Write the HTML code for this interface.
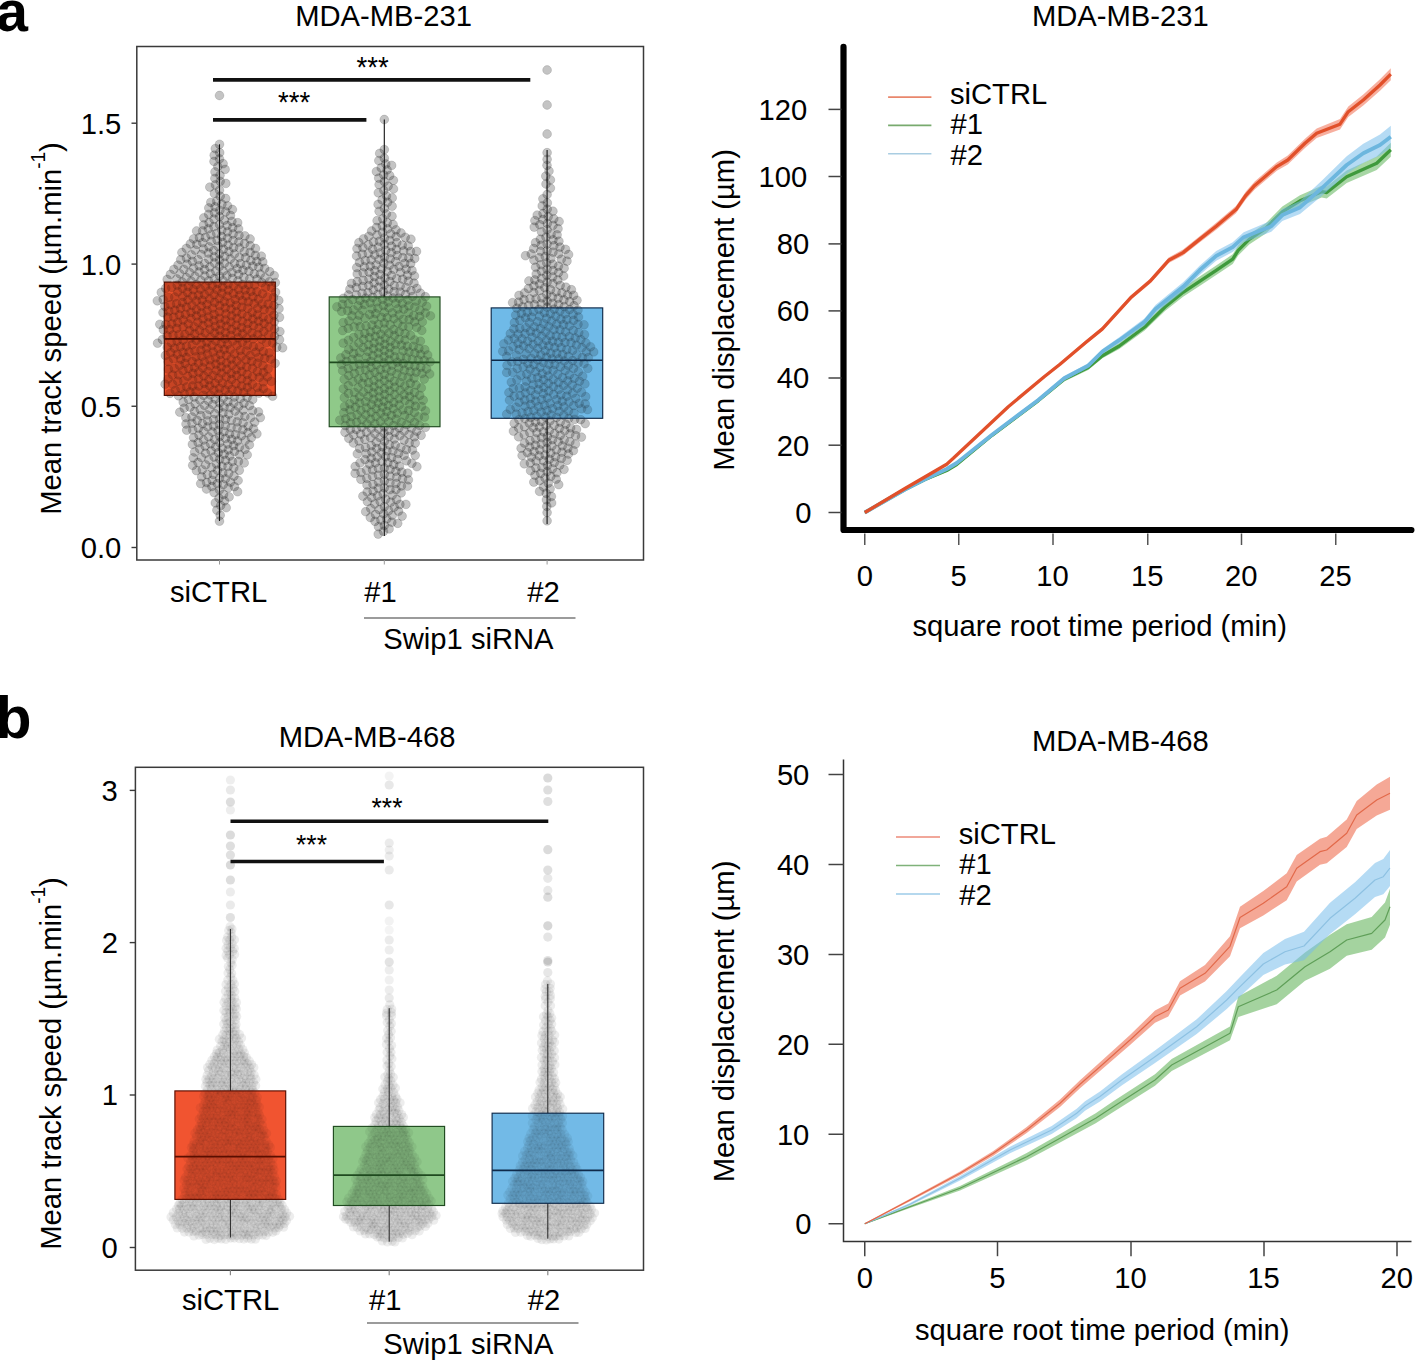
<!DOCTYPE html><html><head><meta charset="utf-8"><style>html,body{margin:0;padding:0;background:#fff;}svg{display:block;}</style></head><body><svg width="1416" height="1360" viewBox="0 0 1416 1360" font-family="Liberation Sans, sans-serif"><rect width="1416" height="1360" fill="#fff"/><text transform="translate(-3.79,31.20) scale(1,1.0)" font-size="57" font-weight="bold" fill="#000" >a</text>
<text transform="translate(-4.14,738.20) scale(1,1.0)" font-size="58.5" font-weight="bold" fill="#000" >b</text>
<rect x="136.80" y="46.50" width="506.70" height="513.50" fill="none" stroke="#3a3a3a" stroke-width="1.5" />
<line x1="131.50" y1="123.20" x2="136.80" y2="123.20" stroke="#3a3a3a" stroke-width="1.4" />
<text transform="translate(80.76,133.65) scale(1,1.04)" font-size="29.2" fill="#000" >1.5</text>
<line x1="131.50" y1="264.10" x2="136.80" y2="264.10" stroke="#3a3a3a" stroke-width="1.4" />
<text transform="translate(80.76,274.55) scale(1,1.04)" font-size="29.2" fill="#000" >1.0</text>
<line x1="131.50" y1="406.25" x2="136.80" y2="406.25" stroke="#3a3a3a" stroke-width="1.4" />
<text transform="translate(80.76,416.70) scale(1,1.04)" font-size="29.2" fill="#000" >0.5</text>
<line x1="131.50" y1="547.50" x2="136.80" y2="547.50" stroke="#3a3a3a" stroke-width="1.4" />
<text transform="translate(80.76,557.95) scale(1,1.04)" font-size="29.2" fill="#000" >0.0</text>
<line x1="219.50" y1="560.00" x2="219.50" y2="564.50" stroke="#999" stroke-width="1" />
<line x1="384.30" y1="560.00" x2="384.30" y2="564.50" stroke="#999" stroke-width="1" />
<line x1="547.10" y1="560.00" x2="547.10" y2="564.50" stroke="#999" stroke-width="1" />
<text transform="translate(295.16,26.20) scale(1,1.04)" font-size="29.2" fill="#000" >MDA-MB-231</text>
<text transform="translate(169.92,601.90) scale(1,1.04)" font-size="29.2" fill="#000" >siCTRL</text>
<text transform="translate(364.20,601.90) scale(1,1.04)" font-size="29.2" fill="#000" >#1</text>
<text transform="translate(527.30,602.20) scale(1,1.04)" font-size="29.2" fill="#000" >#2</text>
<line x1="364.00" y1="618.00" x2="575.50" y2="618.00" stroke="#7a7a7a" stroke-width="1.6" />
<text transform="translate(383.33,648.50) scale(1,1.04)" font-size="29.2" fill="#000" >Swip1 siRNA</text>
<text transform="translate(61,514.8) rotate(-90) scale(1,1.04)" font-size="29.2" fill="#000">Mean track speed (µm.min<tspan font-size="19" dy="-15">-1</tspan><tspan dy="15">)</tspan></text>
<defs><filter id="bla" x="-5%" y="-5%" width="110%" height="110%"><feGaussianBlur stdDeviation="0.45"/></filter></defs>
<rect x="164.30" y="282.10" width="111.00" height="113.30" fill="#ef522c" stroke="none" stroke-width="1" />
<g fill="rgba(0,0,0,0.23)" stroke="rgba(0,0,0,0.2)" stroke-width="0.7" filter="url(#bla)"><circle cx="219.5" cy="144.3" r="4.4"/><circle cx="215.3" cy="148.6" r="4.4"/><circle cx="219.7" cy="152.7" r="4.4"/><circle cx="214.2" cy="155.2" r="4.4"/><circle cx="219.5" cy="158.9" r="4.4"/><circle cx="214.0" cy="161.4" r="4.4"/><circle cx="223.1" cy="163.7" r="4.4"/><circle cx="217.8" cy="166.6" r="4.4"/><circle cx="225.1" cy="169.4" r="4.4"/><circle cx="215.0" cy="171.9" r="4.4"/><circle cx="220.0" cy="175.3" r="4.4"/><circle cx="214.9" cy="178.4" r="4.4"/><circle cx="220.2" cy="181.3" r="4.4"/><circle cx="225.8" cy="183.4" r="4.4"/><circle cx="215.4" cy="184.8" r="4.4"/><circle cx="209.8" cy="187.1" r="4.4"/><circle cx="219.5" cy="190.2" r="4.4"/><circle cx="214.4" cy="193.4" r="4.4"/><circle cx="220.2" cy="196.2" r="4.4"/><circle cx="225.7" cy="198.5" r="4.4"/><circle cx="216.7" cy="201.1" r="4.4"/><circle cx="210.8" cy="202.3" r="4.4"/><circle cx="221.9" cy="204.2" r="4.4"/><circle cx="227.6" cy="205.8" r="4.4"/><circle cx="215.0" cy="206.8" r="4.4"/><circle cx="208.8" cy="207.9" r="4.4"/><circle cx="232.4" cy="209.5" r="4.4"/><circle cx="219.9" cy="210.3" r="4.4"/><circle cx="225.7" cy="211.8" r="4.4"/><circle cx="214.5" cy="212.9" r="4.4"/><circle cx="208.7" cy="214.3" r="4.4"/><circle cx="230.5" cy="215.4" r="4.4"/><circle cx="219.5" cy="216.7" r="4.4"/><circle cx="203.8" cy="217.8" r="4.4"/><circle cx="214.0" cy="219.1" r="4.4"/><circle cx="224.4" cy="220.1" r="4.4"/><circle cx="231.9" cy="221.3" r="4.4"/><circle cx="209.1" cy="222.6" r="4.4"/><circle cx="237.7" cy="222.7" r="4.4"/><circle cx="219.5" cy="224.6" r="4.4"/><circle cx="203.6" cy="224.9" r="4.4"/><circle cx="227.1" cy="225.5" r="4.4"/><circle cx="213.9" cy="226.7" r="4.4"/><circle cx="232.7" cy="227.7" r="4.4"/><circle cx="208.3" cy="228.8" r="4.4"/><circle cx="238.6" cy="228.9" r="4.4"/><circle cx="221.8" cy="230.1" r="4.4"/><circle cx="202.6" cy="230.9" r="4.4"/><circle cx="196.6" cy="231.0" r="4.4"/><circle cx="227.5" cy="231.9" r="4.4"/><circle cx="216.6" cy="233.3" r="4.4"/><circle cx="233.1" cy="234.0" r="4.4"/><circle cx="210.9" cy="234.8" r="4.4"/><circle cx="239.0" cy="235.3" r="4.4"/><circle cx="244.9" cy="235.9" r="4.4"/><circle cx="221.7" cy="236.5" r="4.4"/><circle cx="205.4" cy="237.4" r="4.4"/><circle cx="199.4" cy="237.5" r="4.4"/><circle cx="227.4" cy="238.2" r="4.4"/><circle cx="193.6" cy="238.9" r="4.4"/><circle cx="250.1" cy="239.0" r="4.4"/><circle cx="217.1" cy="240.3" r="4.4"/><circle cx="233.0" cy="240.5" r="4.4"/><circle cx="211.2" cy="241.2" r="4.4"/><circle cx="238.8" cy="242.0" r="4.4"/><circle cx="222.7" cy="242.5" r="4.4"/><circle cx="202.6" cy="242.7" r="4.4"/><circle cx="244.6" cy="243.6" r="4.4"/><circle cx="190.3" cy="243.9" r="4.4"/><circle cx="196.8" cy="244.3" r="4.4"/><circle cx="228.1" cy="245.2" r="4.4"/><circle cx="250.2" cy="245.7" r="4.4"/><circle cx="218.1" cy="246.3" r="4.4"/><circle cx="209.0" cy="246.8" r="4.4"/><circle cx="233.6" cy="247.6" r="4.4"/><circle cx="239.5" cy="248.0" r="4.4"/><circle cx="186.3" cy="248.4" r="4.4"/><circle cx="255.5" cy="248.5" r="4.4"/><circle cx="203.5" cy="249.0" r="4.4"/><circle cx="223.4" cy="249.1" r="4.4"/><circle cx="195.2" cy="250.1" r="4.4"/><circle cx="213.8" cy="250.5" r="4.4"/><circle cx="228.9" cy="251.6" r="4.4"/><circle cx="244.2" cy="251.9" r="4.4"/><circle cx="250.1" cy="252.4" r="4.4"/><circle cx="181.9" cy="252.5" r="4.4"/><circle cx="208.3" cy="253.0" r="4.4"/><circle cx="219.5" cy="253.8" r="4.4"/><circle cx="234.4" cy="254.0" r="4.4"/><circle cx="201.2" cy="254.5" r="4.4"/><circle cx="191.5" cy="254.9" r="4.4"/><circle cx="255.3" cy="255.4" r="4.4"/><circle cx="261.3" cy="256.1" r="4.4"/><circle cx="224.9" cy="256.4" r="4.4"/><circle cx="214.3" cy="256.9" r="4.4"/><circle cx="239.3" cy="257.4" r="4.4"/><circle cx="245.6" cy="257.7" r="4.4"/><circle cx="186.4" cy="258.0" r="4.4"/><circle cx="230.4" cy="259.0" r="4.4"/><circle cx="208.8" cy="259.1" r="4.4"/><circle cx="198.1" cy="259.7" r="4.4"/><circle cx="180.7" cy="259.7" r="4.4"/><circle cx="219.5" cy="259.9" r="4.4"/><circle cx="250.9" cy="260.5" r="4.4"/><circle cx="192.4" cy="261.4" r="4.4"/><circle cx="256.8" cy="261.5" r="4.4"/><circle cx="262.8" cy="261.9" r="4.4"/><circle cx="214.4" cy="263.0" r="4.4"/><circle cx="224.5" cy="263.1" r="4.4"/><circle cx="234.5" cy="263.3" r="4.4"/><circle cx="204.7" cy="263.5" r="4.4"/><circle cx="240.5" cy="263.7" r="4.4"/><circle cx="187.1" cy="264.2" r="4.4"/><circle cx="246.3" cy="265.1" r="4.4"/><circle cx="178.0" cy="265.1" r="4.4"/><circle cx="199.1" cy="265.8" r="4.4"/><circle cx="252.8" cy="266.2" r="4.4"/><circle cx="219.5" cy="266.3" r="4.4"/><circle cx="209.9" cy="267.0" r="4.4"/><circle cx="229.1" cy="267.0" r="4.4"/><circle cx="258.8" cy="267.2" r="4.4"/><circle cx="193.5" cy="268.0" r="4.4"/><circle cx="264.7" cy="268.4" r="4.4"/><circle cx="237.2" cy="268.7" r="4.4"/><circle cx="183.9" cy="269.3" r="4.4"/><circle cx="173.9" cy="269.4" r="4.4"/><circle cx="204.6" cy="269.7" r="4.4"/><circle cx="243.0" cy="270.1" r="4.4"/><circle cx="223.2" cy="271.1" r="4.4"/><circle cx="215.8" cy="271.1" r="4.4"/><circle cx="248.9" cy="271.1" r="4.4"/><circle cx="269.7" cy="271.7" r="4.4"/><circle cx="199.0" cy="272.0" r="4.4"/><circle cx="232.0" cy="272.3" r="4.4"/><circle cx="189.7" cy="272.7" r="4.4"/><circle cx="210.4" cy="273.6" r="4.4"/><circle cx="254.3" cy="273.8" r="4.4"/><circle cx="179.9" cy="273.8" r="4.4"/><circle cx="260.3" cy="274.0" r="4.4"/><circle cx="170.4" cy="274.4" r="4.4"/><circle cx="238.6" cy="274.5" r="4.4"/><circle cx="274.2" cy="275.6" r="4.4"/><circle cx="226.9" cy="275.7" r="4.4"/><circle cx="219.5" cy="275.9" r="4.4"/><circle cx="204.9" cy="276.0" r="4.4"/><circle cx="195.0" cy="276.4" r="4.4"/><circle cx="243.9" cy="277.2" r="4.4"/><circle cx="186.2" cy="277.5" r="4.4"/><circle cx="265.1" cy="277.6" r="4.4"/><circle cx="232.4" cy="278.3" r="4.4"/><circle cx="214.1" cy="278.6" r="4.4"/><circle cx="249.7" cy="278.8" r="4.4"/><circle cx="176.8" cy="278.9" r="4.4"/><circle cx="256.9" cy="279.2" r="4.4"/><circle cx="167.2" cy="279.4" r="4.4"/><circle cx="200.8" cy="280.4" r="4.4"/><circle cx="223.1" cy="280.7" r="4.4"/><circle cx="237.9" cy="280.8" r="4.4"/><circle cx="208.6" cy="280.9" r="4.4"/><circle cx="191.2" cy="281.1" r="4.4"/><circle cx="269.4" cy="281.8" r="4.4"/><circle cx="182.3" cy="282.0" r="4.4"/><circle cx="275.3" cy="282.6" r="4.4"/><circle cx="261.8" cy="282.6" r="4.4"/><circle cx="217.8" cy="283.4" r="4.4"/><circle cx="228.0" cy="284.2" r="4.4"/><circle cx="242.7" cy="284.4" r="4.4"/><circle cx="196.5" cy="284.6" r="4.4"/><circle cx="248.7" cy="284.8" r="4.4"/><circle cx="254.6" cy="285.1" r="4.4"/><circle cx="177.2" cy="285.2" r="4.4"/><circle cx="212.3" cy="285.8" r="4.4"/><circle cx="233.7" cy="285.9" r="4.4"/><circle cx="205.5" cy="286.1" r="4.4"/><circle cx="188.3" cy="286.4" r="4.4"/><circle cx="222.5" cy="287.2" r="4.4"/><circle cx="265.5" cy="287.4" r="4.4"/><circle cx="171.7" cy="287.5" r="4.4"/><circle cx="271.5" cy="287.7" r="4.4"/><circle cx="182.5" cy="288.1" r="4.4"/><circle cx="165.7" cy="288.3" r="4.4"/><circle cx="200.4" cy="289.2" r="4.4"/><circle cx="238.6" cy="289.5" r="4.4"/><circle cx="217.0" cy="289.7" r="4.4"/><circle cx="193.4" cy="289.7" r="4.4"/><circle cx="245.1" cy="289.9" r="4.4"/><circle cx="228.4" cy="290.2" r="4.4"/><circle cx="209.2" cy="291.0" r="4.4"/><circle cx="250.9" cy="291.3" r="4.4"/><circle cx="256.9" cy="291.7" r="4.4"/><circle cx="177.8" cy="291.8" r="4.4"/><circle cx="275.6" cy="292.1" r="4.4"/><circle cx="187.4" cy="292.3" r="4.4"/><circle cx="161.3" cy="292.4" r="4.4"/><circle cx="221.9" cy="293.2" r="4.4"/><circle cx="233.3" cy="293.6" r="4.4"/><circle cx="262.5" cy="293.8" r="4.4"/><circle cx="204.5" cy="294.6" r="4.4"/><circle cx="214.0" cy="294.8" r="4.4"/><circle cx="198.5" cy="295.1" r="4.4"/><circle cx="239.6" cy="295.4" r="4.4"/><circle cx="246.0" cy="295.8" r="4.4"/><circle cx="227.2" cy="296.1" r="4.4"/><circle cx="192.6" cy="296.2" r="4.4"/><circle cx="183.0" cy="296.4" r="4.4"/><circle cx="253.0" cy="296.9" r="4.4"/><circle cx="174.7" cy="297.0" r="4.4"/><circle cx="267.6" cy="297.0" r="4.4"/><circle cx="168.7" cy="297.3" r="4.4"/><circle cx="273.5" cy="297.7" r="4.4"/><circle cx="219.1" cy="298.5" r="4.4"/><circle cx="209.6" cy="299.0" r="4.4"/><circle cx="258.6" cy="299.2" r="4.4"/><circle cx="235.2" cy="299.4" r="4.4"/><circle cx="163.2" cy="299.6" r="4.4"/><circle cx="187.9" cy="299.9" r="4.4"/><circle cx="202.2" cy="300.1" r="4.4"/><circle cx="278.8" cy="300.5" r="4.4"/><circle cx="242.4" cy="300.7" r="4.4"/><circle cx="157.3" cy="300.8" r="4.4"/><circle cx="196.3" cy="301.0" r="4.4"/><circle cx="224.3" cy="301.6" r="4.4"/><circle cx="248.3" cy="301.8" r="4.4"/><circle cx="214.6" cy="302.4" r="4.4"/><circle cx="182.4" cy="302.5" r="4.4"/><circle cx="230.2" cy="302.8" r="4.4"/><circle cx="254.1" cy="303.5" r="4.4"/><circle cx="176.6" cy="303.7" r="4.4"/><circle cx="262.1" cy="304.0" r="4.4"/><circle cx="268.1" cy="304.1" r="4.4"/><circle cx="207.0" cy="304.4" r="4.4"/><circle cx="170.6" cy="304.7" r="4.4"/><circle cx="236.2" cy="305.3" r="4.4"/><circle cx="192.0" cy="305.3" r="4.4"/><circle cx="273.9" cy="305.5" r="4.4"/><circle cx="219.6" cy="305.7" r="4.4"/><circle cx="201.3" cy="306.2" r="4.4"/><circle cx="164.9" cy="306.3" r="4.4"/><circle cx="241.8" cy="307.2" r="4.4"/><circle cx="186.4" cy="307.2" r="4.4"/><circle cx="225.2" cy="307.9" r="4.4"/><circle cx="212.6" cy="308.1" r="4.4"/><circle cx="247.8" cy="308.2" r="4.4"/><circle cx="257.7" cy="308.3" r="4.4"/><circle cx="180.5" cy="308.3" r="4.4"/><circle cx="279.0" cy="308.7" r="4.4"/><circle cx="231.1" cy="309.0" r="4.4"/><circle cx="196.3" cy="309.6" r="4.4"/><circle cx="264.1" cy="309.7" r="4.4"/><circle cx="174.8" cy="310.2" r="4.4"/><circle cx="207.1" cy="310.6" r="4.4"/><circle cx="270.0" cy="310.6" r="4.4"/><circle cx="168.8" cy="311.1" r="4.4"/><circle cx="219.5" cy="311.8" r="4.4"/><circle cx="236.4" cy="311.9" r="4.4"/><circle cx="191.0" cy="312.3" r="4.4"/><circle cx="252.1" cy="312.3" r="4.4"/><circle cx="163.0" cy="312.6" r="4.4"/><circle cx="201.6" cy="312.9" r="4.4"/><circle cx="225.9" cy="313.9" r="4.4"/><circle cx="242.0" cy="313.9" r="4.4"/><circle cx="214.1" cy="314.4" r="4.4"/><circle cx="185.4" cy="314.4" r="4.4"/><circle cx="257.5" cy="314.8" r="4.4"/><circle cx="179.4" cy="314.9" r="4.4"/><circle cx="273.9" cy="315.2" r="4.4"/><circle cx="231.6" cy="315.8" r="4.4"/><circle cx="196.4" cy="315.9" r="4.4"/><circle cx="247.5" cy="316.4" r="4.4"/><circle cx="208.6" cy="316.9" r="4.4"/><circle cx="263.1" cy="317.1" r="4.4"/><circle cx="173.8" cy="317.2" r="4.4"/><circle cx="167.8" cy="317.2" r="4.4"/><circle cx="279.5" cy="317.3" r="4.4"/><circle cx="219.5" cy="318.3" r="4.4"/><circle cx="237.0" cy="318.4" r="4.4"/><circle cx="191.0" cy="318.5" r="4.4"/><circle cx="203.0" cy="318.8" r="4.4"/><circle cx="252.9" cy="319.0" r="4.4"/><circle cx="268.7" cy="319.1" r="4.4"/><circle cx="225.3" cy="320.0" r="4.4"/><circle cx="183.1" cy="320.0" r="4.4"/><circle cx="213.9" cy="320.4" r="4.4"/><circle cx="242.3" cy="321.1" r="4.4"/><circle cx="258.5" cy="321.1" r="4.4"/><circle cx="274.2" cy="321.7" r="4.4"/><circle cx="230.9" cy="321.9" r="4.4"/><circle cx="197.9" cy="322.1" r="4.4"/><circle cx="177.6" cy="322.4" r="4.4"/><circle cx="208.4" cy="323.0" r="4.4"/><circle cx="247.9" cy="323.3" r="4.4"/><circle cx="264.1" cy="323.4" r="4.4"/><circle cx="188.3" cy="323.9" r="4.4"/><circle cx="171.8" cy="323.9" r="4.4"/><circle cx="220.8" cy="324.2" r="4.4"/><circle cx="165.8" cy="324.3" r="4.4"/><circle cx="159.8" cy="324.3" r="4.4"/><circle cx="236.1" cy="325.1" r="4.4"/><circle cx="203.0" cy="325.5" r="4.4"/><circle cx="253.4" cy="325.7" r="4.4"/><circle cx="226.5" cy="326.1" r="4.4"/><circle cx="215.2" cy="326.4" r="4.4"/><circle cx="194.2" cy="326.8" r="4.4"/><circle cx="183.1" cy="326.8" r="4.4"/><circle cx="268.9" cy="326.9" r="4.4"/><circle cx="241.5" cy="327.6" r="4.4"/><circle cx="259.0" cy="327.9" r="4.4"/><circle cx="176.7" cy="328.3" r="4.4"/><circle cx="274.6" cy="328.8" r="4.4"/><circle cx="209.9" cy="329.1" r="4.4"/><circle cx="231.6" cy="329.3" r="4.4"/><circle cx="247.2" cy="329.4" r="4.4"/><circle cx="169.5" cy="329.5" r="4.4"/><circle cx="163.3" cy="329.7" r="4.4"/><circle cx="219.9" cy="330.2" r="4.4"/><circle cx="199.6" cy="330.4" r="4.4"/><circle cx="189.6" cy="330.7" r="4.4"/><circle cx="263.9" cy="331.4" r="4.4"/><circle cx="279.9" cy="331.6" r="4.4"/><circle cx="237.0" cy="332.0" r="4.4"/><circle cx="225.4" cy="332.6" r="4.4"/><circle cx="205.2" cy="332.8" r="4.4"/><circle cx="214.6" cy="332.9" r="4.4"/><circle cx="252.0" cy="333.0" r="4.4"/><circle cx="242.7" cy="333.8" r="4.4"/><circle cx="194.7" cy="333.9" r="4.4"/><circle cx="185.0" cy="334.5" r="4.4"/><circle cx="257.8" cy="334.6" r="4.4"/><circle cx="179.0" cy="334.6" r="4.4"/><circle cx="173.0" cy="335.0" r="4.4"/><circle cx="268.6" cy="335.1" r="4.4"/><circle cx="230.7" cy="335.3" r="4.4"/><circle cx="167.1" cy="335.8" r="4.4"/><circle cx="219.6" cy="336.2" r="4.4"/><circle cx="274.5" cy="336.3" r="4.4"/><circle cx="210.5" cy="337.3" r="4.4"/><circle cx="201.5" cy="337.6" r="4.4"/><circle cx="238.2" cy="337.8" r="4.4"/><circle cx="246.8" cy="338.1" r="4.4"/><circle cx="190.5" cy="338.2" r="4.4"/><circle cx="225.0" cy="338.8" r="4.4"/><circle cx="253.3" cy="338.9" r="4.4"/><circle cx="261.7" cy="339.1" r="4.4"/><circle cx="162.4" cy="339.6" r="4.4"/><circle cx="279.5" cy="339.7" r="4.4"/><circle cx="183.0" cy="340.2" r="4.4"/><circle cx="196.2" cy="340.4" r="4.4"/><circle cx="215.8" cy="340.9" r="4.4"/><circle cx="232.9" cy="341.0" r="4.4"/><circle cx="177.1" cy="341.1" r="4.4"/><circle cx="206.9" cy="342.1" r="4.4"/><circle cx="242.3" cy="342.2" r="4.4"/><circle cx="266.6" cy="342.6" r="4.4"/><circle cx="171.4" cy="342.8" r="4.4"/><circle cx="272.6" cy="342.9" r="4.4"/><circle cx="157.6" cy="343.2" r="4.4"/><circle cx="221.2" cy="343.5" r="4.4"/><circle cx="227.6" cy="344.2" r="4.4"/><circle cx="201.3" cy="344.2" r="4.4"/><circle cx="192.2" cy="344.9" r="4.4"/><circle cx="247.6" cy="345.1" r="4.4"/><circle cx="237.0" cy="345.3" r="4.4"/><circle cx="212.1" cy="345.6" r="4.4"/><circle cx="186.4" cy="346.2" r="4.4"/><circle cx="253.4" cy="346.6" r="4.4"/><circle cx="180.4" cy="346.7" r="4.4"/><circle cx="259.4" cy="346.9" r="4.4"/><circle cx="167.3" cy="347.2" r="4.4"/><circle cx="276.7" cy="347.3" r="4.4"/><circle cx="282.6" cy="347.8" r="4.4"/><circle cx="206.5" cy="348.1" r="4.4"/><circle cx="174.5" cy="348.1" r="4.4"/><circle cx="218.2" cy="348.7" r="4.4"/><circle cx="224.2" cy="349.5" r="4.4"/><circle cx="230.2" cy="349.7" r="4.4"/><circle cx="200.9" cy="350.2" r="4.4"/><circle cx="240.2" cy="350.4" r="4.4"/><circle cx="194.9" cy="350.9" r="4.4"/><circle cx="246.2" cy="351.0" r="4.4"/><circle cx="263.3" cy="351.5" r="4.4"/><circle cx="213.2" cy="352.0" r="4.4"/><circle cx="189.0" cy="352.0" r="4.4"/><circle cx="255.8" cy="352.1" r="4.4"/><circle cx="183.0" cy="352.3" r="4.4"/><circle cx="170.7" cy="352.7" r="4.4"/><circle cx="269.2" cy="352.9" r="4.4"/><circle cx="234.6" cy="353.8" r="4.4"/><circle cx="207.5" cy="354.0" r="4.4"/><circle cx="177.3" cy="354.2" r="4.4"/><circle cx="220.4" cy="354.3" r="4.4"/><circle cx="226.3" cy="355.4" r="4.4"/><circle cx="250.2" cy="355.5" r="4.4"/><circle cx="165.4" cy="355.5" r="4.4"/><circle cx="201.9" cy="356.2" r="4.4"/><circle cx="241.2" cy="356.3" r="4.4"/><circle cx="196.0" cy="356.9" r="4.4"/><circle cx="258.9" cy="357.3" r="4.4"/><circle cx="186.4" cy="357.5" r="4.4"/><circle cx="215.6" cy="357.9" r="4.4"/><circle cx="264.8" cy="358.2" r="4.4"/><circle cx="173.5" cy="358.8" r="4.4"/><circle cx="231.2" cy="359.0" r="4.4"/><circle cx="270.7" cy="359.1" r="4.4"/><circle cx="180.7" cy="359.2" r="4.4"/><circle cx="209.9" cy="359.8" r="4.4"/><circle cx="246.0" cy="359.9" r="4.4"/><circle cx="220.9" cy="360.7" r="4.4"/><circle cx="236.9" cy="360.9" r="4.4"/><circle cx="192.1" cy="361.4" r="4.4"/><circle cx="251.8" cy="361.4" r="4.4"/><circle cx="168.2" cy="361.7" r="4.4"/><circle cx="204.3" cy="362.0" r="4.4"/><circle cx="226.5" cy="363.0" r="4.4"/><circle cx="198.4" cy="363.1" r="4.4"/><circle cx="257.5" cy="363.1" r="4.4"/><circle cx="275.1" cy="363.3" r="4.4"/><circle cx="185.1" cy="363.3" r="4.4"/><circle cx="215.9" cy="364.1" r="4.4"/><circle cx="232.1" cy="365.1" r="4.4"/><circle cx="240.9" cy="365.3" r="4.4"/><circle cx="179.5" cy="365.4" r="4.4"/><circle cx="263.0" cy="365.6" r="4.4"/><circle cx="210.2" cy="365.9" r="4.4"/><circle cx="221.2" cy="366.9" r="4.4"/><circle cx="246.7" cy="367.0" r="4.4"/><circle cx="194.4" cy="367.5" r="4.4"/><circle cx="202.8" cy="367.8" r="4.4"/><circle cx="252.5" cy="368.2" r="4.4"/><circle cx="188.5" cy="368.3" r="4.4"/><circle cx="174.3" cy="368.5" r="4.4"/><circle cx="268.1" cy="368.8" r="4.4"/><circle cx="226.8" cy="369.2" r="4.4"/><circle cx="168.4" cy="369.2" r="4.4"/><circle cx="236.1" cy="369.5" r="4.4"/><circle cx="216.3" cy="370.3" r="4.4"/><circle cx="183.0" cy="370.7" r="4.4"/><circle cx="207.9" cy="371.5" r="4.4"/><circle cx="241.8" cy="371.5" r="4.4"/><circle cx="257.4" cy="371.7" r="4.4"/><circle cx="198.8" cy="372.2" r="4.4"/><circle cx="263.4" cy="372.5" r="4.4"/><circle cx="221.6" cy="373.1" r="4.4"/><circle cx="231.1" cy="373.3" r="4.4"/><circle cx="192.9" cy="373.4" r="4.4"/><circle cx="247.1" cy="374.4" r="4.4"/><circle cx="178.6" cy="374.8" r="4.4"/><circle cx="172.6" cy="375.0" r="4.4"/><circle cx="212.9" cy="375.3" r="4.4"/><circle cx="236.7" cy="375.5" r="4.4"/><circle cx="203.9" cy="375.9" r="4.4"/><circle cx="187.6" cy="376.2" r="4.4"/><circle cx="252.6" cy="376.8" r="4.4"/><circle cx="267.4" cy="376.9" r="4.4"/><circle cx="226.3" cy="376.9" r="4.4"/><circle cx="259.2" cy="377.4" r="4.4"/><circle cx="218.5" cy="378.3" r="4.4"/><circle cx="198.6" cy="378.8" r="4.4"/><circle cx="241.6" cy="378.9" r="4.4"/><circle cx="168.1" cy="379.0" r="4.4"/><circle cx="231.7" cy="379.5" r="4.4"/><circle cx="208.9" cy="379.7" r="4.4"/><circle cx="192.7" cy="379.8" r="4.4"/><circle cx="247.4" cy="380.7" r="4.4"/><circle cx="183.8" cy="380.9" r="4.4"/><circle cx="177.8" cy="381.2" r="4.4"/><circle cx="271.4" cy="381.4" r="4.4"/><circle cx="263.3" cy="381.9" r="4.4"/><circle cx="222.5" cy="382.8" r="4.4"/><circle cx="215.1" cy="383.2" r="4.4"/><circle cx="204.1" cy="383.3" r="4.4"/><circle cx="236.0" cy="383.7" r="4.4"/><circle cx="252.4" cy="384.0" r="4.4"/><circle cx="172.6" cy="384.2" r="4.4"/><circle cx="165.1" cy="384.2" r="4.4"/><circle cx="228.2" cy="384.8" r="4.4"/><circle cx="209.7" cy="385.8" r="4.4"/><circle cx="198.7" cy="386.0" r="4.4"/><circle cx="241.6" cy="386.0" r="4.4"/><circle cx="192.7" cy="386.0" r="4.4"/><circle cx="186.7" cy="386.9" r="4.4"/><circle cx="257.4" cy="387.3" r="4.4"/><circle cx="247.4" cy="387.4" r="4.4"/><circle cx="219.5" cy="388.2" r="4.4"/><circle cx="180.9" cy="388.3" r="4.4"/><circle cx="263.3" cy="388.7" r="4.4"/><circle cx="232.0" cy="389.4" r="4.4"/><circle cx="205.0" cy="389.5" r="4.4"/><circle cx="225.2" cy="390.1" r="4.4"/><circle cx="213.9" cy="390.2" r="4.4"/><circle cx="175.3" cy="390.4" r="4.4"/><circle cx="237.8" cy="391.0" r="4.4"/><circle cx="196.0" cy="391.3" r="4.4"/><circle cx="190.0" cy="392.0" r="4.4"/><circle cx="251.1" cy="392.1" r="4.4"/><circle cx="243.7" cy="392.3" r="4.4"/><circle cx="267.6" cy="392.9" r="4.4"/><circle cx="259.0" cy="393.1" r="4.4"/><circle cx="170.0" cy="393.3" r="4.4"/><circle cx="184.3" cy="393.8" r="4.4"/><circle cx="218.7" cy="394.1" r="4.4"/><circle cx="228.9" cy="394.8" r="4.4"/><circle cx="210.3" cy="395.0" r="4.4"/><circle cx="203.5" cy="395.3" r="4.4"/><circle cx="178.6" cy="395.8" r="4.4"/><circle cx="272.6" cy="396.2" r="4.4"/><circle cx="234.5" cy="397.0" r="4.4"/><circle cx="194.1" cy="397.0" r="4.4"/><circle cx="247.1" cy="397.3" r="4.4"/><circle cx="223.3" cy="397.9" r="4.4"/><circle cx="240.3" cy="398.4" r="4.4"/><circle cx="215.2" cy="399.0" r="4.4"/><circle cx="188.5" cy="399.3" r="4.4"/><circle cx="252.7" cy="399.4" r="4.4"/><circle cx="199.9" cy="400.1" r="4.4"/><circle cx="208.2" cy="400.6" r="4.4"/><circle cx="227.9" cy="401.8" r="4.4"/><circle cx="183.2" cy="402.1" r="4.4"/><circle cx="219.7" cy="402.9" r="4.4"/><circle cx="233.8" cy="403.0" r="4.4"/><circle cx="244.0" cy="403.2" r="4.4"/><circle cx="195.2" cy="403.9" r="4.4"/><circle cx="212.8" cy="404.5" r="4.4"/><circle cx="204.5" cy="405.4" r="4.4"/><circle cx="249.5" cy="405.6" r="4.4"/><circle cx="238.7" cy="406.4" r="4.4"/><circle cx="224.1" cy="406.9" r="4.4"/><circle cx="190.1" cy="407.1" r="4.4"/><circle cx="230.1" cy="407.7" r="4.4"/><circle cx="184.2" cy="408.1" r="4.4"/><circle cx="218.5" cy="409.0" r="4.4"/><circle cx="209.5" cy="409.5" r="4.4"/><circle cx="200.2" cy="409.5" r="4.4"/><circle cx="243.4" cy="410.1" r="4.4"/><circle cx="252.6" cy="410.7" r="4.4"/><circle cx="235.0" cy="411.2" r="4.4"/><circle cx="194.5" cy="411.5" r="4.4"/><circle cx="258.5" cy="411.9" r="4.4"/><circle cx="179.8" cy="412.2" r="4.4"/><circle cx="223.0" cy="413.0" r="4.4"/><circle cx="214.8" cy="413.7" r="4.4"/><circle cx="228.9" cy="414.1" r="4.4"/><circle cx="206.9" cy="414.9" r="4.4"/><circle cx="200.9" cy="415.6" r="4.4"/><circle cx="238.9" cy="415.7" r="4.4"/><circle cx="244.9" cy="416.5" r="4.4"/><circle cx="191.9" cy="416.9" r="4.4"/><circle cx="250.8" cy="417.5" r="4.4"/><circle cx="185.9" cy="417.6" r="4.4"/><circle cx="260.3" cy="417.6" r="4.4"/><circle cx="219.5" cy="418.7" r="4.4"/><circle cx="225.5" cy="419.4" r="4.4"/><circle cx="213.6" cy="419.7" r="4.4"/><circle cx="231.4" cy="420.3" r="4.4"/><circle cx="197.2" cy="420.3" r="4.4"/><circle cx="207.7" cy="420.8" r="4.4"/><circle cx="237.2" cy="421.8" r="4.4"/><circle cx="254.7" cy="422.1" r="4.4"/><circle cx="243.1" cy="422.9" r="4.4"/><circle cx="192.0" cy="423.3" r="4.4"/><circle cx="202.4" cy="423.6" r="4.4"/><circle cx="186.0" cy="424.0" r="4.4"/><circle cx="219.5" cy="424.7" r="4.4"/><circle cx="225.4" cy="425.6" r="4.4"/><circle cx="213.6" cy="426.0" r="4.4"/><circle cx="248.2" cy="426.1" r="4.4"/><circle cx="207.7" cy="426.9" r="4.4"/><circle cx="231.1" cy="427.6" r="4.4"/><circle cx="237.1" cy="428.0" r="4.4"/><circle cx="198.4" cy="428.2" r="4.4"/><circle cx="253.5" cy="428.8" r="4.4"/><circle cx="242.9" cy="429.6" r="4.4"/><circle cx="192.7" cy="429.9" r="4.4"/><circle cx="186.7" cy="430.2" r="4.4"/><circle cx="218.1" cy="430.6" r="4.4"/><circle cx="203.7" cy="431.4" r="4.4"/><circle cx="224.0" cy="431.6" r="4.4"/><circle cx="212.3" cy="432.0" r="4.4"/><circle cx="248.0" cy="432.7" r="4.4"/><circle cx="229.6" cy="433.8" r="4.4"/><circle cx="256.9" cy="433.8" r="4.4"/><circle cx="235.5" cy="434.7" r="4.4"/><circle cx="199.0" cy="435.1" r="4.4"/><circle cx="241.4" cy="435.8" r="4.4"/><circle cx="219.8" cy="436.3" r="4.4"/><circle cx="208.6" cy="436.8" r="4.4"/><circle cx="193.6" cy="437.6" r="4.4"/><circle cx="251.3" cy="437.7" r="4.4"/><circle cx="225.5" cy="438.4" r="4.4"/><circle cx="214.7" cy="439.4" r="4.4"/><circle cx="231.7" cy="439.4" r="4.4"/><circle cx="203.5" cy="440.0" r="4.4"/><circle cx="245.2" cy="440.5" r="4.4"/><circle cx="237.5" cy="441.0" r="4.4"/><circle cx="219.7" cy="442.6" r="4.4"/><circle cx="198.1" cy="442.7" r="4.4"/><circle cx="210.6" cy="443.8" r="4.4"/><circle cx="227.8" cy="444.0" r="4.4"/><circle cx="192.4" cy="444.3" r="4.4"/><circle cx="249.4" cy="444.8" r="4.4"/><circle cx="233.6" cy="445.6" r="4.4"/><circle cx="205.1" cy="446.1" r="4.4"/><circle cx="215.7" cy="447.1" r="4.4"/><circle cx="239.4" cy="447.1" r="4.4"/><circle cx="222.2" cy="448.1" r="4.4"/><circle cx="199.7" cy="448.9" r="4.4"/><circle cx="245.0" cy="449.3" r="4.4"/><circle cx="228.3" cy="449.9" r="4.4"/><circle cx="211.1" cy="450.9" r="4.4"/><circle cx="234.5" cy="451.5" r="4.4"/><circle cx="194.6" cy="452.0" r="4.4"/><circle cx="218.3" cy="452.7" r="4.4"/><circle cx="205.5" cy="453.2" r="4.4"/><circle cx="224.1" cy="454.2" r="4.4"/><circle cx="239.7" cy="454.7" r="4.4"/><circle cx="247.2" cy="454.8" r="4.4"/><circle cx="229.8" cy="456.0" r="4.4"/><circle cx="214.1" cy="457.0" r="4.4"/><circle cx="201.4" cy="457.5" r="4.4"/><circle cx="193.2" cy="457.8" r="4.4"/><circle cx="219.7" cy="459.1" r="4.4"/><circle cx="208.8" cy="459.7" r="4.4"/><circle cx="225.6" cy="460.4" r="4.4"/><circle cx="232.4" cy="461.4" r="4.4"/><circle cx="238.4" cy="461.4" r="4.4"/><circle cx="198.0" cy="462.5" r="4.4"/><circle cx="244.2" cy="462.9" r="4.4"/><circle cx="216.4" cy="464.0" r="4.4"/><circle cx="205.7" cy="464.8" r="4.4"/><circle cx="192.7" cy="465.3" r="4.4"/><circle cx="222.0" cy="466.2" r="4.4"/><circle cx="228.0" cy="466.4" r="4.4"/><circle cx="211.6" cy="467.7" r="4.4"/><circle cx="233.8" cy="467.8" r="4.4"/><circle cx="202.3" cy="469.8" r="4.4"/><circle cx="217.5" cy="470.2" r="4.4"/><circle cx="239.3" cy="470.3" r="4.4"/><circle cx="196.4" cy="470.6" r="4.4"/><circle cx="222.8" cy="472.9" r="4.4"/><circle cx="228.8" cy="473.1" r="4.4"/><circle cx="213.3" cy="474.5" r="4.4"/><circle cx="207.3" cy="474.7" r="4.4"/><circle cx="234.0" cy="476.1" r="4.4"/><circle cx="201.7" cy="476.8" r="4.4"/><circle cx="219.5" cy="478.2" r="4.4"/><circle cx="225.5" cy="478.8" r="4.4"/><circle cx="212.2" cy="480.3" r="4.4"/><circle cx="238.1" cy="480.5" r="4.4"/><circle cx="230.5" cy="482.1" r="4.4"/><circle cx="206.6" cy="482.5" r="4.4"/><circle cx="200.7" cy="483.6" r="4.4"/><circle cx="217.2" cy="483.7" r="4.4"/><circle cx="223.2" cy="484.6" r="4.4"/><circle cx="211.9" cy="486.5" r="4.4"/><circle cx="234.4" cy="486.6" r="4.4"/><circle cx="228.2" cy="487.9" r="4.4"/><circle cx="206.5" cy="489.0" r="4.4"/><circle cx="219.5" cy="490.0" r="4.4"/><circle cx="237.6" cy="491.7" r="4.4"/><circle cx="214.1" cy="492.6" r="4.4"/><circle cx="223.6" cy="494.4" r="4.4"/><circle cx="229.1" cy="496.9" r="4.4"/><circle cx="219.0" cy="498.2" r="4.4"/><circle cx="224.5" cy="500.8" r="4.4"/><circle cx="215.3" cy="502.9" r="4.4"/><circle cx="220.7" cy="505.5" r="4.4"/><circle cx="226.2" cy="507.7" r="4.4"/><circle cx="216.9" cy="510.2" r="4.4"/><circle cx="220.2" cy="515.2" r="4.4"/><circle cx="219.5" cy="521.2" r="4.4"/><circle cx="219.5" cy="95.5" r="4.4"/></g>
<rect x="164.30" y="282.10" width="111.00" height="113.30" fill="#ef522c" stroke="none" stroke-width="1" fill-opacity="0.28"/>
<line x1="219.50" y1="144.30" x2="219.50" y2="282.10" stroke="#111" stroke-width="1.1" />
<line x1="219.50" y1="395.40" x2="219.50" y2="521.00" stroke="#111" stroke-width="1.1" />
<rect x="164.30" y="282.10" width="111.00" height="113.30" fill="none" stroke="#4a0c00" stroke-width="1.15" />
<line x1="164.30" y1="338.90" x2="275.30" y2="338.90" stroke="#4a0c00" stroke-width="1.6" />
<rect x="329.20" y="296.90" width="110.80" height="129.80" fill="#8fc98a" stroke="none" stroke-width="1" />
<g fill="rgba(0,0,0,0.23)" stroke="rgba(0,0,0,0.2)" stroke-width="0.7" filter="url(#bla)"><circle cx="384.3" cy="149.6" r="4.4"/><circle cx="379.7" cy="153.4" r="4.4"/><circle cx="384.3" cy="158.2" r="4.4"/><circle cx="378.8" cy="160.6" r="4.4"/><circle cx="385.8" cy="164.0" r="4.4"/><circle cx="391.6" cy="165.4" r="4.4"/><circle cx="381.2" cy="167.9" r="4.4"/><circle cx="387.1" cy="169.9" r="4.4"/><circle cx="376.4" cy="171.6" r="4.4"/><circle cx="383.7" cy="174.8" r="4.4"/><circle cx="389.7" cy="175.6" r="4.4"/><circle cx="378.7" cy="178.1" r="4.4"/><circle cx="393.4" cy="180.3" r="4.4"/><circle cx="384.3" cy="181.6" r="4.4"/><circle cx="379.1" cy="184.6" r="4.4"/><circle cx="388.1" cy="186.2" r="4.4"/><circle cx="393.5" cy="188.9" r="4.4"/><circle cx="383.9" cy="190.5" r="4.4"/><circle cx="378.3" cy="192.8" r="4.4"/><circle cx="386.5" cy="195.9" r="4.4"/><circle cx="392.2" cy="197.9" r="4.4"/><circle cx="382.1" cy="199.9" r="4.4"/><circle cx="387.6" cy="202.2" r="4.4"/><circle cx="378.1" cy="204.4" r="4.4"/><circle cx="392.1" cy="206.2" r="4.4"/><circle cx="384.3" cy="208.4" r="4.4"/><circle cx="379.1" cy="211.3" r="4.4"/><circle cx="386.4" cy="214.0" r="4.4"/><circle cx="392.0" cy="216.2" r="4.4"/><circle cx="382.8" cy="218.8" r="4.4"/><circle cx="377.1" cy="220.7" r="4.4"/><circle cx="387.3" cy="222.7" r="4.4"/><circle cx="393.1" cy="224.5" r="4.4"/><circle cx="382.3" cy="225.9" r="4.4"/><circle cx="376.5" cy="227.5" r="4.4"/><circle cx="387.5" cy="228.9" r="4.4"/><circle cx="396.0" cy="229.8" r="4.4"/><circle cx="371.6" cy="231.0" r="4.4"/><circle cx="382.5" cy="232.3" r="4.4"/><circle cx="401.0" cy="233.0" r="4.4"/><circle cx="390.8" cy="233.9" r="4.4"/><circle cx="377.1" cy="235.0" r="4.4"/><circle cx="368.9" cy="236.3" r="4.4"/><circle cx="396.1" cy="236.7" r="4.4"/><circle cx="405.2" cy="237.3" r="4.4"/><circle cx="384.4" cy="238.0" r="4.4"/><circle cx="363.5" cy="238.9" r="4.4"/><circle cx="410.9" cy="239.2" r="4.4"/><circle cx="389.9" cy="240.4" r="4.4"/><circle cx="379.4" cy="241.2" r="4.4"/><circle cx="373.4" cy="241.8" r="4.4"/><circle cx="396.8" cy="242.7" r="4.4"/><circle cx="358.9" cy="242.7" r="4.4"/><circle cx="384.4" cy="244.5" r="4.4"/><circle cx="368.2" cy="244.8" r="4.4"/><circle cx="402.3" cy="245.1" r="4.4"/><circle cx="408.2" cy="245.8" r="4.4"/><circle cx="391.5" cy="246.2" r="4.4"/><circle cx="378.2" cy="247.1" r="4.4"/><circle cx="362.9" cy="247.6" r="4.4"/><circle cx="357.0" cy="248.6" r="4.4"/><circle cx="372.5" cy="249.1" r="4.4"/><circle cx="396.5" cy="249.5" r="4.4"/><circle cx="385.8" cy="250.4" r="4.4"/><circle cx="403.7" cy="250.9" r="4.4"/><circle cx="410.5" cy="251.4" r="4.4"/><circle cx="416.5" cy="251.4" r="4.4"/><circle cx="391.3" cy="252.7" r="4.4"/><circle cx="380.3" cy="252.9" r="4.4"/><circle cx="368.3" cy="253.3" r="4.4"/><circle cx="362.3" cy="254.2" r="4.4"/><circle cx="374.7" cy="255.0" r="4.4"/><circle cx="397.2" cy="255.5" r="4.4"/><circle cx="356.6" cy="256.0" r="4.4"/><circle cx="384.5" cy="257.2" r="4.4"/><circle cx="402.8" cy="257.7" r="4.4"/><circle cx="408.8" cy="257.8" r="4.4"/><circle cx="414.7" cy="258.4" r="4.4"/><circle cx="390.2" cy="258.9" r="4.4"/><circle cx="379.0" cy="259.5" r="4.4"/><circle cx="371.1" cy="259.9" r="4.4"/><circle cx="365.2" cy="260.4" r="4.4"/><circle cx="395.6" cy="261.5" r="4.4"/><circle cx="359.5" cy="262.3" r="4.4"/><circle cx="383.8" cy="263.1" r="4.4"/><circle cx="404.7" cy="263.4" r="4.4"/><circle cx="410.7" cy="263.5" r="4.4"/><circle cx="376.1" cy="264.8" r="4.4"/><circle cx="389.5" cy="265.2" r="4.4"/><circle cx="370.2" cy="266.1" r="4.4"/><circle cx="399.0" cy="266.5" r="4.4"/><circle cx="364.3" cy="266.8" r="4.4"/><circle cx="356.7" cy="267.6" r="4.4"/><circle cx="381.8" cy="268.8" r="4.4"/><circle cx="406.1" cy="269.2" r="4.4"/><circle cx="393.8" cy="269.4" r="4.4"/><circle cx="412.0" cy="270.4" r="4.4"/><circle cx="374.9" cy="270.7" r="4.4"/><circle cx="387.2" cy="271.4" r="4.4"/><circle cx="369.1" cy="272.2" r="4.4"/><circle cx="400.6" cy="272.3" r="4.4"/><circle cx="363.1" cy="272.9" r="4.4"/><circle cx="357.2" cy="273.9" r="4.4"/><circle cx="380.0" cy="274.5" r="4.4"/><circle cx="407.5" cy="275.1" r="4.4"/><circle cx="391.5" cy="275.5" r="4.4"/><circle cx="414.4" cy="275.9" r="4.4"/><circle cx="374.4" cy="276.6" r="4.4"/><circle cx="385.0" cy="277.9" r="4.4"/><circle cx="396.7" cy="278.6" r="4.4"/><circle cx="368.9" cy="279.1" r="4.4"/><circle cx="402.7" cy="279.2" r="4.4"/><circle cx="363.1" cy="280.3" r="4.4"/><circle cx="379.8" cy="280.9" r="4.4"/><circle cx="408.3" cy="281.2" r="4.4"/><circle cx="389.9" cy="281.4" r="4.4"/><circle cx="357.2" cy="281.7" r="4.4"/><circle cx="374.1" cy="282.9" r="4.4"/><circle cx="414.0" cy="283.1" r="4.4"/><circle cx="351.5" cy="283.4" r="4.4"/><circle cx="384.3" cy="285.0" r="4.4"/><circle cx="394.2" cy="285.5" r="4.4"/><circle cx="368.8" cy="285.6" r="4.4"/><circle cx="400.2" cy="286.0" r="4.4"/><circle cx="362.8" cy="286.4" r="4.4"/><circle cx="378.7" cy="287.2" r="4.4"/><circle cx="406.0" cy="287.5" r="4.4"/><circle cx="356.3" cy="287.6" r="4.4"/><circle cx="416.9" cy="288.4" r="4.4"/><circle cx="388.7" cy="289.1" r="4.4"/><circle cx="349.9" cy="289.2" r="4.4"/><circle cx="373.3" cy="289.8" r="4.4"/><circle cx="411.1" cy="290.7" r="4.4"/><circle cx="383.3" cy="291.7" r="4.4"/><circle cx="394.1" cy="291.7" r="4.4"/><circle cx="400.1" cy="292.1" r="4.4"/><circle cx="368.0" cy="292.7" r="4.4"/><circle cx="362.1" cy="293.2" r="4.4"/><circle cx="420.4" cy="293.2" r="4.4"/><circle cx="377.9" cy="294.3" r="4.4"/><circle cx="405.6" cy="294.4" r="4.4"/><circle cx="356.3" cy="294.8" r="4.4"/><circle cx="348.4" cy="295.0" r="4.4"/><circle cx="387.4" cy="296.0" r="4.4"/><circle cx="412.6" cy="296.5" r="4.4"/><circle cx="425.3" cy="296.7" r="4.4"/><circle cx="372.7" cy="297.4" r="4.4"/><circle cx="393.0" cy="298.0" r="4.4"/><circle cx="399.0" cy="298.1" r="4.4"/><circle cx="365.6" cy="298.1" r="4.4"/><circle cx="343.3" cy="298.3" r="4.4"/><circle cx="382.4" cy="299.4" r="4.4"/><circle cx="352.6" cy="299.6" r="4.4"/><circle cx="407.7" cy="300.0" r="4.4"/><circle cx="360.0" cy="300.3" r="4.4"/><circle cx="416.3" cy="301.2" r="4.4"/><circle cx="376.9" cy="301.8" r="4.4"/><circle cx="388.1" cy="302.0" r="4.4"/><circle cx="422.3" cy="302.1" r="4.4"/><circle cx="370.1" cy="302.8" r="4.4"/><circle cx="402.3" cy="303.1" r="4.4"/><circle cx="395.9" cy="303.3" r="4.4"/><circle cx="348.3" cy="303.8" r="4.4"/><circle cx="342.4" cy="304.3" r="4.4"/><circle cx="364.4" cy="304.5" r="4.4"/><circle cx="383.4" cy="305.7" r="4.4"/><circle cx="408.9" cy="305.9" r="4.4"/><circle cx="358.0" cy="305.9" r="4.4"/><circle cx="426.6" cy="306.2" r="4.4"/><circle cx="336.9" cy="306.8" r="4.4"/><circle cx="414.8" cy="307.1" r="4.4"/><circle cx="388.9" cy="307.9" r="4.4"/><circle cx="377.9" cy="308.1" r="4.4"/><circle cx="371.9" cy="308.9" r="4.4"/><circle cx="397.8" cy="309.0" r="4.4"/><circle cx="403.8" cy="309.1" r="4.4"/><circle cx="353.6" cy="310.0" r="4.4"/><circle cx="362.6" cy="310.2" r="4.4"/><circle cx="419.9" cy="310.3" r="4.4"/><circle cx="347.7" cy="310.8" r="4.4"/><circle cx="341.7" cy="311.3" r="4.4"/><circle cx="384.3" cy="312.1" r="4.4"/><circle cx="392.4" cy="312.8" r="4.4"/><circle cx="408.4" cy="313.0" r="4.4"/><circle cx="425.3" cy="313.0" r="4.4"/><circle cx="375.7" cy="313.7" r="4.4"/><circle cx="369.7" cy="314.5" r="4.4"/><circle cx="399.2" cy="314.8" r="4.4"/><circle cx="359.1" cy="315.1" r="4.4"/><circle cx="413.7" cy="315.7" r="4.4"/><circle cx="352.0" cy="315.8" r="4.4"/><circle cx="430.5" cy="315.9" r="4.4"/><circle cx="419.6" cy="316.5" r="4.4"/><circle cx="381.2" cy="317.2" r="4.4"/><circle cx="387.2" cy="317.7" r="4.4"/><circle cx="365.0" cy="318.2" r="4.4"/><circle cx="393.9" cy="318.6" r="4.4"/><circle cx="373.9" cy="319.4" r="4.4"/><circle cx="403.1" cy="319.4" r="4.4"/><circle cx="409.1" cy="319.7" r="4.4"/><circle cx="357.5" cy="320.9" r="4.4"/><circle cx="348.9" cy="321.0" r="4.4"/><circle cx="414.7" cy="321.8" r="4.4"/><circle cx="422.3" cy="321.9" r="4.4"/><circle cx="343.2" cy="322.6" r="4.4"/><circle cx="384.3" cy="323.0" r="4.4"/><circle cx="397.9" cy="323.1" r="4.4"/><circle cx="378.4" cy="324.3" r="4.4"/><circle cx="390.1" cy="324.7" r="4.4"/><circle cx="372.0" cy="325.1" r="4.4"/><circle cx="366.0" cy="326.0" r="4.4"/><circle cx="402.8" cy="326.5" r="4.4"/><circle cx="360.1" cy="326.7" r="4.4"/><circle cx="408.8" cy="326.8" r="4.4"/><circle cx="354.1" cy="326.9" r="4.4"/><circle cx="416.7" cy="327.5" r="4.4"/><circle cx="348.2" cy="328.3" r="4.4"/><circle cx="384.3" cy="329.2" r="4.4"/><circle cx="393.7" cy="329.5" r="4.4"/><circle cx="376.3" cy="329.9" r="4.4"/><circle cx="421.8" cy="330.5" r="4.4"/><circle cx="342.7" cy="330.6" r="4.4"/><circle cx="370.6" cy="331.8" r="4.4"/><circle cx="399.2" cy="331.8" r="4.4"/><circle cx="388.9" cy="333.1" r="4.4"/><circle cx="364.8" cy="333.3" r="4.4"/><circle cx="405.0" cy="333.5" r="4.4"/><circle cx="380.8" cy="334.1" r="4.4"/><circle cx="358.9" cy="334.3" r="4.4"/><circle cx="410.6" cy="335.4" r="4.4"/><circle cx="394.3" cy="335.6" r="4.4"/><circle cx="375.3" cy="336.4" r="4.4"/><circle cx="353.7" cy="337.4" r="4.4"/><circle cx="369.3" cy="337.6" r="4.4"/><circle cx="385.2" cy="338.2" r="4.4"/><circle cx="399.0" cy="339.3" r="4.4"/><circle cx="363.6" cy="339.5" r="4.4"/><circle cx="405.0" cy="340.0" r="4.4"/><circle cx="414.6" cy="340.0" r="4.4"/><circle cx="348.4" cy="340.2" r="4.4"/><circle cx="379.9" cy="341.0" r="4.4"/><circle cx="390.4" cy="341.2" r="4.4"/><circle cx="420.4" cy="341.2" r="4.4"/><circle cx="374.1" cy="342.8" r="4.4"/><circle cx="358.9" cy="343.1" r="4.4"/><circle cx="343.2" cy="343.1" r="4.4"/><circle cx="384.8" cy="344.4" r="4.4"/><circle cx="395.4" cy="344.4" r="4.4"/><circle cx="368.5" cy="344.8" r="4.4"/><circle cx="401.4" cy="345.1" r="4.4"/><circle cx="407.3" cy="346.2" r="4.4"/><circle cx="413.3" cy="346.3" r="4.4"/><circle cx="354.0" cy="346.6" r="4.4"/><circle cx="379.4" cy="347.1" r="4.4"/><circle cx="390.0" cy="347.4" r="4.4"/><circle cx="363.2" cy="347.6" r="4.4"/><circle cx="418.9" cy="348.3" r="4.4"/><circle cx="373.4" cy="348.7" r="4.4"/><circle cx="348.7" cy="349.4" r="4.4"/><circle cx="424.8" cy="349.7" r="4.4"/><circle cx="384.3" cy="350.5" r="4.4"/><circle cx="395.1" cy="350.5" r="4.4"/><circle cx="403.1" cy="350.8" r="4.4"/><circle cx="368.1" cy="351.5" r="4.4"/><circle cx="409.0" cy="352.0" r="4.4"/><circle cx="359.6" cy="352.4" r="4.4"/><circle cx="378.2" cy="353.0" r="4.4"/><circle cx="414.9" cy="353.0" r="4.4"/><circle cx="353.7" cy="353.3" r="4.4"/><circle cx="389.4" cy="353.7" r="4.4"/><circle cx="420.7" cy="354.4" r="4.4"/><circle cx="345.9" cy="354.7" r="4.4"/><circle cx="427.7" cy="355.0" r="4.4"/><circle cx="372.9" cy="355.6" r="4.4"/><circle cx="384.1" cy="356.6" r="4.4"/><circle cx="394.6" cy="356.8" r="4.4"/><circle cx="400.6" cy="356.8" r="4.4"/><circle cx="366.4" cy="357.2" r="4.4"/><circle cx="406.5" cy="357.8" r="4.4"/><circle cx="340.8" cy="357.9" r="4.4"/><circle cx="358.0" cy="358.2" r="4.4"/><circle cx="378.6" cy="359.0" r="4.4"/><circle cx="412.3" cy="359.3" r="4.4"/><circle cx="352.2" cy="359.4" r="4.4"/><circle cx="389.1" cy="359.9" r="4.4"/><circle cx="418.2" cy="360.1" r="4.4"/><circle cx="424.2" cy="360.4" r="4.4"/><circle cx="370.9" cy="361.3" r="4.4"/><circle cx="346.5" cy="361.4" r="4.4"/><circle cx="430.1" cy="361.8" r="4.4"/><circle cx="397.4" cy="362.1" r="4.4"/><circle cx="383.8" cy="362.8" r="4.4"/><circle cx="403.3" cy="363.4" r="4.4"/><circle cx="365.3" cy="363.5" r="4.4"/><circle cx="359.4" cy="364.2" r="4.4"/><circle cx="341.3" cy="364.4" r="4.4"/><circle cx="376.4" cy="364.6" r="4.4"/><circle cx="392.1" cy="365.1" r="4.4"/><circle cx="408.9" cy="365.3" r="4.4"/><circle cx="414.9" cy="366.1" r="4.4"/><circle cx="353.9" cy="366.7" r="4.4"/><circle cx="420.8" cy="367.2" r="4.4"/><circle cx="371.1" cy="367.5" r="4.4"/><circle cx="398.8" cy="367.9" r="4.4"/><circle cx="386.2" cy="368.4" r="4.4"/><circle cx="348.2" cy="368.6" r="4.4"/><circle cx="426.5" cy="368.9" r="4.4"/><circle cx="380.3" cy="369.7" r="4.4"/><circle cx="365.7" cy="370.0" r="4.4"/><circle cx="404.4" cy="370.1" r="4.4"/><circle cx="359.8" cy="370.6" r="4.4"/><circle cx="342.6" cy="370.7" r="4.4"/><circle cx="391.4" cy="371.2" r="4.4"/><circle cx="410.1" cy="371.7" r="4.4"/><circle cx="416.1" cy="372.1" r="4.4"/><circle cx="374.9" cy="372.3" r="4.4"/><circle cx="354.5" cy="373.4" r="4.4"/><circle cx="422.0" cy="373.5" r="4.4"/><circle cx="396.9" cy="373.8" r="4.4"/><circle cx="429.7" cy="374.0" r="4.4"/><circle cx="384.3" cy="374.5" r="4.4"/><circle cx="369.5" cy="374.8" r="4.4"/><circle cx="348.8" cy="375.5" r="4.4"/><circle cx="402.2" cy="376.6" r="4.4"/><circle cx="378.8" cy="377.0" r="4.4"/><circle cx="389.6" cy="377.3" r="4.4"/><circle cx="364.1" cy="377.5" r="4.4"/><circle cx="408.1" cy="377.7" r="4.4"/><circle cx="414.1" cy="378.1" r="4.4"/><circle cx="358.3" cy="379.0" r="4.4"/><circle cx="424.2" cy="379.1" r="4.4"/><circle cx="344.2" cy="379.3" r="4.4"/><circle cx="373.9" cy="380.4" r="4.4"/><circle cx="384.3" cy="380.6" r="4.4"/><circle cx="394.2" cy="381.2" r="4.4"/><circle cx="352.9" cy="381.7" r="4.4"/><circle cx="400.0" cy="382.4" r="4.4"/><circle cx="368.4" cy="382.7" r="4.4"/><circle cx="410.3" cy="383.3" r="4.4"/><circle cx="362.4" cy="383.4" r="4.4"/><circle cx="379.3" cy="383.9" r="4.4"/><circle cx="388.8" cy="384.6" r="4.4"/><circle cx="416.0" cy="385.0" r="4.4"/><circle cx="348.3" cy="385.6" r="4.4"/><circle cx="404.8" cy="386.0" r="4.4"/><circle cx="374.1" cy="386.8" r="4.4"/><circle cx="394.8" cy="387.2" r="4.4"/><circle cx="358.1" cy="387.6" r="4.4"/><circle cx="421.3" cy="387.9" r="4.4"/><circle cx="384.3" cy="388.6" r="4.4"/><circle cx="368.4" cy="388.8" r="4.4"/><circle cx="343.3" cy="388.9" r="4.4"/><circle cx="400.0" cy="390.2" r="4.4"/><circle cx="408.8" cy="390.5" r="4.4"/><circle cx="389.8" cy="390.8" r="4.4"/><circle cx="378.8" cy="390.9" r="4.4"/><circle cx="363.4" cy="392.1" r="4.4"/><circle cx="354.4" cy="392.3" r="4.4"/><circle cx="414.5" cy="392.4" r="4.4"/><circle cx="373.1" cy="392.9" r="4.4"/><circle cx="348.5" cy="393.4" r="4.4"/><circle cx="394.6" cy="394.5" r="4.4"/><circle cx="384.8" cy="394.5" r="4.4"/><circle cx="404.0" cy="394.7" r="4.4"/><circle cx="419.7" cy="395.3" r="4.4"/><circle cx="368.2" cy="396.4" r="4.4"/><circle cx="359.5" cy="396.7" r="4.4"/><circle cx="409.7" cy="396.7" r="4.4"/><circle cx="379.3" cy="397.0" r="4.4"/><circle cx="344.3" cy="397.7" r="4.4"/><circle cx="389.3" cy="398.4" r="4.4"/><circle cx="398.9" cy="398.6" r="4.4"/><circle cx="373.6" cy="399.1" r="4.4"/><circle cx="354.3" cy="399.7" r="4.4"/><circle cx="414.7" cy="400.0" r="4.4"/><circle cx="423.2" cy="400.2" r="4.4"/><circle cx="405.0" cy="400.6" r="4.4"/><circle cx="384.0" cy="401.2" r="4.4"/><circle cx="365.5" cy="401.7" r="4.4"/><circle cx="393.7" cy="402.5" r="4.4"/><circle cx="359.6" cy="402.9" r="4.4"/><circle cx="378.3" cy="403.0" r="4.4"/><circle cx="349.9" cy="403.8" r="4.4"/><circle cx="409.8" cy="404.1" r="4.4"/><circle cx="371.5" cy="404.6" r="4.4"/><circle cx="399.2" cy="405.0" r="4.4"/><circle cx="388.3" cy="405.4" r="4.4"/><circle cx="415.5" cy="406.2" r="4.4"/><circle cx="421.5" cy="406.5" r="4.4"/><circle cx="344.6" cy="406.6" r="4.4"/><circle cx="382.6" cy="407.2" r="4.4"/><circle cx="355.4" cy="407.2" r="4.4"/><circle cx="366.4" cy="407.9" r="4.4"/><circle cx="376.0" cy="408.6" r="4.4"/><circle cx="393.3" cy="408.7" r="4.4"/><circle cx="402.8" cy="409.8" r="4.4"/><circle cx="350.0" cy="409.9" r="4.4"/><circle cx="360.9" cy="410.3" r="4.4"/><circle cx="408.7" cy="410.4" r="4.4"/><circle cx="425.5" cy="410.9" r="4.4"/><circle cx="386.8" cy="411.5" r="4.4"/><circle cx="371.2" cy="412.1" r="4.4"/><circle cx="414.3" cy="412.5" r="4.4"/><circle cx="343.8" cy="412.6" r="4.4"/><circle cx="380.7" cy="412.9" r="4.4"/><circle cx="397.2" cy="413.2" r="4.4"/><circle cx="365.8" cy="414.8" r="4.4"/><circle cx="357.1" cy="414.9" r="4.4"/><circle cx="391.4" cy="415.4" r="4.4"/><circle cx="404.7" cy="415.5" r="4.4"/><circle cx="375.9" cy="416.5" r="4.4"/><circle cx="351.3" cy="416.6" r="4.4"/><circle cx="418.5" cy="416.9" r="4.4"/><circle cx="424.5" cy="417.1" r="4.4"/><circle cx="384.8" cy="417.2" r="4.4"/><circle cx="409.9" cy="418.4" r="4.4"/><circle cx="345.7" cy="418.7" r="4.4"/><circle cx="396.1" cy="419.1" r="4.4"/><circle cx="370.5" cy="419.1" r="4.4"/><circle cx="361.9" cy="419.4" r="4.4"/><circle cx="339.8" cy="420.1" r="4.4"/><circle cx="380.4" cy="421.3" r="4.4"/><circle cx="388.8" cy="421.7" r="4.4"/><circle cx="401.3" cy="422.1" r="4.4"/><circle cx="356.7" cy="422.2" r="4.4"/><circle cx="414.5" cy="422.3" r="4.4"/><circle cx="350.7" cy="422.9" r="4.4"/><circle cx="374.9" cy="423.8" r="4.4"/><circle cx="366.9" cy="423.9" r="4.4"/><circle cx="406.7" cy="424.7" r="4.4"/><circle cx="393.5" cy="425.5" r="4.4"/><circle cx="419.6" cy="425.5" r="4.4"/><circle cx="345.3" cy="425.6" r="4.4"/><circle cx="384.3" cy="427.0" r="4.4"/><circle cx="361.8" cy="427.1" r="4.4"/><circle cx="425.3" cy="427.4" r="4.4"/><circle cx="399.0" cy="427.8" r="4.4"/><circle cx="411.6" cy="428.1" r="4.4"/><circle cx="371.2" cy="428.5" r="4.4"/><circle cx="378.6" cy="428.8" r="4.4"/><circle cx="356.3" cy="429.5" r="4.4"/><circle cx="350.3" cy="429.5" r="4.4"/><circle cx="389.3" cy="430.3" r="4.4"/><circle cx="404.1" cy="431.0" r="4.4"/><circle cx="416.8" cy="431.2" r="4.4"/><circle cx="366.4" cy="432.1" r="4.4"/><circle cx="395.0" cy="432.3" r="4.4"/><circle cx="345.0" cy="432.3" r="4.4"/><circle cx="384.0" cy="433.2" r="4.4"/><circle cx="374.9" cy="433.6" r="4.4"/><circle cx="360.7" cy="434.1" r="4.4"/><circle cx="409.0" cy="434.5" r="4.4"/><circle cx="353.7" cy="434.9" r="4.4"/><circle cx="421.1" cy="435.3" r="4.4"/><circle cx="399.9" cy="435.7" r="4.4"/><circle cx="388.8" cy="436.7" r="4.4"/><circle cx="414.5" cy="436.8" r="4.4"/><circle cx="379.8" cy="437.5" r="4.4"/><circle cx="370.6" cy="437.7" r="4.4"/><circle cx="348.8" cy="438.4" r="4.4"/><circle cx="394.4" cy="439.0" r="4.4"/><circle cx="364.8" cy="439.3" r="4.4"/><circle cx="404.0" cy="440.1" r="4.4"/><circle cx="359.0" cy="441.0" r="4.4"/><circle cx="384.6" cy="441.1" r="4.4"/><circle cx="376.2" cy="442.2" r="4.4"/><circle cx="409.2" cy="443.0" r="4.4"/><circle cx="353.4" cy="443.0" r="4.4"/><circle cx="415.2" cy="443.1" r="4.4"/><circle cx="389.3" cy="444.8" r="4.4"/><circle cx="395.3" cy="445.1" r="4.4"/><circle cx="371.3" cy="445.7" r="4.4"/><circle cx="382.5" cy="446.8" r="4.4"/><circle cx="400.9" cy="447.3" r="4.4"/><circle cx="365.5" cy="447.4" r="4.4"/><circle cx="359.6" cy="448.3" r="4.4"/><circle cx="376.8" cy="448.5" r="4.4"/><circle cx="406.4" cy="449.6" r="4.4"/><circle cx="412.4" cy="450.0" r="4.4"/><circle cx="387.0" cy="450.8" r="4.4"/><circle cx="392.9" cy="451.0" r="4.4"/><circle cx="371.9" cy="452.0" r="4.4"/><circle cx="381.2" cy="452.6" r="4.4"/><circle cx="398.5" cy="453.4" r="4.4"/><circle cx="366.2" cy="453.7" r="4.4"/><circle cx="357.3" cy="453.8" r="4.4"/><circle cx="404.2" cy="455.3" r="4.4"/><circle cx="415.2" cy="455.3" r="4.4"/><circle cx="385.6" cy="456.7" r="4.4"/><circle cx="377.1" cy="457.0" r="4.4"/><circle cx="391.5" cy="457.7" r="4.4"/><circle cx="371.2" cy="458.1" r="4.4"/><circle cx="397.3" cy="459.4" r="4.4"/><circle cx="365.0" cy="459.6" r="4.4"/><circle cx="406.5" cy="460.8" r="4.4"/><circle cx="382.0" cy="461.5" r="4.4"/><circle cx="387.9" cy="462.7" r="4.4"/><circle cx="375.5" cy="462.8" r="4.4"/><circle cx="360.0" cy="462.9" r="4.4"/><circle cx="411.9" cy="463.3" r="4.4"/><circle cx="369.6" cy="464.1" r="4.4"/><circle cx="393.7" cy="464.5" r="4.4"/><circle cx="399.4" cy="466.2" r="4.4"/><circle cx="355.2" cy="466.5" r="4.4"/><circle cx="416.9" cy="466.7" r="4.4"/><circle cx="384.3" cy="468.0" r="4.4"/><circle cx="378.3" cy="468.4" r="4.4"/><circle cx="390.1" cy="469.4" r="4.4"/><circle cx="372.5" cy="469.9" r="4.4"/><circle cx="366.5" cy="470.0" r="4.4"/><circle cx="395.9" cy="471.2" r="4.4"/><circle cx="401.8" cy="472.1" r="4.4"/><circle cx="361.0" cy="472.5" r="4.4"/><circle cx="407.7" cy="473.2" r="4.4"/><circle cx="355.1" cy="473.4" r="4.4"/><circle cx="384.3" cy="474.3" r="4.4"/><circle cx="378.4" cy="475.2" r="4.4"/><circle cx="390.0" cy="476.1" r="4.4"/><circle cx="372.5" cy="476.3" r="4.4"/><circle cx="396.7" cy="477.1" r="4.4"/><circle cx="366.8" cy="478.3" r="4.4"/><circle cx="402.5" cy="478.7" r="4.4"/><circle cx="360.9" cy="479.3" r="4.4"/><circle cx="408.4" cy="479.8" r="4.4"/><circle cx="384.3" cy="480.9" r="4.4"/><circle cx="378.4" cy="482.0" r="4.4"/><circle cx="390.0" cy="482.8" r="4.4"/><circle cx="396.0" cy="483.4" r="4.4"/><circle cx="373.0" cy="484.5" r="4.4"/><circle cx="367.0" cy="484.9" r="4.4"/><circle cx="401.4" cy="486.0" r="4.4"/><circle cx="407.4" cy="486.2" r="4.4"/><circle cx="384.3" cy="487.8" r="4.4"/><circle cx="378.3" cy="488.1" r="4.4"/><circle cx="390.0" cy="489.7" r="4.4"/><circle cx="396.0" cy="489.7" r="4.4"/><circle cx="373.1" cy="491.1" r="4.4"/><circle cx="367.2" cy="492.0" r="4.4"/><circle cx="401.1" cy="492.9" r="4.4"/><circle cx="383.1" cy="493.7" r="4.4"/><circle cx="392.3" cy="495.2" r="4.4"/><circle cx="377.5" cy="495.8" r="4.4"/><circle cx="362.9" cy="496.2" r="4.4"/><circle cx="371.7" cy="497.5" r="4.4"/><circle cx="385.6" cy="499.1" r="4.4"/><circle cx="396.6" cy="499.4" r="4.4"/><circle cx="380.1" cy="501.4" r="4.4"/><circle cx="367.4" cy="501.6" r="4.4"/><circle cx="390.8" cy="502.1" r="4.4"/><circle cx="374.7" cy="504.0" r="4.4"/><circle cx="399.9" cy="504.4" r="4.4"/><circle cx="405.9" cy="504.4" r="4.4"/><circle cx="384.3" cy="506.6" r="4.4"/><circle cx="394.2" cy="507.1" r="4.4"/><circle cx="370.7" cy="508.5" r="4.4"/><circle cx="379.1" cy="509.6" r="4.4"/><circle cx="388.8" cy="510.6" r="4.4"/><circle cx="398.5" cy="511.2" r="4.4"/><circle cx="365.7" cy="511.7" r="4.4"/><circle cx="383.7" cy="513.8" r="4.4"/><circle cx="375.5" cy="514.4" r="4.4"/><circle cx="392.2" cy="515.5" r="4.4"/><circle cx="402.1" cy="516.1" r="4.4"/><circle cx="370.3" cy="517.5" r="4.4"/><circle cx="386.8" cy="518.9" r="4.4"/><circle cx="380.9" cy="520.0" r="4.4"/><circle cx="375.0" cy="521.3" r="4.4"/><circle cx="391.8" cy="522.2" r="4.4"/><circle cx="397.7" cy="523.3" r="4.4"/><circle cx="384.3" cy="525.4" r="4.4"/><circle cx="378.5" cy="526.7" r="4.4"/><circle cx="389.1" cy="528.9" r="4.4"/><circle cx="383.5" cy="531.3" r="4.4"/><circle cx="378.2" cy="534.1" r="4.4"/><circle cx="384.3" cy="119.5" r="4.4"/></g>
<rect x="329.20" y="296.90" width="110.80" height="129.80" fill="#8fc98a" stroke="none" stroke-width="1" fill-opacity="0.28"/>
<line x1="384.30" y1="119.50" x2="384.30" y2="296.90" stroke="#111" stroke-width="1.1" />
<line x1="384.30" y1="426.70" x2="384.30" y2="536.00" stroke="#111" stroke-width="1.1" />
<rect x="329.20" y="296.90" width="110.80" height="129.80" fill="none" stroke="#1f4a1f" stroke-width="1.15" />
<line x1="329.20" y1="362.40" x2="440.00" y2="362.40" stroke="#1f4a1f" stroke-width="1.6" />
<rect x="491.20" y="307.90" width="111.50" height="110.40" fill="#6fbae8" stroke="none" stroke-width="1" />
<g fill="rgba(0,0,0,0.23)" stroke="rgba(0,0,0,0.2)" stroke-width="0.7" filter="url(#bla)"><circle cx="547.1" cy="152.7" r="4.4"/><circle cx="547.1" cy="159.3" r="4.4"/><circle cx="547.0" cy="165.3" r="4.4"/><circle cx="549.0" cy="171.0" r="4.4"/><circle cx="545.8" cy="176.1" r="4.4"/><circle cx="550.4" cy="179.9" r="4.4"/><circle cx="546.0" cy="184.0" r="4.4"/><circle cx="550.4" cy="188.1" r="4.4"/><circle cx="547.1" cy="194.5" r="4.4"/><circle cx="542.9" cy="198.8" r="4.4"/><circle cx="547.3" cy="202.9" r="4.4"/><circle cx="542.2" cy="205.9" r="4.4"/><circle cx="547.2" cy="209.2" r="4.4"/><circle cx="552.9" cy="211.2" r="4.4"/><circle cx="543.0" cy="213.5" r="4.4"/><circle cx="537.2" cy="215.1" r="4.4"/><circle cx="548.2" cy="216.6" r="4.4"/><circle cx="553.8" cy="218.8" r="4.4"/><circle cx="542.8" cy="219.5" r="4.4"/><circle cx="534.9" cy="220.6" r="4.4"/><circle cx="559.1" cy="221.5" r="4.4"/><circle cx="547.3" cy="223.5" r="4.4"/><circle cx="539.8" cy="224.7" r="4.4"/><circle cx="553.0" cy="225.3" r="4.4"/><circle cx="534.2" cy="227.1" r="4.4"/><circle cx="558.0" cy="228.7" r="4.4"/><circle cx="547.1" cy="229.7" r="4.4"/><circle cx="541.5" cy="231.8" r="4.4"/><circle cx="551.1" cy="234.1" r="4.4"/><circle cx="557.1" cy="234.8" r="4.4"/><circle cx="546.0" cy="237.2" r="4.4"/><circle cx="540.3" cy="239.2" r="4.4"/><circle cx="553.0" cy="239.8" r="4.4"/><circle cx="558.9" cy="241.2" r="4.4"/><circle cx="535.5" cy="242.7" r="4.4"/><circle cx="547.1" cy="244.1" r="4.4"/><circle cx="541.2" cy="245.2" r="4.4"/><circle cx="553.9" cy="245.7" r="4.4"/><circle cx="560.0" cy="247.1" r="4.4"/><circle cx="533.7" cy="248.5" r="4.4"/><circle cx="565.5" cy="249.3" r="4.4"/><circle cx="547.1" cy="250.8" r="4.4"/><circle cx="540.6" cy="251.2" r="4.4"/><circle cx="553.0" cy="252.1" r="4.4"/><circle cx="558.7" cy="253.8" r="4.4"/><circle cx="531.2" cy="254.0" r="4.4"/><circle cx="568.6" cy="254.5" r="4.4"/><circle cx="525.5" cy="255.7" r="4.4"/><circle cx="545.2" cy="256.5" r="4.4"/><circle cx="539.4" cy="257.7" r="4.4"/><circle cx="550.9" cy="258.5" r="4.4"/><circle cx="561.3" cy="259.2" r="4.4"/><circle cx="533.9" cy="260.1" r="4.4"/><circle cx="567.0" cy="261.1" r="4.4"/><circle cx="546.7" cy="262.8" r="4.4"/><circle cx="552.8" cy="264.2" r="4.4"/><circle cx="541.0" cy="264.7" r="4.4"/><circle cx="558.5" cy="266.1" r="4.4"/><circle cx="535.6" cy="267.2" r="4.4"/><circle cx="564.1" cy="268.2" r="4.4"/><circle cx="547.1" cy="269.3" r="4.4"/><circle cx="553.0" cy="270.5" r="4.4"/><circle cx="541.4" cy="271.1" r="4.4"/><circle cx="558.6" cy="272.6" r="4.4"/><circle cx="536.2" cy="274.1" r="4.4"/><circle cx="546.8" cy="275.3" r="4.4"/><circle cx="563.6" cy="276.0" r="4.4"/><circle cx="552.6" cy="277.0" r="4.4"/><circle cx="541.6" cy="278.4" r="4.4"/><circle cx="557.8" cy="279.9" r="4.4"/><circle cx="534.8" cy="279.9" r="4.4"/><circle cx="528.9" cy="281.0" r="4.4"/><circle cx="547.1" cy="282.2" r="4.4"/><circle cx="552.9" cy="283.5" r="4.4"/><circle cx="539.6" cy="284.0" r="4.4"/><circle cx="560.2" cy="285.4" r="4.4"/><circle cx="533.9" cy="285.9" r="4.4"/><circle cx="565.9" cy="287.2" r="4.4"/><circle cx="544.8" cy="287.7" r="4.4"/><circle cx="528.4" cy="288.5" r="4.4"/><circle cx="550.5" cy="289.7" r="4.4"/><circle cx="571.4" cy="289.7" r="4.4"/><circle cx="539.5" cy="290.6" r="4.4"/><circle cx="556.1" cy="291.8" r="4.4"/><circle cx="533.8" cy="292.5" r="4.4"/><circle cx="562.0" cy="292.8" r="4.4"/><circle cx="524.5" cy="293.0" r="4.4"/><circle cx="546.8" cy="294.4" r="4.4"/><circle cx="567.6" cy="295.0" r="4.4"/><circle cx="573.6" cy="295.3" r="4.4"/><circle cx="519.0" cy="295.4" r="4.4"/><circle cx="552.3" cy="297.0" r="4.4"/><circle cx="541.9" cy="297.9" r="4.4"/><circle cx="558.2" cy="298.1" r="4.4"/><circle cx="536.0" cy="298.8" r="4.4"/><circle cx="530.0" cy="298.9" r="4.4"/><circle cx="524.0" cy="299.7" r="4.4"/><circle cx="563.9" cy="299.9" r="4.4"/><circle cx="577.0" cy="300.3" r="4.4"/><circle cx="547.1" cy="301.1" r="4.4"/><circle cx="569.7" cy="301.5" r="4.4"/><circle cx="518.6" cy="302.1" r="4.4"/><circle cx="512.6" cy="302.6" r="4.4"/><circle cx="552.7" cy="303.3" r="4.4"/><circle cx="541.2" cy="303.9" r="4.4"/><circle cx="558.6" cy="304.6" r="4.4"/><circle cx="534.5" cy="304.6" r="4.4"/><circle cx="528.6" cy="305.5" r="4.4"/><circle cx="574.0" cy="305.7" r="4.4"/><circle cx="564.2" cy="306.6" r="4.4"/><circle cx="522.7" cy="306.9" r="4.4"/><circle cx="547.1" cy="307.2" r="4.4"/><circle cx="516.8" cy="308.1" r="4.4"/><circle cx="554.2" cy="309.1" r="4.4"/><circle cx="538.9" cy="309.4" r="4.4"/><circle cx="569.4" cy="309.6" r="4.4"/><circle cx="578.0" cy="310.1" r="4.4"/><circle cx="559.9" cy="311.0" r="4.4"/><circle cx="533.3" cy="311.5" r="4.4"/><circle cx="527.3" cy="312.2" r="4.4"/><circle cx="544.4" cy="312.6" r="4.4"/><circle cx="521.4" cy="313.4" r="4.4"/><circle cx="550.3" cy="313.7" r="4.4"/><circle cx="565.1" cy="313.9" r="4.4"/><circle cx="573.1" cy="314.4" r="4.4"/><circle cx="515.7" cy="315.1" r="4.4"/><circle cx="539.5" cy="316.0" r="4.4"/><circle cx="555.8" cy="316.1" r="4.4"/><circle cx="578.5" cy="317.0" r="4.4"/><circle cx="531.7" cy="317.2" r="4.4"/><circle cx="525.5" cy="317.9" r="4.4"/><circle cx="546.4" cy="318.3" r="4.4"/><circle cx="560.9" cy="319.2" r="4.4"/><circle cx="566.9" cy="319.7" r="4.4"/><circle cx="519.9" cy="320.2" r="4.4"/><circle cx="573.5" cy="320.3" r="4.4"/><circle cx="551.7" cy="321.0" r="4.4"/><circle cx="537.5" cy="321.6" r="4.4"/><circle cx="514.4" cy="322.7" r="4.4"/><circle cx="529.2" cy="322.7" r="4.4"/><circle cx="543.6" cy="323.6" r="4.4"/><circle cx="556.8" cy="324.2" r="4.4"/><circle cx="578.0" cy="324.3" r="4.4"/><circle cx="563.4" cy="324.7" r="4.4"/><circle cx="584.0" cy="324.8" r="4.4"/><circle cx="569.3" cy="325.9" r="4.4"/><circle cx="548.8" cy="326.7" r="4.4"/><circle cx="534.4" cy="326.8" r="4.4"/><circle cx="525.8" cy="327.6" r="4.4"/><circle cx="519.8" cy="328.3" r="4.4"/><circle cx="540.4" cy="328.7" r="4.4"/><circle cx="513.9" cy="328.9" r="4.4"/><circle cx="554.0" cy="329.6" r="4.4"/><circle cx="560.0" cy="329.8" r="4.4"/><circle cx="573.2" cy="330.4" r="4.4"/><circle cx="530.5" cy="331.4" r="4.4"/><circle cx="545.6" cy="331.8" r="4.4"/><circle cx="565.6" cy="331.9" r="4.4"/><circle cx="578.8" cy="332.6" r="4.4"/><circle cx="536.3" cy="333.1" r="4.4"/><circle cx="525.0" cy="333.7" r="4.4"/><circle cx="510.3" cy="333.7" r="4.4"/><circle cx="518.1" cy="334.1" r="4.4"/><circle cx="584.5" cy="334.6" r="4.4"/><circle cx="550.2" cy="335.6" r="4.4"/><circle cx="556.2" cy="336.0" r="4.4"/><circle cx="541.6" cy="336.2" r="4.4"/><circle cx="569.3" cy="336.6" r="4.4"/><circle cx="562.1" cy="337.2" r="4.4"/><circle cx="532.1" cy="337.4" r="4.4"/><circle cx="575.2" cy="338.0" r="4.4"/><circle cx="514.2" cy="338.6" r="4.4"/><circle cx="522.1" cy="338.9" r="4.4"/><circle cx="580.9" cy="339.6" r="4.4"/><circle cx="508.4" cy="340.0" r="4.4"/><circle cx="546.5" cy="340.3" r="4.4"/><circle cx="552.6" cy="341.1" r="4.4"/><circle cx="538.2" cy="341.2" r="4.4"/><circle cx="527.7" cy="341.4" r="4.4"/><circle cx="558.5" cy="342.3" r="4.4"/><circle cx="565.0" cy="342.4" r="4.4"/><circle cx="571.0" cy="342.7" r="4.4"/><circle cx="585.9" cy="343.0" r="4.4"/><circle cx="518.0" cy="343.3" r="4.4"/><circle cx="503.8" cy="343.8" r="4.4"/><circle cx="533.1" cy="344.4" r="4.4"/><circle cx="542.8" cy="345.1" r="4.4"/><circle cx="576.5" cy="345.2" r="4.4"/><circle cx="523.5" cy="345.8" r="4.4"/><circle cx="548.8" cy="345.9" r="4.4"/><circle cx="513.0" cy="346.6" r="4.4"/><circle cx="590.5" cy="346.8" r="4.4"/><circle cx="554.6" cy="347.5" r="4.4"/><circle cx="561.1" cy="347.7" r="4.4"/><circle cx="581.9" cy="347.7" r="4.4"/><circle cx="537.8" cy="348.4" r="4.4"/><circle cx="529.0" cy="348.7" r="4.4"/><circle cx="566.8" cy="349.6" r="4.4"/><circle cx="519.1" cy="349.7" r="4.4"/><circle cx="572.7" cy="350.4" r="4.4"/><circle cx="545.2" cy="350.8" r="4.4"/><circle cx="508.7" cy="350.8" r="4.4"/><circle cx="502.7" cy="351.3" r="4.4"/><circle cx="586.3" cy="351.9" r="4.4"/><circle cx="593.7" cy="351.9" r="4.4"/><circle cx="550.8" cy="353.1" r="4.4"/><circle cx="556.8" cy="353.3" r="4.4"/><circle cx="534.7" cy="353.5" r="4.4"/><circle cx="525.9" cy="353.9" r="4.4"/><circle cx="562.6" cy="354.5" r="4.4"/><circle cx="540.8" cy="354.8" r="4.4"/><circle cx="576.9" cy="354.8" r="4.4"/><circle cx="516.5" cy="355.2" r="4.4"/><circle cx="568.4" cy="356.2" r="4.4"/><circle cx="506.7" cy="356.5" r="4.4"/><circle cx="546.4" cy="357.2" r="4.4"/><circle cx="582.3" cy="357.5" r="4.4"/><circle cx="588.3" cy="357.7" r="4.4"/><circle cx="531.1" cy="358.3" r="4.4"/><circle cx="552.1" cy="359.0" r="4.4"/><circle cx="558.6" cy="359.0" r="4.4"/><circle cx="523.5" cy="359.4" r="4.4"/><circle cx="537.7" cy="359.9" r="4.4"/><circle cx="572.6" cy="360.5" r="4.4"/><circle cx="564.2" cy="361.0" r="4.4"/><circle cx="517.8" cy="361.3" r="4.4"/><circle cx="511.8" cy="361.9" r="4.4"/><circle cx="543.2" cy="362.3" r="4.4"/><circle cx="578.1" cy="362.9" r="4.4"/><circle cx="527.9" cy="363.4" r="4.4"/><circle cx="584.0" cy="363.7" r="4.4"/><circle cx="548.9" cy="364.2" r="4.4"/><circle cx="554.9" cy="364.6" r="4.4"/><circle cx="534.0" cy="364.6" r="4.4"/><circle cx="568.4" cy="365.4" r="4.4"/><circle cx="507.0" cy="365.4" r="4.4"/><circle cx="560.5" cy="366.8" r="4.4"/><circle cx="523.1" cy="367.0" r="4.4"/><circle cx="539.9" cy="367.3" r="4.4"/><circle cx="573.5" cy="368.4" r="4.4"/><circle cx="517.2" cy="368.4" r="4.4"/><circle cx="587.8" cy="368.4" r="4.4"/><circle cx="530.1" cy="369.2" r="4.4"/><circle cx="547.1" cy="370.1" r="4.4"/><circle cx="553.1" cy="370.4" r="4.4"/><circle cx="565.2" cy="370.5" r="4.4"/><circle cx="535.7" cy="371.7" r="4.4"/><circle cx="578.4" cy="371.8" r="4.4"/><circle cx="512.6" cy="372.3" r="4.4"/><circle cx="506.7" cy="372.5" r="4.4"/><circle cx="542.2" cy="373.6" r="4.4"/><circle cx="557.8" cy="374.1" r="4.4"/><circle cx="526.8" cy="374.2" r="4.4"/><circle cx="569.4" cy="374.8" r="4.4"/><circle cx="520.9" cy="375.4" r="4.4"/><circle cx="548.3" cy="376.0" r="4.4"/><circle cx="582.7" cy="376.1" r="4.4"/><circle cx="537.7" cy="377.6" r="4.4"/><circle cx="562.6" cy="377.7" r="4.4"/><circle cx="531.8" cy="378.3" r="4.4"/><circle cx="574.2" cy="378.4" r="4.4"/><circle cx="553.2" cy="379.4" r="4.4"/><circle cx="543.6" cy="379.7" r="4.4"/><circle cx="516.9" cy="379.8" r="4.4"/><circle cx="567.7" cy="380.9" r="4.4"/><circle cx="526.4" cy="381.1" r="4.4"/><circle cx="579.5" cy="381.2" r="4.4"/><circle cx="511.3" cy="382.1" r="4.4"/><circle cx="558.5" cy="382.3" r="4.4"/><circle cx="548.3" cy="383.4" r="4.4"/><circle cx="539.1" cy="383.7" r="4.4"/><circle cx="584.9" cy="383.9" r="4.4"/><circle cx="533.2" cy="384.8" r="4.4"/><circle cx="572.2" cy="384.9" r="4.4"/><circle cx="563.6" cy="385.5" r="4.4"/><circle cx="553.3" cy="386.7" r="4.4"/><circle cx="525.1" cy="386.9" r="4.4"/><circle cx="543.9" cy="387.5" r="4.4"/><circle cx="519.3" cy="388.2" r="4.4"/><circle cx="577.2" cy="388.2" r="4.4"/><circle cx="513.3" cy="388.4" r="4.4"/><circle cx="558.7" cy="389.3" r="4.4"/><circle cx="538.3" cy="389.6" r="4.4"/><circle cx="567.7" cy="389.9" r="4.4"/><circle cx="530.9" cy="390.4" r="4.4"/><circle cx="548.8" cy="391.0" r="4.4"/><circle cx="581.6" cy="392.3" r="4.4"/><circle cx="508.9" cy="392.6" r="4.4"/><circle cx="525.5" cy="393.0" r="4.4"/><circle cx="572.7" cy="393.2" r="4.4"/><circle cx="543.3" cy="393.5" r="4.4"/><circle cx="553.7" cy="394.4" r="4.4"/><circle cx="535.3" cy="394.8" r="4.4"/><circle cx="560.9" cy="394.9" r="4.4"/><circle cx="520.0" cy="395.5" r="4.4"/><circle cx="566.8" cy="396.2" r="4.4"/><circle cx="514.1" cy="396.2" r="4.4"/><circle cx="585.7" cy="396.7" r="4.4"/><circle cx="547.4" cy="397.9" r="4.4"/><circle cx="530.4" cy="398.3" r="4.4"/><circle cx="575.8" cy="398.4" r="4.4"/><circle cx="541.6" cy="399.5" r="4.4"/><circle cx="556.5" cy="399.7" r="4.4"/><circle cx="524.7" cy="400.0" r="4.4"/><circle cx="509.5" cy="400.2" r="4.4"/><circle cx="535.8" cy="401.1" r="4.4"/><circle cx="562.3" cy="401.1" r="4.4"/><circle cx="569.0" cy="401.8" r="4.4"/><circle cx="519.0" cy="402.1" r="4.4"/><circle cx="550.1" cy="403.2" r="4.4"/><circle cx="579.2" cy="403.3" r="4.4"/><circle cx="585.2" cy="403.8" r="4.4"/><circle cx="530.8" cy="404.5" r="4.4"/><circle cx="544.4" cy="405.1" r="4.4"/><circle cx="557.8" cy="405.6" r="4.4"/><circle cx="573.6" cy="405.6" r="4.4"/><circle cx="525.1" cy="406.2" r="4.4"/><circle cx="538.6" cy="406.7" r="4.4"/><circle cx="564.0" cy="406.9" r="4.4"/><circle cx="516.0" cy="407.2" r="4.4"/><circle cx="552.6" cy="408.7" r="4.4"/><circle cx="581.6" cy="408.8" r="4.4"/><circle cx="510.3" cy="409.4" r="4.4"/><circle cx="587.5" cy="409.6" r="4.4"/><circle cx="533.8" cy="410.3" r="4.4"/><circle cx="547.0" cy="410.7" r="4.4"/><circle cx="568.4" cy="411.0" r="4.4"/><circle cx="559.2" cy="411.4" r="4.4"/><circle cx="528.0" cy="411.6" r="4.4"/><circle cx="541.2" cy="412.2" r="4.4"/><circle cx="522.1" cy="412.9" r="4.4"/><circle cx="574.0" cy="413.1" r="4.4"/><circle cx="516.2" cy="414.1" r="4.4"/><circle cx="506.7" cy="414.2" r="4.4"/><circle cx="551.1" cy="415.0" r="4.4"/><circle cx="563.8" cy="415.3" r="4.4"/><circle cx="536.6" cy="416.1" r="4.4"/><circle cx="545.4" cy="417.0" r="4.4"/><circle cx="556.6" cy="417.3" r="4.4"/><circle cx="530.7" cy="417.4" r="4.4"/><circle cx="568.8" cy="418.5" r="4.4"/><circle cx="524.9" cy="418.6" r="4.4"/><circle cx="574.7" cy="419.3" r="4.4"/><circle cx="518.9" cy="419.6" r="4.4"/><circle cx="580.7" cy="419.7" r="4.4"/><circle cx="549.9" cy="421.0" r="4.4"/><circle cx="541.4" cy="421.4" r="4.4"/><circle cx="535.5" cy="422.0" r="4.4"/><circle cx="560.3" cy="422.1" r="4.4"/><circle cx="529.3" cy="423.2" r="4.4"/><circle cx="514.2" cy="423.3" r="4.4"/><circle cx="585.2" cy="423.6" r="4.4"/><circle cx="565.9" cy="424.2" r="4.4"/><circle cx="554.2" cy="425.2" r="4.4"/><circle cx="546.0" cy="425.5" r="4.4"/><circle cx="524.5" cy="426.8" r="4.4"/><circle cx="539.3" cy="427.0" r="4.4"/><circle cx="533.3" cy="427.7" r="4.4"/><circle cx="570.7" cy="427.8" r="4.4"/><circle cx="518.6" cy="428.0" r="4.4"/><circle cx="559.2" cy="428.4" r="4.4"/><circle cx="576.5" cy="429.4" r="4.4"/><circle cx="549.4" cy="430.5" r="4.4"/><circle cx="564.8" cy="430.6" r="4.4"/><circle cx="513.4" cy="431.1" r="4.4"/><circle cx="543.5" cy="431.8" r="4.4"/><circle cx="536.9" cy="432.6" r="4.4"/><circle cx="529.8" cy="432.6" r="4.4"/><circle cx="554.6" cy="433.5" r="4.4"/><circle cx="569.9" cy="433.8" r="4.4"/><circle cx="524.2" cy="434.7" r="4.4"/><circle cx="560.3" cy="435.3" r="4.4"/><circle cx="575.6" cy="435.7" r="4.4"/><circle cx="547.4" cy="436.4" r="4.4"/><circle cx="518.6" cy="436.8" r="4.4"/><circle cx="581.4" cy="437.1" r="4.4"/><circle cx="541.6" cy="437.7" r="4.4"/><circle cx="535.7" cy="439.0" r="4.4"/><circle cx="552.5" cy="439.7" r="4.4"/><circle cx="564.2" cy="439.9" r="4.4"/><circle cx="530.0" cy="440.7" r="4.4"/><circle cx="558.2" cy="441.6" r="4.4"/><circle cx="569.9" cy="441.8" r="4.4"/><circle cx="547.1" cy="442.4" r="4.4"/><circle cx="524.5" cy="443.2" r="4.4"/><circle cx="541.3" cy="444.0" r="4.4"/><circle cx="575.4" cy="444.1" r="4.4"/><circle cx="535.4" cy="445.2" r="4.4"/><circle cx="552.0" cy="445.9" r="4.4"/><circle cx="562.3" cy="445.9" r="4.4"/><circle cx="529.7" cy="447.0" r="4.4"/><circle cx="567.9" cy="448.1" r="4.4"/><circle cx="521.1" cy="448.2" r="4.4"/><circle cx="546.7" cy="448.7" r="4.4"/><circle cx="539.8" cy="449.8" r="4.4"/><circle cx="556.4" cy="449.9" r="4.4"/><circle cx="573.4" cy="450.6" r="4.4"/><circle cx="534.1" cy="451.7" r="4.4"/><circle cx="562.0" cy="452.2" r="4.4"/><circle cx="527.3" cy="452.5" r="4.4"/><circle cx="550.8" cy="453.1" r="4.4"/><circle cx="568.4" cy="454.0" r="4.4"/><circle cx="545.1" cy="455.0" r="4.4"/><circle cx="522.1" cy="455.5" r="4.4"/><circle cx="539.2" cy="455.8" r="4.4"/><circle cx="555.6" cy="456.8" r="4.4"/><circle cx="531.4" cy="457.1" r="4.4"/><circle cx="561.4" cy="458.4" r="4.4"/><circle cx="549.3" cy="459.3" r="4.4"/><circle cx="567.1" cy="460.3" r="4.4"/><circle cx="543.5" cy="460.8" r="4.4"/><circle cx="536.1" cy="461.0" r="4.4"/><circle cx="554.3" cy="462.6" r="4.4"/><circle cx="530.3" cy="463.0" r="4.4"/><circle cx="524.3" cy="463.8" r="4.4"/><circle cx="559.8" cy="465.1" r="4.4"/><circle cx="547.5" cy="465.3" r="4.4"/><circle cx="541.9" cy="467.4" r="4.4"/><circle cx="535.9" cy="467.8" r="4.4"/><circle cx="552.4" cy="468.8" r="4.4"/><circle cx="564.0" cy="469.4" r="4.4"/><circle cx="530.6" cy="470.7" r="4.4"/><circle cx="547.1" cy="471.7" r="4.4"/><circle cx="556.9" cy="472.7" r="4.4"/><circle cx="540.7" cy="473.3" r="4.4"/><circle cx="535.0" cy="475.2" r="4.4"/><circle cx="550.8" cy="476.4" r="4.4"/><circle cx="545.0" cy="478.0" r="4.4"/><circle cx="556.2" cy="479.2" r="4.4"/><circle cx="539.6" cy="480.6" r="4.4"/><circle cx="533.8" cy="482.1" r="4.4"/><circle cx="548.2" cy="483.1" r="4.4"/><circle cx="558.7" cy="484.6" r="4.4"/><circle cx="543.6" cy="487.0" r="4.4"/><circle cx="550.1" cy="488.8" r="4.4"/><circle cx="539.6" cy="491.4" r="4.4"/><circle cx="546.2" cy="493.3" r="4.4"/><circle cx="551.4" cy="496.4" r="4.4"/><circle cx="546.4" cy="499.8" r="4.4"/><circle cx="551.6" cy="502.9" r="4.4"/><circle cx="546.8" cy="506.4" r="4.4"/><circle cx="547.1" cy="512.6" r="4.4"/><circle cx="547.1" cy="520.8" r="4.4"/><circle cx="547.1" cy="70.0" r="4.4"/><circle cx="547.1" cy="105.0" r="4.4"/><circle cx="547.1" cy="134.0" r="4.4"/></g>
<rect x="491.20" y="307.90" width="111.50" height="110.40" fill="#6fbae8" stroke="none" stroke-width="1" fill-opacity="0.28"/>
<line x1="547.10" y1="150.00" x2="547.10" y2="307.90" stroke="#111" stroke-width="1.1" />
<line x1="547.10" y1="418.30" x2="547.10" y2="524.00" stroke="#111" stroke-width="1.1" />
<rect x="491.20" y="307.90" width="111.50" height="110.40" fill="none" stroke="#0f2a4a" stroke-width="1.15" />
<line x1="491.20" y1="360.30" x2="602.70" y2="360.30" stroke="#0f2a4a" stroke-width="1.6" />
<line x1="213.00" y1="79.85" x2="530.30" y2="79.85" stroke="#111" stroke-width="3.7" />
<line x1="213.00" y1="119.80" x2="366.40" y2="119.80" stroke="#111" stroke-width="3.7" />
<text transform="translate(356.53,77.10) scale(1,1.04)" font-size="27.5" fill="#000" >***</text>
<text transform="translate(278.03,112.20) scale(1,1.04)" font-size="27.5" fill="#000" >***</text>
<rect x="135.40" y="767.30" width="508.10" height="502.90" fill="none" stroke="#3a3a3a" stroke-width="1.5" />
<line x1="129.70" y1="790.40" x2="135.40" y2="790.40" stroke="#3a3a3a" stroke-width="1.4" />
<text transform="translate(101.52,800.85) scale(1,1.04)" font-size="29.2" fill="#000" >3</text>
<line x1="129.70" y1="942.60" x2="135.40" y2="942.60" stroke="#3a3a3a" stroke-width="1.4" />
<text transform="translate(101.81,953.05) scale(1,1.04)" font-size="29.2" fill="#000" >2</text>
<line x1="129.70" y1="1095.00" x2="135.40" y2="1095.00" stroke="#3a3a3a" stroke-width="1.4" />
<text transform="translate(101.81,1105.45) scale(1,1.04)" font-size="29.2" fill="#000" >1</text>
<line x1="129.70" y1="1247.50" x2="135.40" y2="1247.50" stroke="#3a3a3a" stroke-width="1.4" />
<text transform="translate(101.52,1257.95) scale(1,1.04)" font-size="29.2" fill="#000" >0</text>
<line x1="230.40" y1="1270.20" x2="230.40" y2="1275.20" stroke="#888" stroke-width="1.2" />
<line x1="389.20" y1="1270.20" x2="389.20" y2="1275.20" stroke="#888" stroke-width="1.2" />
<line x1="547.80" y1="1270.20" x2="547.80" y2="1275.20" stroke="#888" stroke-width="1.2" />
<text transform="translate(278.66,747.00) scale(1,1.04)" font-size="29.2" fill="#000" >MDA-MB-468</text>
<text transform="translate(181.92,1310.00) scale(1,1.04)" font-size="29.2" fill="#000" >siCTRL</text>
<text transform="translate(369.00,1310.00) scale(1,1.04)" font-size="29.2" fill="#000" >#1</text>
<text transform="translate(527.80,1310.00) scale(1,1.04)" font-size="29.2" fill="#000" >#2</text>
<line x1="367.00" y1="1323.00" x2="578.50" y2="1323.00" stroke="#7a7a7a" stroke-width="1.6" />
<text transform="translate(383.33,1354.00) scale(1,1.04)" font-size="29.2" fill="#000" >Swip1 siRNA</text>
<text transform="translate(61,1249.8) rotate(-90) scale(1,1.04)" font-size="29.2" fill="#000">Mean track speed (µm.min<tspan font-size="19" dy="-15">-1</tspan><tspan dy="15">)</tspan></text>
<defs><filter id="bl" x="-5%" y="-5%" width="110%" height="110%"><feGaussianBlur stdDeviation="0.7"/></filter></defs>
<rect x="174.90" y="1090.90" width="110.80" height="108.50" fill="#f25430" stroke="none" stroke-width="1" />
<g fill="rgba(0,0,0,0.072)" filter="url(#bl)"><circle cx="230.1" cy="926.7" r="4.6"/><circle cx="228.7" cy="930.4" r="4.6"/><circle cx="232.0" cy="929.1" r="4.6"/><circle cx="231.1" cy="932.6" r="4.6"/><circle cx="227.6" cy="937.0" r="4.6"/><circle cx="231.8" cy="936.7" r="4.6"/><circle cx="226.5" cy="940.4" r="4.6"/><circle cx="229.7" cy="940.1" r="4.6"/><circle cx="234.5" cy="939.8" r="4.6"/><circle cx="228.0" cy="944.9" r="4.6"/><circle cx="232.2" cy="943.8" r="4.6"/><circle cx="226.1" cy="948.3" r="4.6"/><circle cx="230.4" cy="947.5" r="4.6"/><circle cx="234.3" cy="948.6" r="4.6"/><circle cx="227.8" cy="951.0" r="4.6"/><circle cx="232.8" cy="951.3" r="4.6"/><circle cx="226.1" cy="955.4" r="4.6"/><circle cx="229.7" cy="954.7" r="4.6"/><circle cx="234.6" cy="954.4" r="4.6"/><circle cx="227.6" cy="958.1" r="4.6"/><circle cx="232.2" cy="959.4" r="4.6"/><circle cx="230.9" cy="962.8" r="4.6"/><circle cx="228.3" cy="966.6" r="4.6"/><circle cx="232.1" cy="965.3" r="4.6"/><circle cx="229.8" cy="969.6" r="4.6"/><circle cx="228.0" cy="973.0" r="4.6"/><circle cx="231.7" cy="973.4" r="4.6"/><circle cx="230.7" cy="976.8" r="4.6"/><circle cx="227.8" cy="980.1" r="4.6"/><circle cx="232.9" cy="980.3" r="4.6"/><circle cx="226.0" cy="984.6" r="4.6"/><circle cx="231.0" cy="984.6" r="4.6"/><circle cx="234.4" cy="984.1" r="4.6"/><circle cx="228.4" cy="987.8" r="4.6"/><circle cx="233.1" cy="988.4" r="4.6"/><circle cx="225.5" cy="991.2" r="4.6"/><circle cx="230.3" cy="991.7" r="4.6"/><circle cx="234.8" cy="991.5" r="4.6"/><circle cx="228.1" cy="994.4" r="4.6"/><circle cx="231.8" cy="995.6" r="4.6"/><circle cx="225.7" cy="998.6" r="4.6"/><circle cx="230.9" cy="998.6" r="4.6"/><circle cx="234.7" cy="998.0" r="4.6"/><circle cx="224.0" cy="1002.3" r="4.6"/><circle cx="228.0" cy="1002.6" r="4.6"/><circle cx="232.1" cy="1001.8" r="4.6"/><circle cx="236.5" cy="1002.6" r="4.6"/><circle cx="226.0" cy="1006.1" r="4.6"/><circle cx="230.9" cy="1006.3" r="4.6"/><circle cx="235.2" cy="1006.5" r="4.6"/><circle cx="223.9" cy="1010.4" r="4.6"/><circle cx="229.0" cy="1009.7" r="4.6"/><circle cx="232.6" cy="1009.6" r="4.6"/><circle cx="236.4" cy="1009.0" r="4.6"/><circle cx="225.9" cy="1012.6" r="4.6"/><circle cx="230.1" cy="1012.8" r="4.6"/><circle cx="235.1" cy="1013.9" r="4.6"/><circle cx="224.8" cy="1017.7" r="4.6"/><circle cx="228.2" cy="1016.9" r="4.6"/><circle cx="233.3" cy="1016.6" r="4.6"/><circle cx="236.7" cy="1016.5" r="4.6"/><circle cx="226.0" cy="1020.7" r="4.6"/><circle cx="230.1" cy="1021.3" r="4.6"/><circle cx="235.4" cy="1020.0" r="4.6"/><circle cx="223.7" cy="1024.1" r="4.6"/><circle cx="227.6" cy="1023.7" r="4.6"/><circle cx="232.0" cy="1024.7" r="4.6"/><circle cx="236.0" cy="1024.5" r="4.6"/><circle cx="226.2" cy="1027.9" r="4.6"/><circle cx="230.2" cy="1028.4" r="4.6"/><circle cx="235.2" cy="1027.4" r="4.6"/><circle cx="224.4" cy="1031.1" r="4.6"/><circle cx="228.8" cy="1031.0" r="4.6"/><circle cx="232.9" cy="1032.2" r="4.6"/><circle cx="235.9" cy="1030.9" r="4.6"/><circle cx="222.8" cy="1034.7" r="4.6"/><circle cx="226.0" cy="1035.2" r="4.6"/><circle cx="230.3" cy="1034.4" r="4.6"/><circle cx="234.9" cy="1034.5" r="4.6"/><circle cx="239.5" cy="1034.4" r="4.6"/><circle cx="219.3" cy="1039.2" r="4.6"/><circle cx="224.0" cy="1039.5" r="4.6"/><circle cx="228.8" cy="1038.4" r="4.6"/><circle cx="233.1" cy="1038.5" r="4.6"/><circle cx="236.3" cy="1038.3" r="4.6"/><circle cx="241.6" cy="1038.1" r="4.6"/><circle cx="222.0" cy="1041.6" r="4.6"/><circle cx="226.2" cy="1042.1" r="4.6"/><circle cx="229.8" cy="1041.9" r="4.6"/><circle cx="234.2" cy="1041.6" r="4.6"/><circle cx="238.8" cy="1041.9" r="4.6"/><circle cx="220.6" cy="1046.1" r="4.6"/><circle cx="224.7" cy="1045.6" r="4.6"/><circle cx="227.8" cy="1046.5" r="4.6"/><circle cx="232.2" cy="1046.0" r="4.6"/><circle cx="236.8" cy="1045.5" r="4.6"/><circle cx="240.4" cy="1045.3" r="4.6"/><circle cx="217.2" cy="1050.1" r="4.6"/><circle cx="222.6" cy="1049.6" r="4.6"/><circle cx="226.3" cy="1049.2" r="4.6"/><circle cx="230.3" cy="1049.4" r="4.6"/><circle cx="234.4" cy="1050.4" r="4.6"/><circle cx="239.0" cy="1049.5" r="4.6"/><circle cx="242.8" cy="1049.5" r="4.6"/><circle cx="216.4" cy="1053.6" r="4.6"/><circle cx="219.3" cy="1052.7" r="4.6"/><circle cx="223.5" cy="1053.3" r="4.6"/><circle cx="228.2" cy="1054.0" r="4.6"/><circle cx="233.2" cy="1053.6" r="4.6"/><circle cx="237.2" cy="1054.0" r="4.6"/><circle cx="240.9" cy="1053.9" r="4.6"/><circle cx="244.5" cy="1053.0" r="4.6"/><circle cx="214.3" cy="1056.7" r="4.6"/><circle cx="217.3" cy="1057.1" r="4.6"/><circle cx="221.4" cy="1057.1" r="4.6"/><circle cx="225.6" cy="1057.5" r="4.6"/><circle cx="230.6" cy="1056.9" r="4.6"/><circle cx="235.0" cy="1056.7" r="4.6"/><circle cx="239.4" cy="1056.4" r="4.6"/><circle cx="243.8" cy="1056.5" r="4.6"/><circle cx="246.4" cy="1057.5" r="4.6"/><circle cx="211.9" cy="1060.3" r="4.6"/><circle cx="215.9" cy="1059.8" r="4.6"/><circle cx="220.6" cy="1060.1" r="4.6"/><circle cx="224.2" cy="1060.9" r="4.6"/><circle cx="227.8" cy="1060.2" r="4.6"/><circle cx="232.9" cy="1060.4" r="4.6"/><circle cx="236.4" cy="1061.1" r="4.6"/><circle cx="241.3" cy="1060.6" r="4.6"/><circle cx="244.4" cy="1060.8" r="4.6"/><circle cx="249.3" cy="1060.9" r="4.6"/><circle cx="209.9" cy="1064.3" r="4.6"/><circle cx="214.2" cy="1063.6" r="4.6"/><circle cx="218.0" cy="1064.5" r="4.6"/><circle cx="221.6" cy="1063.8" r="4.6"/><circle cx="226.6" cy="1063.6" r="4.6"/><circle cx="229.8" cy="1063.5" r="4.6"/><circle cx="235.0" cy="1063.7" r="4.6"/><circle cx="238.7" cy="1063.6" r="4.6"/><circle cx="243.7" cy="1064.2" r="4.6"/><circle cx="247.2" cy="1063.6" r="4.6"/><circle cx="251.6" cy="1064.6" r="4.6"/><circle cx="207.5" cy="1067.5" r="4.6"/><circle cx="212.2" cy="1067.2" r="4.6"/><circle cx="215.5" cy="1068.2" r="4.6"/><circle cx="219.8" cy="1067.5" r="4.6"/><circle cx="223.8" cy="1067.9" r="4.6"/><circle cx="228.7" cy="1067.8" r="4.6"/><circle cx="232.9" cy="1067.3" r="4.6"/><circle cx="236.4" cy="1068.4" r="4.6"/><circle cx="241.0" cy="1067.6" r="4.6"/><circle cx="245.7" cy="1067.1" r="4.6"/><circle cx="249.9" cy="1067.9" r="4.6"/><circle cx="253.8" cy="1067.5" r="4.6"/><circle cx="208.6" cy="1070.7" r="4.6"/><circle cx="213.3" cy="1072.1" r="4.6"/><circle cx="218.5" cy="1071.0" r="4.6"/><circle cx="221.5" cy="1071.9" r="4.6"/><circle cx="226.7" cy="1070.7" r="4.6"/><circle cx="230.7" cy="1071.9" r="4.6"/><circle cx="234.8" cy="1072.1" r="4.6"/><circle cx="238.3" cy="1071.4" r="4.6"/><circle cx="243.7" cy="1071.1" r="4.6"/><circle cx="247.8" cy="1071.9" r="4.6"/><circle cx="251.1" cy="1072.2" r="4.6"/><circle cx="207.1" cy="1075.4" r="4.6"/><circle cx="211.6" cy="1075.8" r="4.6"/><circle cx="215.4" cy="1075.0" r="4.6"/><circle cx="219.7" cy="1074.6" r="4.6"/><circle cx="224.6" cy="1075.0" r="4.6"/><circle cx="228.3" cy="1075.4" r="4.6"/><circle cx="231.9" cy="1074.5" r="4.6"/><circle cx="237.3" cy="1074.6" r="4.6"/><circle cx="240.3" cy="1074.4" r="4.6"/><circle cx="244.9" cy="1075.4" r="4.6"/><circle cx="250.0" cy="1075.6" r="4.6"/><circle cx="254.2" cy="1074.9" r="4.6"/><circle cx="205.9" cy="1079.3" r="4.6"/><circle cx="209.0" cy="1079.3" r="4.6"/><circle cx="213.5" cy="1078.7" r="4.6"/><circle cx="217.7" cy="1078.4" r="4.6"/><circle cx="222.4" cy="1079.0" r="4.6"/><circle cx="225.8" cy="1079.4" r="4.6"/><circle cx="230.7" cy="1078.8" r="4.6"/><circle cx="234.3" cy="1078.3" r="4.6"/><circle cx="238.8" cy="1079.4" r="4.6"/><circle cx="242.9" cy="1078.7" r="4.6"/><circle cx="246.5" cy="1079.0" r="4.6"/><circle cx="251.0" cy="1078.8" r="4.6"/><circle cx="255.9" cy="1079.2" r="4.6"/><circle cx="206.9" cy="1082.4" r="4.6"/><circle cx="212.0" cy="1082.3" r="4.6"/><circle cx="215.3" cy="1082.7" r="4.6"/><circle cx="220.3" cy="1082.6" r="4.6"/><circle cx="223.3" cy="1082.3" r="4.6"/><circle cx="228.0" cy="1083.0" r="4.6"/><circle cx="231.7" cy="1082.2" r="4.6"/><circle cx="236.8" cy="1081.9" r="4.6"/><circle cx="241.4" cy="1082.3" r="4.6"/><circle cx="245.6" cy="1083.0" r="4.6"/><circle cx="249.2" cy="1082.3" r="4.6"/><circle cx="253.5" cy="1082.5" r="4.6"/><circle cx="205.4" cy="1086.2" r="4.6"/><circle cx="209.9" cy="1085.4" r="4.6"/><circle cx="212.9" cy="1085.4" r="4.6"/><circle cx="217.5" cy="1085.8" r="4.6"/><circle cx="221.8" cy="1085.3" r="4.6"/><circle cx="226.0" cy="1086.3" r="4.6"/><circle cx="230.2" cy="1086.7" r="4.6"/><circle cx="234.4" cy="1085.9" r="4.6"/><circle cx="239.2" cy="1086.6" r="4.6"/><circle cx="243.6" cy="1085.5" r="4.6"/><circle cx="246.5" cy="1086.2" r="4.6"/><circle cx="252.1" cy="1086.4" r="4.6"/><circle cx="255.7" cy="1085.7" r="4.6"/><circle cx="207.5" cy="1089.4" r="4.6"/><circle cx="211.4" cy="1089.1" r="4.6"/><circle cx="216.3" cy="1089.6" r="4.6"/><circle cx="220.1" cy="1090.2" r="4.6"/><circle cx="224.6" cy="1089.3" r="4.6"/><circle cx="228.6" cy="1089.3" r="4.6"/><circle cx="232.2" cy="1090.0" r="4.6"/><circle cx="236.4" cy="1090.1" r="4.6"/><circle cx="240.1" cy="1089.3" r="4.6"/><circle cx="245.4" cy="1089.3" r="4.6"/><circle cx="249.0" cy="1090.1" r="4.6"/><circle cx="252.7" cy="1090.0" r="4.6"/><circle cx="205.1" cy="1093.3" r="4.6"/><circle cx="209.4" cy="1093.6" r="4.6"/><circle cx="214.0" cy="1093.4" r="4.6"/><circle cx="217.5" cy="1093.2" r="4.6"/><circle cx="221.6" cy="1092.6" r="4.6"/><circle cx="225.5" cy="1093.5" r="4.6"/><circle cx="230.2" cy="1093.3" r="4.6"/><circle cx="234.0" cy="1092.9" r="4.6"/><circle cx="239.1" cy="1092.7" r="4.6"/><circle cx="242.3" cy="1093.9" r="4.6"/><circle cx="246.9" cy="1093.1" r="4.6"/><circle cx="251.4" cy="1092.7" r="4.6"/><circle cx="254.9" cy="1092.9" r="4.6"/><circle cx="203.6" cy="1096.3" r="4.6"/><circle cx="207.8" cy="1096.6" r="4.6"/><circle cx="210.9" cy="1097.7" r="4.6"/><circle cx="215.6" cy="1097.0" r="4.6"/><circle cx="219.8" cy="1096.2" r="4.6"/><circle cx="224.8" cy="1097.5" r="4.6"/><circle cx="227.9" cy="1096.8" r="4.6"/><circle cx="231.9" cy="1096.8" r="4.6"/><circle cx="236.9" cy="1096.4" r="4.6"/><circle cx="240.7" cy="1097.7" r="4.6"/><circle cx="245.2" cy="1097.4" r="4.6"/><circle cx="249.8" cy="1097.6" r="4.6"/><circle cx="252.9" cy="1097.5" r="4.6"/><circle cx="257.4" cy="1097.3" r="4.6"/><circle cx="205.2" cy="1101.3" r="4.6"/><circle cx="209.0" cy="1099.9" r="4.6"/><circle cx="213.3" cy="1100.9" r="4.6"/><circle cx="217.1" cy="1101.3" r="4.6"/><circle cx="222.3" cy="1100.5" r="4.6"/><circle cx="226.0" cy="1099.8" r="4.6"/><circle cx="229.7" cy="1100.4" r="4.6"/><circle cx="234.4" cy="1100.8" r="4.6"/><circle cx="239.0" cy="1100.4" r="4.6"/><circle cx="243.8" cy="1100.8" r="4.6"/><circle cx="247.9" cy="1100.8" r="4.6"/><circle cx="251.6" cy="1101.0" r="4.6"/><circle cx="256.3" cy="1100.2" r="4.6"/><circle cx="203.6" cy="1104.9" r="4.6"/><circle cx="207.0" cy="1104.4" r="4.6"/><circle cx="211.0" cy="1104.3" r="4.6"/><circle cx="215.2" cy="1104.1" r="4.6"/><circle cx="219.8" cy="1104.5" r="4.6"/><circle cx="224.1" cy="1104.8" r="4.6"/><circle cx="227.8" cy="1103.6" r="4.6"/><circle cx="232.6" cy="1104.0" r="4.6"/><circle cx="236.8" cy="1104.7" r="4.6"/><circle cx="241.3" cy="1104.9" r="4.6"/><circle cx="245.5" cy="1104.8" r="4.6"/><circle cx="250.1" cy="1103.7" r="4.6"/><circle cx="253.7" cy="1104.9" r="4.6"/><circle cx="257.2" cy="1104.5" r="4.6"/><circle cx="200.3" cy="1107.8" r="4.6"/><circle cx="205.8" cy="1108.4" r="4.6"/><circle cx="209.8" cy="1107.8" r="4.6"/><circle cx="213.0" cy="1107.4" r="4.6"/><circle cx="217.4" cy="1108.6" r="4.6"/><circle cx="222.8" cy="1108.2" r="4.6"/><circle cx="226.8" cy="1107.8" r="4.6"/><circle cx="231.1" cy="1108.1" r="4.6"/><circle cx="234.3" cy="1108.2" r="4.6"/><circle cx="238.7" cy="1107.7" r="4.6"/><circle cx="243.6" cy="1107.3" r="4.6"/><circle cx="247.8" cy="1107.7" r="4.6"/><circle cx="251.0" cy="1108.4" r="4.6"/><circle cx="255.8" cy="1107.2" r="4.6"/><circle cx="259.4" cy="1107.1" r="4.6"/><circle cx="203.2" cy="1111.4" r="4.6"/><circle cx="207.1" cy="1110.9" r="4.6"/><circle cx="211.3" cy="1111.0" r="4.6"/><circle cx="216.4" cy="1111.2" r="4.6"/><circle cx="219.4" cy="1110.8" r="4.6"/><circle cx="224.3" cy="1111.7" r="4.6"/><circle cx="228.3" cy="1112.0" r="4.6"/><circle cx="232.0" cy="1111.9" r="4.6"/><circle cx="236.3" cy="1111.5" r="4.6"/><circle cx="240.8" cy="1111.7" r="4.6"/><circle cx="245.6" cy="1110.9" r="4.6"/><circle cx="248.7" cy="1112.2" r="4.6"/><circle cx="253.0" cy="1112.2" r="4.6"/><circle cx="258.2" cy="1112.3" r="4.6"/><circle cx="201.3" cy="1115.9" r="4.6"/><circle cx="204.7" cy="1115.2" r="4.6"/><circle cx="209.5" cy="1115.9" r="4.6"/><circle cx="213.4" cy="1115.4" r="4.6"/><circle cx="217.3" cy="1115.8" r="4.6"/><circle cx="222.7" cy="1115.4" r="4.6"/><circle cx="226.8" cy="1115.3" r="4.6"/><circle cx="231.2" cy="1114.7" r="4.6"/><circle cx="234.8" cy="1115.0" r="4.6"/><circle cx="238.3" cy="1115.6" r="4.6"/><circle cx="243.6" cy="1115.2" r="4.6"/><circle cx="247.5" cy="1114.9" r="4.6"/><circle cx="251.4" cy="1115.3" r="4.6"/><circle cx="256.3" cy="1114.4" r="4.6"/><circle cx="259.5" cy="1115.0" r="4.6"/><circle cx="199.2" cy="1119.1" r="4.6"/><circle cx="203.2" cy="1118.2" r="4.6"/><circle cx="207.9" cy="1119.2" r="4.6"/><circle cx="211.4" cy="1118.2" r="4.6"/><circle cx="216.3" cy="1118.3" r="4.6"/><circle cx="219.8" cy="1119.1" r="4.6"/><circle cx="224.3" cy="1119.4" r="4.6"/><circle cx="227.8" cy="1119.0" r="4.6"/><circle cx="231.7" cy="1118.2" r="4.6"/><circle cx="237.2" cy="1119.1" r="4.6"/><circle cx="241.2" cy="1118.6" r="4.6"/><circle cx="245.4" cy="1118.7" r="4.6"/><circle cx="248.5" cy="1118.5" r="4.6"/><circle cx="254.0" cy="1119.5" r="4.6"/><circle cx="257.9" cy="1118.3" r="4.6"/><circle cx="262.0" cy="1119.2" r="4.6"/><circle cx="201.2" cy="1122.9" r="4.6"/><circle cx="206.0" cy="1122.9" r="4.6"/><circle cx="208.7" cy="1122.0" r="4.6"/><circle cx="213.8" cy="1122.1" r="4.6"/><circle cx="218.4" cy="1122.5" r="4.6"/><circle cx="221.7" cy="1122.2" r="4.6"/><circle cx="225.6" cy="1122.7" r="4.6"/><circle cx="230.4" cy="1123.0" r="4.6"/><circle cx="234.0" cy="1121.8" r="4.6"/><circle cx="238.5" cy="1122.8" r="4.6"/><circle cx="243.3" cy="1122.3" r="4.6"/><circle cx="247.2" cy="1122.1" r="4.6"/><circle cx="250.9" cy="1123.1" r="4.6"/><circle cx="255.5" cy="1123.1" r="4.6"/><circle cx="260.0" cy="1122.2" r="4.6"/><circle cx="199.6" cy="1126.4" r="4.6"/><circle cx="202.3" cy="1125.7" r="4.6"/><circle cx="206.6" cy="1125.7" r="4.6"/><circle cx="212.2" cy="1126.0" r="4.6"/><circle cx="215.6" cy="1125.9" r="4.6"/><circle cx="219.7" cy="1126.4" r="4.6"/><circle cx="224.5" cy="1125.3" r="4.6"/><circle cx="228.1" cy="1126.5" r="4.6"/><circle cx="231.8" cy="1126.7" r="4.6"/><circle cx="236.6" cy="1125.7" r="4.6"/><circle cx="241.5" cy="1126.8" r="4.6"/><circle cx="245.7" cy="1125.5" r="4.6"/><circle cx="248.6" cy="1125.7" r="4.6"/><circle cx="254.1" cy="1126.6" r="4.6"/><circle cx="257.0" cy="1126.4" r="4.6"/><circle cx="262.4" cy="1125.4" r="4.6"/><circle cx="197.3" cy="1129.7" r="4.6"/><circle cx="200.6" cy="1129.4" r="4.6"/><circle cx="205.2" cy="1130.3" r="4.6"/><circle cx="208.7" cy="1129.8" r="4.6"/><circle cx="213.6" cy="1129.1" r="4.6"/><circle cx="217.8" cy="1129.7" r="4.6"/><circle cx="222.7" cy="1130.0" r="4.6"/><circle cx="225.5" cy="1130.1" r="4.6"/><circle cx="230.8" cy="1128.9" r="4.6"/><circle cx="234.6" cy="1129.2" r="4.6"/><circle cx="239.3" cy="1130.3" r="4.6"/><circle cx="243.5" cy="1130.2" r="4.6"/><circle cx="247.7" cy="1129.4" r="4.6"/><circle cx="251.5" cy="1130.1" r="4.6"/><circle cx="256.1" cy="1129.0" r="4.6"/><circle cx="259.6" cy="1129.2" r="4.6"/><circle cx="263.8" cy="1130.3" r="4.6"/><circle cx="194.9" cy="1133.2" r="4.6"/><circle cx="199.3" cy="1133.8" r="4.6"/><circle cx="203.3" cy="1132.7" r="4.6"/><circle cx="207.9" cy="1133.6" r="4.6"/><circle cx="211.1" cy="1132.7" r="4.6"/><circle cx="215.8" cy="1133.4" r="4.6"/><circle cx="219.2" cy="1133.9" r="4.6"/><circle cx="224.5" cy="1132.6" r="4.6"/><circle cx="228.7" cy="1133.3" r="4.6"/><circle cx="233.2" cy="1133.9" r="4.6"/><circle cx="236.3" cy="1132.6" r="4.6"/><circle cx="240.3" cy="1132.7" r="4.6"/><circle cx="245.5" cy="1133.9" r="4.6"/><circle cx="249.4" cy="1132.8" r="4.6"/><circle cx="254.3" cy="1133.1" r="4.6"/><circle cx="258.3" cy="1132.7" r="4.6"/><circle cx="262.4" cy="1134.0" r="4.6"/><circle cx="266.6" cy="1133.4" r="4.6"/><circle cx="196.5" cy="1136.5" r="4.6"/><circle cx="201.3" cy="1137.4" r="4.6"/><circle cx="204.5" cy="1136.7" r="4.6"/><circle cx="208.9" cy="1137.6" r="4.6"/><circle cx="212.9" cy="1137.0" r="4.6"/><circle cx="217.4" cy="1137.6" r="4.6"/><circle cx="221.8" cy="1136.5" r="4.6"/><circle cx="225.8" cy="1137.0" r="4.6"/><circle cx="229.9" cy="1136.9" r="4.6"/><circle cx="235.0" cy="1136.7" r="4.6"/><circle cx="238.9" cy="1136.7" r="4.6"/><circle cx="243.4" cy="1137.6" r="4.6"/><circle cx="247.5" cy="1137.4" r="4.6"/><circle cx="250.7" cy="1136.6" r="4.6"/><circle cx="254.8" cy="1137.3" r="4.6"/><circle cx="260.4" cy="1136.2" r="4.6"/><circle cx="264.1" cy="1136.3" r="4.6"/><circle cx="194.1" cy="1141.2" r="4.6"/><circle cx="199.7" cy="1140.9" r="4.6"/><circle cx="202.5" cy="1140.6" r="4.6"/><circle cx="207.1" cy="1140.1" r="4.6"/><circle cx="211.2" cy="1140.4" r="4.6"/><circle cx="215.5" cy="1141.2" r="4.6"/><circle cx="219.7" cy="1140.9" r="4.6"/><circle cx="224.6" cy="1141.2" r="4.6"/><circle cx="228.1" cy="1140.4" r="4.6"/><circle cx="231.8" cy="1140.7" r="4.6"/><circle cx="236.8" cy="1141.2" r="4.6"/><circle cx="241.1" cy="1141.0" r="4.6"/><circle cx="244.9" cy="1141.3" r="4.6"/><circle cx="249.4" cy="1140.4" r="4.6"/><circle cx="253.6" cy="1141.2" r="4.6"/><circle cx="257.4" cy="1140.6" r="4.6"/><circle cx="261.4" cy="1140.9" r="4.6"/><circle cx="266.1" cy="1140.7" r="4.6"/><circle cx="192.9" cy="1144.9" r="4.6"/><circle cx="196.4" cy="1143.8" r="4.6"/><circle cx="200.4" cy="1144.2" r="4.6"/><circle cx="205.4" cy="1143.8" r="4.6"/><circle cx="210.0" cy="1145.0" r="4.6"/><circle cx="213.8" cy="1144.1" r="4.6"/><circle cx="218.4" cy="1144.7" r="4.6"/><circle cx="221.6" cy="1143.5" r="4.6"/><circle cx="226.7" cy="1143.7" r="4.6"/><circle cx="229.9" cy="1143.8" r="4.6"/><circle cx="234.4" cy="1143.7" r="4.6"/><circle cx="238.9" cy="1143.7" r="4.6"/><circle cx="242.7" cy="1144.4" r="4.6"/><circle cx="247.7" cy="1144.9" r="4.6"/><circle cx="251.2" cy="1143.8" r="4.6"/><circle cx="256.0" cy="1144.1" r="4.6"/><circle cx="259.9" cy="1143.5" r="4.6"/><circle cx="264.8" cy="1144.3" r="4.6"/><circle cx="269.0" cy="1144.9" r="4.6"/><circle cx="191.3" cy="1147.6" r="4.6"/><circle cx="193.9" cy="1148.5" r="4.6"/><circle cx="199.5" cy="1147.2" r="4.6"/><circle cx="202.9" cy="1148.1" r="4.6"/><circle cx="206.7" cy="1148.4" r="4.6"/><circle cx="211.0" cy="1148.3" r="4.6"/><circle cx="215.2" cy="1147.5" r="4.6"/><circle cx="220.3" cy="1148.6" r="4.6"/><circle cx="224.4" cy="1148.4" r="4.6"/><circle cx="227.8" cy="1147.2" r="4.6"/><circle cx="233.2" cy="1147.3" r="4.6"/><circle cx="237.2" cy="1148.5" r="4.6"/><circle cx="240.1" cy="1147.4" r="4.6"/><circle cx="245.8" cy="1147.8" r="4.6"/><circle cx="249.4" cy="1148.3" r="4.6"/><circle cx="253.7" cy="1147.9" r="4.6"/><circle cx="257.0" cy="1148.6" r="4.6"/><circle cx="261.3" cy="1147.8" r="4.6"/><circle cx="265.9" cy="1147.8" r="4.6"/><circle cx="270.4" cy="1147.4" r="4.6"/><circle cx="193.0" cy="1150.9" r="4.6"/><circle cx="196.5" cy="1152.3" r="4.6"/><circle cx="200.7" cy="1151.7" r="4.6"/><circle cx="205.4" cy="1151.8" r="4.6"/><circle cx="209.3" cy="1151.6" r="4.6"/><circle cx="214.4" cy="1151.3" r="4.6"/><circle cx="217.6" cy="1151.1" r="4.6"/><circle cx="222.6" cy="1151.1" r="4.6"/><circle cx="226.1" cy="1151.8" r="4.6"/><circle cx="230.2" cy="1152.1" r="4.6"/><circle cx="234.3" cy="1151.6" r="4.6"/><circle cx="238.7" cy="1151.2" r="4.6"/><circle cx="243.0" cy="1151.4" r="4.6"/><circle cx="246.9" cy="1151.5" r="4.6"/><circle cx="251.9" cy="1151.3" r="4.6"/><circle cx="256.0" cy="1150.9" r="4.6"/><circle cx="259.1" cy="1152.0" r="4.6"/><circle cx="264.8" cy="1151.2" r="4.6"/><circle cx="267.6" cy="1151.7" r="4.6"/><circle cx="190.7" cy="1155.5" r="4.6"/><circle cx="194.3" cy="1155.1" r="4.6"/><circle cx="198.2" cy="1155.8" r="4.6"/><circle cx="203.7" cy="1155.3" r="4.6"/><circle cx="207.7" cy="1155.7" r="4.6"/><circle cx="210.8" cy="1154.5" r="4.6"/><circle cx="215.9" cy="1155.2" r="4.6"/><circle cx="219.2" cy="1155.1" r="4.6"/><circle cx="223.9" cy="1155.1" r="4.6"/><circle cx="229.0" cy="1154.8" r="4.6"/><circle cx="232.6" cy="1154.4" r="4.6"/><circle cx="237.2" cy="1154.7" r="4.6"/><circle cx="240.8" cy="1155.5" r="4.6"/><circle cx="244.4" cy="1155.5" r="4.6"/><circle cx="248.6" cy="1154.6" r="4.6"/><circle cx="253.3" cy="1155.5" r="4.6"/><circle cx="258.4" cy="1155.0" r="4.6"/><circle cx="261.9" cy="1154.5" r="4.6"/><circle cx="266.5" cy="1155.5" r="4.6"/><circle cx="270.6" cy="1155.4" r="4.6"/><circle cx="187.7" cy="1158.1" r="4.6"/><circle cx="192.6" cy="1159.0" r="4.6"/><circle cx="196.3" cy="1158.3" r="4.6"/><circle cx="201.8" cy="1158.6" r="4.6"/><circle cx="205.3" cy="1159.1" r="4.6"/><circle cx="209.3" cy="1158.4" r="4.6"/><circle cx="213.1" cy="1158.1" r="4.6"/><circle cx="217.3" cy="1158.9" r="4.6"/><circle cx="221.9" cy="1158.9" r="4.6"/><circle cx="226.8" cy="1159.3" r="4.6"/><circle cx="229.9" cy="1158.9" r="4.6"/><circle cx="234.5" cy="1159.2" r="4.6"/><circle cx="239.0" cy="1158.3" r="4.6"/><circle cx="242.7" cy="1159.1" r="4.6"/><circle cx="246.5" cy="1158.3" r="4.6"/><circle cx="251.3" cy="1159.0" r="4.6"/><circle cx="256.3" cy="1159.4" r="4.6"/><circle cx="259.9" cy="1159.1" r="4.6"/><circle cx="264.2" cy="1159.0" r="4.6"/><circle cx="268.4" cy="1159.6" r="4.6"/><circle cx="273.0" cy="1158.8" r="4.6"/><circle cx="190.5" cy="1162.0" r="4.6"/><circle cx="194.8" cy="1162.3" r="4.6"/><circle cx="198.5" cy="1162.4" r="4.6"/><circle cx="203.3" cy="1162.1" r="4.6"/><circle cx="207.2" cy="1163.2" r="4.6"/><circle cx="211.3" cy="1161.9" r="4.6"/><circle cx="215.9" cy="1162.6" r="4.6"/><circle cx="219.6" cy="1162.0" r="4.6"/><circle cx="223.3" cy="1161.6" r="4.6"/><circle cx="228.8" cy="1162.3" r="4.6"/><circle cx="232.2" cy="1163.0" r="4.6"/><circle cx="236.4" cy="1162.9" r="4.6"/><circle cx="241.0" cy="1162.8" r="4.6"/><circle cx="244.4" cy="1162.6" r="4.6"/><circle cx="249.1" cy="1162.9" r="4.6"/><circle cx="253.0" cy="1162.6" r="4.6"/><circle cx="258.2" cy="1161.8" r="4.6"/><circle cx="261.2" cy="1161.7" r="4.6"/><circle cx="266.0" cy="1162.9" r="4.6"/><circle cx="270.9" cy="1162.7" r="4.6"/><circle cx="188.8" cy="1166.2" r="4.6"/><circle cx="193.0" cy="1166.7" r="4.6"/><circle cx="196.3" cy="1165.6" r="4.6"/><circle cx="200.3" cy="1166.1" r="4.6"/><circle cx="205.0" cy="1165.8" r="4.6"/><circle cx="209.6" cy="1166.0" r="4.6"/><circle cx="213.5" cy="1165.3" r="4.6"/><circle cx="217.2" cy="1166.2" r="4.6"/><circle cx="221.9" cy="1165.4" r="4.6"/><circle cx="226.5" cy="1166.1" r="4.6"/><circle cx="229.8" cy="1165.7" r="4.6"/><circle cx="235.0" cy="1166.2" r="4.6"/><circle cx="238.8" cy="1165.8" r="4.6"/><circle cx="243.3" cy="1165.6" r="4.6"/><circle cx="247.6" cy="1165.7" r="4.6"/><circle cx="251.6" cy="1165.7" r="4.6"/><circle cx="255.5" cy="1166.6" r="4.6"/><circle cx="260.0" cy="1166.0" r="4.6"/><circle cx="263.3" cy="1166.2" r="4.6"/><circle cx="268.4" cy="1166.7" r="4.6"/><circle cx="273.0" cy="1165.6" r="4.6"/><circle cx="187.0" cy="1168.9" r="4.6"/><circle cx="190.6" cy="1169.0" r="4.6"/><circle cx="195.3" cy="1169.8" r="4.6"/><circle cx="199.3" cy="1169.4" r="4.6"/><circle cx="203.5" cy="1169.9" r="4.6"/><circle cx="206.7" cy="1169.6" r="4.6"/><circle cx="212.0" cy="1169.4" r="4.6"/><circle cx="216.4" cy="1170.4" r="4.6"/><circle cx="219.8" cy="1170.4" r="4.6"/><circle cx="224.2" cy="1169.3" r="4.6"/><circle cx="227.5" cy="1169.8" r="4.6"/><circle cx="232.8" cy="1169.6" r="4.6"/><circle cx="236.5" cy="1169.4" r="4.6"/><circle cx="240.7" cy="1169.3" r="4.6"/><circle cx="245.5" cy="1170.1" r="4.6"/><circle cx="249.7" cy="1169.0" r="4.6"/><circle cx="254.0" cy="1169.5" r="4.6"/><circle cx="258.4" cy="1170.2" r="4.6"/><circle cx="261.2" cy="1170.3" r="4.6"/><circle cx="266.7" cy="1169.5" r="4.6"/><circle cx="270.4" cy="1169.5" r="4.6"/><circle cx="273.9" cy="1169.7" r="4.6"/><circle cx="188.1" cy="1173.5" r="4.6"/><circle cx="192.3" cy="1173.6" r="4.6"/><circle cx="196.7" cy="1172.6" r="4.6"/><circle cx="201.7" cy="1172.7" r="4.6"/><circle cx="205.1" cy="1172.7" r="4.6"/><circle cx="210.1" cy="1174.1" r="4.6"/><circle cx="213.1" cy="1173.0" r="4.6"/><circle cx="217.3" cy="1172.9" r="4.6"/><circle cx="222.5" cy="1173.4" r="4.6"/><circle cx="226.3" cy="1173.6" r="4.6"/><circle cx="230.5" cy="1173.4" r="4.6"/><circle cx="234.3" cy="1172.7" r="4.6"/><circle cx="239.4" cy="1172.6" r="4.6"/><circle cx="243.5" cy="1172.6" r="4.6"/><circle cx="247.8" cy="1173.0" r="4.6"/><circle cx="251.3" cy="1173.9" r="4.6"/><circle cx="255.0" cy="1172.6" r="4.6"/><circle cx="260.2" cy="1172.7" r="4.6"/><circle cx="264.6" cy="1172.7" r="4.6"/><circle cx="268.3" cy="1172.6" r="4.6"/><circle cx="272.9" cy="1173.1" r="4.6"/><circle cx="185.5" cy="1177.3" r="4.6"/><circle cx="191.1" cy="1176.2" r="4.6"/><circle cx="194.3" cy="1176.4" r="4.6"/><circle cx="198.5" cy="1177.4" r="4.6"/><circle cx="202.6" cy="1177.6" r="4.6"/><circle cx="206.5" cy="1177.5" r="4.6"/><circle cx="210.7" cy="1177.0" r="4.6"/><circle cx="216.2" cy="1176.6" r="4.6"/><circle cx="220.2" cy="1177.1" r="4.6"/><circle cx="224.5" cy="1176.6" r="4.6"/><circle cx="228.5" cy="1177.7" r="4.6"/><circle cx="232.5" cy="1176.3" r="4.6"/><circle cx="236.5" cy="1177.4" r="4.6"/><circle cx="240.6" cy="1176.2" r="4.6"/><circle cx="245.8" cy="1177.4" r="4.6"/><circle cx="248.7" cy="1177.7" r="4.6"/><circle cx="254.1" cy="1176.2" r="4.6"/><circle cx="257.5" cy="1176.8" r="4.6"/><circle cx="262.2" cy="1177.7" r="4.6"/><circle cx="266.3" cy="1177.3" r="4.6"/><circle cx="269.9" cy="1177.2" r="4.6"/><circle cx="274.5" cy="1176.8" r="4.6"/><circle cx="184.1" cy="1180.2" r="4.6"/><circle cx="187.7" cy="1180.6" r="4.6"/><circle cx="192.5" cy="1181.0" r="4.6"/><circle cx="197.5" cy="1180.4" r="4.6"/><circle cx="200.7" cy="1181.3" r="4.6"/><circle cx="205.6" cy="1180.6" r="4.6"/><circle cx="209.7" cy="1180.1" r="4.6"/><circle cx="212.9" cy="1181.2" r="4.6"/><circle cx="217.8" cy="1179.9" r="4.6"/><circle cx="222.0" cy="1180.1" r="4.6"/><circle cx="226.6" cy="1180.6" r="4.6"/><circle cx="230.8" cy="1180.7" r="4.6"/><circle cx="233.9" cy="1180.2" r="4.6"/><circle cx="239.5" cy="1180.1" r="4.6"/><circle cx="243.4" cy="1179.9" r="4.6"/><circle cx="246.8" cy="1179.8" r="4.6"/><circle cx="252.0" cy="1180.0" r="4.6"/><circle cx="255.6" cy="1179.9" r="4.6"/><circle cx="259.7" cy="1181.3" r="4.6"/><circle cx="264.1" cy="1180.0" r="4.6"/><circle cx="268.8" cy="1179.9" r="4.6"/><circle cx="273.1" cy="1180.5" r="4.6"/><circle cx="276.5" cy="1181.0" r="4.6"/><circle cx="186.3" cy="1184.7" r="4.6"/><circle cx="190.0" cy="1183.6" r="4.6"/><circle cx="194.8" cy="1184.1" r="4.6"/><circle cx="199.0" cy="1184.7" r="4.6"/><circle cx="203.2" cy="1184.4" r="4.6"/><circle cx="206.6" cy="1184.8" r="4.6"/><circle cx="211.0" cy="1183.9" r="4.6"/><circle cx="215.9" cy="1184.0" r="4.6"/><circle cx="219.3" cy="1183.5" r="4.6"/><circle cx="224.1" cy="1184.5" r="4.6"/><circle cx="228.4" cy="1184.9" r="4.6"/><circle cx="233.3" cy="1184.0" r="4.6"/><circle cx="236.4" cy="1184.6" r="4.6"/><circle cx="240.2" cy="1184.7" r="4.6"/><circle cx="244.8" cy="1184.6" r="4.6"/><circle cx="249.7" cy="1184.1" r="4.6"/><circle cx="252.9" cy="1183.7" r="4.6"/><circle cx="257.8" cy="1184.2" r="4.6"/><circle cx="261.7" cy="1183.6" r="4.6"/><circle cx="266.2" cy="1184.2" r="4.6"/><circle cx="269.6" cy="1183.8" r="4.6"/><circle cx="275.0" cy="1183.6" r="4.6"/><circle cx="183.9" cy="1188.4" r="4.6"/><circle cx="188.1" cy="1188.2" r="4.6"/><circle cx="191.8" cy="1187.3" r="4.6"/><circle cx="196.9" cy="1187.2" r="4.6"/><circle cx="201.1" cy="1188.3" r="4.6"/><circle cx="205.3" cy="1187.3" r="4.6"/><circle cx="209.5" cy="1188.5" r="4.6"/><circle cx="214.2" cy="1188.4" r="4.6"/><circle cx="218.0" cy="1188.1" r="4.6"/><circle cx="222.2" cy="1187.9" r="4.6"/><circle cx="225.8" cy="1187.5" r="4.6"/><circle cx="230.4" cy="1188.6" r="4.6"/><circle cx="234.2" cy="1188.5" r="4.6"/><circle cx="239.2" cy="1188.0" r="4.6"/><circle cx="243.1" cy="1188.3" r="4.6"/><circle cx="247.1" cy="1188.0" r="4.6"/><circle cx="251.9" cy="1187.9" r="4.6"/><circle cx="254.8" cy="1187.2" r="4.6"/><circle cx="259.1" cy="1188.5" r="4.6"/><circle cx="263.7" cy="1187.8" r="4.6"/><circle cx="267.6" cy="1188.0" r="4.6"/><circle cx="273.1" cy="1187.2" r="4.6"/><circle cx="276.0" cy="1187.2" r="4.6"/><circle cx="185.5" cy="1192.1" r="4.6"/><circle cx="190.2" cy="1192.1" r="4.6"/><circle cx="195.0" cy="1191.8" r="4.6"/><circle cx="199.7" cy="1191.9" r="4.6"/><circle cx="202.4" cy="1190.7" r="4.6"/><circle cx="206.6" cy="1191.4" r="4.6"/><circle cx="212.3" cy="1191.5" r="4.6"/><circle cx="215.7" cy="1192.0" r="4.6"/><circle cx="220.6" cy="1192.3" r="4.6"/><circle cx="224.6" cy="1192.3" r="4.6"/><circle cx="228.1" cy="1191.5" r="4.6"/><circle cx="232.6" cy="1191.4" r="4.6"/><circle cx="236.9" cy="1191.3" r="4.6"/><circle cx="240.2" cy="1191.7" r="4.6"/><circle cx="245.6" cy="1191.4" r="4.6"/><circle cx="248.8" cy="1191.9" r="4.6"/><circle cx="253.3" cy="1192.3" r="4.6"/><circle cx="257.4" cy="1192.1" r="4.6"/><circle cx="261.4" cy="1190.8" r="4.6"/><circle cx="265.8" cy="1192.0" r="4.6"/><circle cx="271.1" cy="1191.6" r="4.6"/><circle cx="273.8" cy="1192.0" r="4.6"/><circle cx="184.8" cy="1195.5" r="4.6"/><circle cx="189.0" cy="1195.6" r="4.6"/><circle cx="193.1" cy="1195.4" r="4.6"/><circle cx="197.3" cy="1195.9" r="4.6"/><circle cx="201.2" cy="1194.7" r="4.6"/><circle cx="206.0" cy="1195.9" r="4.6"/><circle cx="209.6" cy="1195.2" r="4.6"/><circle cx="214.4" cy="1195.9" r="4.6"/><circle cx="217.9" cy="1195.2" r="4.6"/><circle cx="221.9" cy="1195.4" r="4.6"/><circle cx="226.4" cy="1195.2" r="4.6"/><circle cx="229.9" cy="1195.1" r="4.6"/><circle cx="235.0" cy="1195.8" r="4.6"/><circle cx="238.3" cy="1195.6" r="4.6"/><circle cx="243.2" cy="1195.2" r="4.6"/><circle cx="247.5" cy="1195.7" r="4.6"/><circle cx="250.9" cy="1194.7" r="4.6"/><circle cx="255.1" cy="1194.6" r="4.6"/><circle cx="259.3" cy="1194.6" r="4.6"/><circle cx="264.5" cy="1194.6" r="4.6"/><circle cx="268.7" cy="1195.9" r="4.6"/><circle cx="272.6" cy="1195.5" r="4.6"/><circle cx="276.5" cy="1194.6" r="4.6"/><circle cx="182.0" cy="1199.6" r="4.6"/><circle cx="186.6" cy="1198.7" r="4.6"/><circle cx="190.6" cy="1198.4" r="4.6"/><circle cx="195.3" cy="1198.1" r="4.6"/><circle cx="198.2" cy="1198.3" r="4.6"/><circle cx="202.7" cy="1198.1" r="4.6"/><circle cx="207.1" cy="1199.0" r="4.6"/><circle cx="212.3" cy="1198.9" r="4.6"/><circle cx="216.3" cy="1198.5" r="4.6"/><circle cx="219.1" cy="1198.8" r="4.6"/><circle cx="224.8" cy="1198.8" r="4.6"/><circle cx="227.8" cy="1199.0" r="4.6"/><circle cx="231.7" cy="1199.5" r="4.6"/><circle cx="236.2" cy="1198.9" r="4.6"/><circle cx="240.3" cy="1199.3" r="4.6"/><circle cx="245.8" cy="1199.6" r="4.6"/><circle cx="249.4" cy="1198.3" r="4.6"/><circle cx="253.7" cy="1198.1" r="4.6"/><circle cx="258.1" cy="1198.5" r="4.6"/><circle cx="262.5" cy="1198.9" r="4.6"/><circle cx="266.6" cy="1198.3" r="4.6"/><circle cx="269.9" cy="1198.2" r="4.6"/><circle cx="275.1" cy="1198.4" r="4.6"/><circle cx="278.6" cy="1199.3" r="4.6"/><circle cx="179.8" cy="1203.2" r="4.6"/><circle cx="183.9" cy="1202.7" r="4.6"/><circle cx="189.2" cy="1202.0" r="4.6"/><circle cx="192.6" cy="1202.2" r="4.6"/><circle cx="196.9" cy="1202.6" r="4.6"/><circle cx="201.4" cy="1202.2" r="4.6"/><circle cx="204.8" cy="1202.9" r="4.6"/><circle cx="209.3" cy="1203.0" r="4.6"/><circle cx="213.9" cy="1202.0" r="4.6"/><circle cx="217.2" cy="1203.1" r="4.6"/><circle cx="221.5" cy="1202.0" r="4.6"/><circle cx="226.6" cy="1202.9" r="4.6"/><circle cx="230.2" cy="1203.2" r="4.6"/><circle cx="235.3" cy="1201.9" r="4.6"/><circle cx="238.6" cy="1202.9" r="4.6"/><circle cx="243.4" cy="1202.3" r="4.6"/><circle cx="247.0" cy="1202.6" r="4.6"/><circle cx="251.7" cy="1202.8" r="4.6"/><circle cx="256.0" cy="1202.5" r="4.6"/><circle cx="259.6" cy="1202.5" r="4.6"/><circle cx="263.3" cy="1202.7" r="4.6"/><circle cx="268.9" cy="1201.8" r="4.6"/><circle cx="272.7" cy="1202.4" r="4.6"/><circle cx="277.3" cy="1202.3" r="4.6"/><circle cx="280.0" cy="1202.3" r="4.6"/><circle cx="178.4" cy="1205.6" r="4.6"/><circle cx="181.5" cy="1205.4" r="4.6"/><circle cx="186.3" cy="1206.2" r="4.6"/><circle cx="190.7" cy="1206.4" r="4.6"/><circle cx="194.1" cy="1206.2" r="4.6"/><circle cx="199.0" cy="1206.2" r="4.6"/><circle cx="203.6" cy="1206.2" r="4.6"/><circle cx="208.0" cy="1205.9" r="4.6"/><circle cx="211.8" cy="1205.7" r="4.6"/><circle cx="216.5" cy="1206.2" r="4.6"/><circle cx="220.5" cy="1206.4" r="4.6"/><circle cx="223.6" cy="1205.6" r="4.6"/><circle cx="228.0" cy="1206.7" r="4.6"/><circle cx="233.2" cy="1205.8" r="4.6"/><circle cx="236.0" cy="1206.1" r="4.6"/><circle cx="240.8" cy="1206.7" r="4.6"/><circle cx="245.7" cy="1205.8" r="4.6"/><circle cx="249.6" cy="1206.3" r="4.6"/><circle cx="253.0" cy="1206.7" r="4.6"/><circle cx="258.1" cy="1205.9" r="4.6"/><circle cx="261.4" cy="1205.7" r="4.6"/><circle cx="266.0" cy="1206.6" r="4.6"/><circle cx="270.6" cy="1205.5" r="4.6"/><circle cx="274.1" cy="1206.4" r="4.6"/><circle cx="279.4" cy="1206.0" r="4.6"/><circle cx="282.2" cy="1205.4" r="4.6"/><circle cx="176.5" cy="1209.1" r="4.6"/><circle cx="179.4" cy="1209.0" r="4.6"/><circle cx="184.1" cy="1209.5" r="4.6"/><circle cx="188.0" cy="1208.9" r="4.6"/><circle cx="192.8" cy="1208.9" r="4.6"/><circle cx="196.6" cy="1209.0" r="4.6"/><circle cx="201.3" cy="1210.4" r="4.6"/><circle cx="205.4" cy="1209.9" r="4.6"/><circle cx="210.1" cy="1208.9" r="4.6"/><circle cx="214.4" cy="1209.1" r="4.6"/><circle cx="218.6" cy="1209.8" r="4.6"/><circle cx="221.2" cy="1210.0" r="4.6"/><circle cx="226.7" cy="1209.5" r="4.6"/><circle cx="230.7" cy="1210.0" r="4.6"/><circle cx="233.8" cy="1209.2" r="4.6"/><circle cx="238.2" cy="1209.0" r="4.6"/><circle cx="243.4" cy="1210.3" r="4.6"/><circle cx="247.6" cy="1209.0" r="4.6"/><circle cx="251.6" cy="1209.3" r="4.6"/><circle cx="255.0" cy="1209.9" r="4.6"/><circle cx="259.4" cy="1209.9" r="4.6"/><circle cx="264.3" cy="1210.2" r="4.6"/><circle cx="268.5" cy="1209.6" r="4.6"/><circle cx="271.9" cy="1209.6" r="4.6"/><circle cx="275.9" cy="1209.0" r="4.6"/><circle cx="281.3" cy="1209.3" r="4.6"/><circle cx="284.7" cy="1209.7" r="4.6"/><circle cx="173.2" cy="1212.7" r="4.6"/><circle cx="178.7" cy="1213.3" r="4.6"/><circle cx="182.6" cy="1213.6" r="4.6"/><circle cx="185.8" cy="1213.1" r="4.6"/><circle cx="190.3" cy="1214.0" r="4.6"/><circle cx="195.0" cy="1213.1" r="4.6"/><circle cx="199.2" cy="1214.0" r="4.6"/><circle cx="203.4" cy="1213.2" r="4.6"/><circle cx="206.8" cy="1212.9" r="4.6"/><circle cx="212.1" cy="1213.1" r="4.6"/><circle cx="215.4" cy="1212.9" r="4.6"/><circle cx="219.8" cy="1213.5" r="4.6"/><circle cx="224.2" cy="1212.7" r="4.6"/><circle cx="229.0" cy="1213.2" r="4.6"/><circle cx="232.4" cy="1213.0" r="4.6"/><circle cx="236.3" cy="1213.0" r="4.6"/><circle cx="240.7" cy="1213.4" r="4.6"/><circle cx="244.8" cy="1214.1" r="4.6"/><circle cx="249.0" cy="1212.8" r="4.6"/><circle cx="253.7" cy="1212.9" r="4.6"/><circle cx="257.9" cy="1213.2" r="4.6"/><circle cx="262.3" cy="1213.7" r="4.6"/><circle cx="266.9" cy="1214.1" r="4.6"/><circle cx="270.7" cy="1212.6" r="4.6"/><circle cx="274.0" cy="1214.1" r="4.6"/><circle cx="279.2" cy="1214.0" r="4.6"/><circle cx="282.5" cy="1213.9" r="4.6"/><circle cx="286.8" cy="1213.0" r="4.6"/><circle cx="171.0" cy="1216.9" r="4.6"/><circle cx="176.2" cy="1217.0" r="4.6"/><circle cx="179.8" cy="1216.9" r="4.6"/><circle cx="184.3" cy="1217.6" r="4.6"/><circle cx="188.0" cy="1216.5" r="4.6"/><circle cx="192.9" cy="1217.6" r="4.6"/><circle cx="196.4" cy="1216.7" r="4.6"/><circle cx="201.1" cy="1217.2" r="4.6"/><circle cx="205.0" cy="1217.5" r="4.6"/><circle cx="209.8" cy="1216.6" r="4.6"/><circle cx="213.1" cy="1217.1" r="4.6"/><circle cx="218.2" cy="1217.5" r="4.6"/><circle cx="221.8" cy="1216.9" r="4.6"/><circle cx="225.5" cy="1217.6" r="4.6"/><circle cx="230.6" cy="1216.9" r="4.6"/><circle cx="234.3" cy="1216.2" r="4.6"/><circle cx="239.4" cy="1216.5" r="4.6"/><circle cx="242.3" cy="1216.9" r="4.6"/><circle cx="246.8" cy="1217.7" r="4.6"/><circle cx="250.9" cy="1216.4" r="4.6"/><circle cx="255.8" cy="1216.5" r="4.6"/><circle cx="259.7" cy="1217.7" r="4.6"/><circle cx="263.7" cy="1216.8" r="4.6"/><circle cx="268.2" cy="1217.2" r="4.6"/><circle cx="271.6" cy="1216.5" r="4.6"/><circle cx="277.1" cy="1216.9" r="4.6"/><circle cx="281.0" cy="1217.6" r="4.6"/><circle cx="285.1" cy="1217.1" r="4.6"/><circle cx="289.6" cy="1216.3" r="4.6"/><circle cx="173.2" cy="1219.9" r="4.6"/><circle cx="178.3" cy="1221.1" r="4.6"/><circle cx="182.0" cy="1221.4" r="4.6"/><circle cx="186.8" cy="1220.4" r="4.6"/><circle cx="189.9" cy="1221.0" r="4.6"/><circle cx="195.0" cy="1221.1" r="4.6"/><circle cx="198.6" cy="1219.9" r="4.6"/><circle cx="202.3" cy="1220.8" r="4.6"/><circle cx="206.9" cy="1220.1" r="4.6"/><circle cx="211.9" cy="1220.7" r="4.6"/><circle cx="215.8" cy="1220.5" r="4.6"/><circle cx="219.6" cy="1219.9" r="4.6"/><circle cx="224.7" cy="1220.1" r="4.6"/><circle cx="228.2" cy="1220.5" r="4.6"/><circle cx="233.0" cy="1220.1" r="4.6"/><circle cx="237.2" cy="1219.9" r="4.6"/><circle cx="240.9" cy="1220.6" r="4.6"/><circle cx="244.9" cy="1220.2" r="4.6"/><circle cx="249.2" cy="1220.2" r="4.6"/><circle cx="253.6" cy="1220.5" r="4.6"/><circle cx="258.1" cy="1221.2" r="4.6"/><circle cx="262.4" cy="1220.1" r="4.6"/><circle cx="265.9" cy="1220.1" r="4.6"/><circle cx="269.9" cy="1221.0" r="4.6"/><circle cx="274.9" cy="1221.0" r="4.6"/><circle cx="279.1" cy="1221.0" r="4.6"/><circle cx="283.0" cy="1220.1" r="4.6"/><circle cx="286.5" cy="1220.8" r="4.6"/><circle cx="175.4" cy="1224.6" r="4.6"/><circle cx="179.9" cy="1224.8" r="4.6"/><circle cx="184.7" cy="1223.6" r="4.6"/><circle cx="187.9" cy="1224.5" r="4.6"/><circle cx="192.5" cy="1223.6" r="4.6"/><circle cx="197.0" cy="1224.3" r="4.6"/><circle cx="201.0" cy="1223.5" r="4.6"/><circle cx="205.4" cy="1224.6" r="4.6"/><circle cx="209.7" cy="1224.2" r="4.6"/><circle cx="213.5" cy="1224.7" r="4.6"/><circle cx="217.3" cy="1224.3" r="4.6"/><circle cx="222.2" cy="1223.8" r="4.6"/><circle cx="225.5" cy="1224.4" r="4.6"/><circle cx="229.8" cy="1224.3" r="4.6"/><circle cx="234.4" cy="1223.8" r="4.6"/><circle cx="238.1" cy="1224.4" r="4.6"/><circle cx="243.5" cy="1223.6" r="4.6"/><circle cx="246.7" cy="1223.9" r="4.6"/><circle cx="251.4" cy="1223.7" r="4.6"/><circle cx="255.2" cy="1223.8" r="4.6"/><circle cx="260.6" cy="1224.5" r="4.6"/><circle cx="264.6" cy="1223.9" r="4.6"/><circle cx="268.3" cy="1223.9" r="4.6"/><circle cx="272.5" cy="1224.8" r="4.6"/><circle cx="276.7" cy="1224.2" r="4.6"/><circle cx="280.1" cy="1225.0" r="4.6"/><circle cx="284.3" cy="1223.7" r="4.6"/><circle cx="177.2" cy="1227.9" r="4.6"/><circle cx="182.1" cy="1228.3" r="4.6"/><circle cx="186.7" cy="1228.3" r="4.6"/><circle cx="191.1" cy="1228.6" r="4.6"/><circle cx="193.9" cy="1227.4" r="4.6"/><circle cx="199.6" cy="1228.5" r="4.6"/><circle cx="202.5" cy="1227.9" r="4.6"/><circle cx="206.9" cy="1227.9" r="4.6"/><circle cx="210.8" cy="1228.2" r="4.6"/><circle cx="216.5" cy="1228.1" r="4.6"/><circle cx="219.8" cy="1228.3" r="4.6"/><circle cx="224.7" cy="1228.2" r="4.6"/><circle cx="228.3" cy="1227.6" r="4.6"/><circle cx="231.9" cy="1227.4" r="4.6"/><circle cx="236.1" cy="1228.5" r="4.6"/><circle cx="240.4" cy="1228.0" r="4.6"/><circle cx="244.5" cy="1228.6" r="4.6"/><circle cx="250.0" cy="1228.3" r="4.6"/><circle cx="254.2" cy="1228.5" r="4.6"/><circle cx="257.7" cy="1227.6" r="4.6"/><circle cx="262.0" cy="1227.3" r="4.6"/><circle cx="266.7" cy="1227.3" r="4.6"/><circle cx="270.1" cy="1227.3" r="4.6"/><circle cx="275.1" cy="1227.9" r="4.6"/><circle cx="278.7" cy="1227.6" r="4.6"/><circle cx="283.6" cy="1227.2" r="4.6"/><circle cx="184.5" cy="1232.1" r="4.6"/><circle cx="188.9" cy="1232.1" r="4.6"/><circle cx="193.2" cy="1231.6" r="4.6"/><circle cx="196.3" cy="1231.2" r="4.6"/><circle cx="201.7" cy="1232.3" r="4.6"/><circle cx="205.4" cy="1231.3" r="4.6"/><circle cx="210.1" cy="1230.8" r="4.6"/><circle cx="213.5" cy="1231.5" r="4.6"/><circle cx="217.7" cy="1231.3" r="4.6"/><circle cx="221.2" cy="1232.1" r="4.6"/><circle cx="226.5" cy="1231.8" r="4.6"/><circle cx="231.2" cy="1232.0" r="4.6"/><circle cx="234.1" cy="1232.3" r="4.6"/><circle cx="239.2" cy="1231.1" r="4.6"/><circle cx="243.1" cy="1232.0" r="4.6"/><circle cx="247.6" cy="1231.3" r="4.6"/><circle cx="250.6" cy="1232.3" r="4.6"/><circle cx="256.1" cy="1231.4" r="4.6"/><circle cx="259.5" cy="1232.1" r="4.6"/><circle cx="264.7" cy="1231.4" r="4.6"/><circle cx="268.3" cy="1232.2" r="4.6"/><circle cx="272.9" cy="1232.3" r="4.6"/><circle cx="275.9" cy="1231.0" r="4.6"/><circle cx="193.9" cy="1235.9" r="4.6"/><circle cx="199.0" cy="1235.2" r="4.6"/><circle cx="202.3" cy="1234.7" r="4.6"/><circle cx="206.9" cy="1234.4" r="4.6"/><circle cx="212.1" cy="1234.4" r="4.6"/><circle cx="215.6" cy="1234.7" r="4.6"/><circle cx="220.5" cy="1235.6" r="4.6"/><circle cx="224.5" cy="1235.0" r="4.6"/><circle cx="228.9" cy="1235.0" r="4.6"/><circle cx="232.4" cy="1235.5" r="4.6"/><circle cx="237.0" cy="1235.6" r="4.6"/><circle cx="241.7" cy="1235.2" r="4.6"/><circle cx="245.5" cy="1234.6" r="4.6"/><circle cx="248.7" cy="1235.2" r="4.6"/><circle cx="253.9" cy="1235.0" r="4.6"/><circle cx="258.4" cy="1235.2" r="4.6"/><circle cx="262.6" cy="1235.1" r="4.6"/><circle cx="266.1" cy="1235.6" r="4.6"/><circle cx="206.0" cy="1239.4" r="4.6"/><circle cx="209.9" cy="1238.4" r="4.6"/><circle cx="214.3" cy="1239.6" r="4.6"/><circle cx="218.1" cy="1238.2" r="4.6"/><circle cx="221.3" cy="1239.0" r="4.6"/><circle cx="225.8" cy="1239.4" r="4.6"/><circle cx="230.7" cy="1238.1" r="4.6"/><circle cx="234.3" cy="1238.1" r="4.6"/><circle cx="239.4" cy="1238.7" r="4.6"/><circle cx="243.8" cy="1239.1" r="4.6"/><circle cx="247.7" cy="1238.2" r="4.6"/><circle cx="251.4" cy="1239.2" r="4.6"/><circle cx="255.4" cy="1239.2" r="4.6"/></g>
<g filter="url(#bl)"><circle cx="230.4" cy="780.0" r="4.6" fill="rgba(0,0,0,0.068)"/><circle cx="230.4" cy="790.0" r="4.6" fill="rgba(0,0,0,0.088)"/><circle cx="230.4" cy="802.0" r="4.6" fill="rgba(0,0,0,0.132)"/><circle cx="230.4" cy="810.0" r="4.6" fill="rgba(0,0,0,0.069)"/><circle cx="230.4" cy="835.0" r="4.6" fill="rgba(0,0,0,0.140)"/><circle cx="230.4" cy="846.0" r="4.6" fill="rgba(0,0,0,0.128)"/><circle cx="230.4" cy="855.0" r="4.6" fill="rgba(0,0,0,0.121)"/><circle cx="230.4" cy="865.0" r="4.6" fill="rgba(0,0,0,0.148)"/><circle cx="230.4" cy="880.0" r="4.6" fill="rgba(0,0,0,0.133)"/><circle cx="230.4" cy="892.0" r="4.6" fill="rgba(0,0,0,0.073)"/><circle cx="230.4" cy="905.0" r="4.6" fill="rgba(0,0,0,0.081)"/><circle cx="230.4" cy="917.5" r="4.6" fill="rgba(0,0,0,0.120)"/></g>
<rect x="174.90" y="1090.90" width="110.80" height="108.50" fill="#f25430" stroke="none" stroke-width="1" fill-opacity="0.2"/>
<line x1="230.40" y1="929.00" x2="230.40" y2="1090.90" stroke="#222" stroke-width="1.0" />
<line x1="230.40" y1="1199.40" x2="230.40" y2="1237.50" stroke="#222" stroke-width="1.0" />
<rect x="174.90" y="1090.90" width="110.80" height="108.50" fill="none" stroke="#5a0e00" stroke-width="1.15" />
<line x1="174.90" y1="1156.60" x2="285.70" y2="1156.60" stroke="#5a0e00" stroke-width="1.8" />
<rect x="333.40" y="1126.40" width="111.20" height="79.10" fill="#8fc98a" stroke="none" stroke-width="1" />
<g fill="rgba(0,0,0,0.072)" filter="url(#bl)"><circle cx="389.8" cy="1004.8" r="4.6"/><circle cx="387.2" cy="1009.4" r="4.6"/><circle cx="391.7" cy="1009.1" r="4.6"/><circle cx="386.5" cy="1013.0" r="4.6"/><circle cx="391.5" cy="1012.4" r="4.6"/><circle cx="386.4" cy="1015.7" r="4.6"/><circle cx="391.6" cy="1015.8" r="4.6"/><circle cx="389.3" cy="1019.9" r="4.6"/><circle cx="387.2" cy="1022.5" r="4.6"/><circle cx="391.4" cy="1023.6" r="4.6"/><circle cx="389.9" cy="1026.2" r="4.6"/><circle cx="387.7" cy="1030.4" r="4.6"/><circle cx="391.2" cy="1031.3" r="4.6"/><circle cx="388.7" cy="1034.4" r="4.6"/><circle cx="386.6" cy="1038.2" r="4.6"/><circle cx="390.6" cy="1037.8" r="4.6"/><circle cx="388.7" cy="1041.1" r="4.6"/><circle cx="386.4" cy="1044.6" r="4.6"/><circle cx="391.6" cy="1045.5" r="4.6"/><circle cx="389.5" cy="1048.4" r="4.6"/><circle cx="387.1" cy="1052.3" r="4.6"/><circle cx="391.0" cy="1052.2" r="4.6"/><circle cx="390.0" cy="1055.9" r="4.6"/><circle cx="386.9" cy="1059.9" r="4.6"/><circle cx="391.9" cy="1058.8" r="4.6"/><circle cx="388.9" cy="1063.7" r="4.6"/><circle cx="387.0" cy="1066.0" r="4.6"/><circle cx="391.2" cy="1066.6" r="4.6"/><circle cx="389.4" cy="1070.2" r="4.6"/><circle cx="387.9" cy="1074.2" r="4.6"/><circle cx="390.7" cy="1074.1" r="4.6"/><circle cx="384.8" cy="1077.0" r="4.6"/><circle cx="388.6" cy="1078.2" r="4.6"/><circle cx="393.3" cy="1077.3" r="4.6"/><circle cx="387.3" cy="1081.6" r="4.6"/><circle cx="390.9" cy="1080.8" r="4.6"/><circle cx="385.0" cy="1084.8" r="4.6"/><circle cx="389.0" cy="1084.8" r="4.6"/><circle cx="393.1" cy="1085.1" r="4.6"/><circle cx="382.8" cy="1089.1" r="4.6"/><circle cx="387.4" cy="1089.1" r="4.6"/><circle cx="391.0" cy="1088.2" r="4.6"/><circle cx="395.5" cy="1088.1" r="4.6"/><circle cx="384.5" cy="1091.9" r="4.6"/><circle cx="388.5" cy="1091.9" r="4.6"/><circle cx="393.6" cy="1092.5" r="4.6"/><circle cx="383.0" cy="1096.3" r="4.6"/><circle cx="387.6" cy="1095.7" r="4.6"/><circle cx="391.8" cy="1096.5" r="4.6"/><circle cx="395.6" cy="1096.2" r="4.6"/><circle cx="380.5" cy="1099.4" r="4.6"/><circle cx="384.4" cy="1099.1" r="4.6"/><circle cx="389.6" cy="1099.7" r="4.6"/><circle cx="393.6" cy="1100.3" r="4.6"/><circle cx="397.0" cy="1099.0" r="4.6"/><circle cx="378.6" cy="1102.8" r="4.6"/><circle cx="383.0" cy="1103.7" r="4.6"/><circle cx="387.3" cy="1102.7" r="4.6"/><circle cx="391.1" cy="1102.9" r="4.6"/><circle cx="395.8" cy="1102.8" r="4.6"/><circle cx="400.1" cy="1102.8" r="4.6"/><circle cx="380.1" cy="1107.5" r="4.6"/><circle cx="385.0" cy="1107.2" r="4.6"/><circle cx="389.4" cy="1107.6" r="4.6"/><circle cx="392.9" cy="1106.7" r="4.6"/><circle cx="397.6" cy="1107.1" r="4.6"/><circle cx="379.1" cy="1109.8" r="4.6"/><circle cx="383.0" cy="1111.2" r="4.6"/><circle cx="387.7" cy="1110.0" r="4.6"/><circle cx="391.5" cy="1110.4" r="4.6"/><circle cx="395.4" cy="1109.7" r="4.6"/><circle cx="398.9" cy="1110.5" r="4.6"/><circle cx="376.4" cy="1114.2" r="4.6"/><circle cx="380.3" cy="1114.7" r="4.6"/><circle cx="384.2" cy="1114.5" r="4.6"/><circle cx="389.6" cy="1114.2" r="4.6"/><circle cx="394.2" cy="1113.3" r="4.6"/><circle cx="397.0" cy="1113.7" r="4.6"/><circle cx="401.7" cy="1114.6" r="4.6"/><circle cx="374.7" cy="1117.6" r="4.6"/><circle cx="378.5" cy="1118.1" r="4.6"/><circle cx="383.1" cy="1118.2" r="4.6"/><circle cx="386.4" cy="1117.0" r="4.6"/><circle cx="391.1" cy="1117.7" r="4.6"/><circle cx="395.9" cy="1117.9" r="4.6"/><circle cx="399.2" cy="1118.4" r="4.6"/><circle cx="403.4" cy="1117.3" r="4.6"/><circle cx="376.0" cy="1120.9" r="4.6"/><circle cx="381.1" cy="1121.5" r="4.6"/><circle cx="385.3" cy="1120.9" r="4.6"/><circle cx="389.2" cy="1121.9" r="4.6"/><circle cx="393.5" cy="1122.0" r="4.6"/><circle cx="396.9" cy="1121.0" r="4.6"/><circle cx="401.5" cy="1122.0" r="4.6"/><circle cx="374.9" cy="1124.8" r="4.6"/><circle cx="378.6" cy="1125.6" r="4.6"/><circle cx="382.2" cy="1124.5" r="4.6"/><circle cx="386.8" cy="1125.1" r="4.6"/><circle cx="390.8" cy="1124.5" r="4.6"/><circle cx="396.2" cy="1124.4" r="4.6"/><circle cx="399.7" cy="1125.1" r="4.6"/><circle cx="403.2" cy="1125.8" r="4.6"/><circle cx="371.9" cy="1128.0" r="4.6"/><circle cx="377.0" cy="1128.8" r="4.6"/><circle cx="381.4" cy="1129.2" r="4.6"/><circle cx="385.6" cy="1128.8" r="4.6"/><circle cx="388.7" cy="1129.2" r="4.6"/><circle cx="393.0" cy="1128.3" r="4.6"/><circle cx="397.0" cy="1128.3" r="4.6"/><circle cx="401.9" cy="1128.3" r="4.6"/><circle cx="405.5" cy="1129.3" r="4.6"/><circle cx="369.6" cy="1131.8" r="4.6"/><circle cx="374.8" cy="1132.7" r="4.6"/><circle cx="378.8" cy="1133.0" r="4.6"/><circle cx="383.6" cy="1132.5" r="4.6"/><circle cx="387.1" cy="1132.4" r="4.6"/><circle cx="391.3" cy="1133.1" r="4.6"/><circle cx="396.1" cy="1132.4" r="4.6"/><circle cx="400.2" cy="1132.9" r="4.6"/><circle cx="403.5" cy="1131.9" r="4.6"/><circle cx="408.7" cy="1132.8" r="4.6"/><circle cx="372.1" cy="1136.2" r="4.6"/><circle cx="377.1" cy="1136.4" r="4.6"/><circle cx="381.6" cy="1136.4" r="4.6"/><circle cx="384.6" cy="1136.7" r="4.6"/><circle cx="389.2" cy="1135.4" r="4.6"/><circle cx="393.4" cy="1136.1" r="4.6"/><circle cx="397.6" cy="1135.6" r="4.6"/><circle cx="402.6" cy="1135.2" r="4.6"/><circle cx="406.0" cy="1135.6" r="4.6"/><circle cx="371.0" cy="1139.8" r="4.6"/><circle cx="374.7" cy="1140.1" r="4.6"/><circle cx="377.9" cy="1138.8" r="4.6"/><circle cx="382.6" cy="1140.3" r="4.6"/><circle cx="387.5" cy="1139.2" r="4.6"/><circle cx="390.7" cy="1139.4" r="4.6"/><circle cx="395.5" cy="1139.9" r="4.6"/><circle cx="399.1" cy="1140.1" r="4.6"/><circle cx="404.2" cy="1139.2" r="4.6"/><circle cx="407.4" cy="1139.4" r="4.6"/><circle cx="368.4" cy="1143.4" r="4.6"/><circle cx="371.9" cy="1143.8" r="4.6"/><circle cx="377.2" cy="1143.6" r="4.6"/><circle cx="380.3" cy="1142.7" r="4.6"/><circle cx="385.2" cy="1143.5" r="4.6"/><circle cx="389.2" cy="1143.7" r="4.6"/><circle cx="393.6" cy="1143.7" r="4.6"/><circle cx="397.0" cy="1142.5" r="4.6"/><circle cx="401.6" cy="1143.7" r="4.6"/><circle cx="405.5" cy="1143.4" r="4.6"/><circle cx="409.4" cy="1142.5" r="4.6"/><circle cx="365.7" cy="1146.8" r="4.6"/><circle cx="370.1" cy="1147.4" r="4.6"/><circle cx="374.5" cy="1146.3" r="4.6"/><circle cx="379.3" cy="1147.1" r="4.6"/><circle cx="382.6" cy="1147.6" r="4.6"/><circle cx="387.2" cy="1146.8" r="4.6"/><circle cx="391.2" cy="1146.2" r="4.6"/><circle cx="395.6" cy="1146.8" r="4.6"/><circle cx="399.1" cy="1146.7" r="4.6"/><circle cx="403.5" cy="1146.6" r="4.6"/><circle cx="408.5" cy="1147.3" r="4.6"/><circle cx="412.1" cy="1146.8" r="4.6"/><circle cx="367.5" cy="1150.3" r="4.6"/><circle cx="372.1" cy="1151.0" r="4.6"/><circle cx="376.9" cy="1149.7" r="4.6"/><circle cx="381.3" cy="1150.2" r="4.6"/><circle cx="385.2" cy="1151.1" r="4.6"/><circle cx="389.9" cy="1150.4" r="4.6"/><circle cx="394.1" cy="1151.0" r="4.6"/><circle cx="398.3" cy="1150.2" r="4.6"/><circle cx="401.8" cy="1151.0" r="4.6"/><circle cx="405.8" cy="1149.9" r="4.6"/><circle cx="409.8" cy="1150.5" r="4.6"/><circle cx="365.9" cy="1153.8" r="4.6"/><circle cx="369.7" cy="1154.2" r="4.6"/><circle cx="374.9" cy="1154.7" r="4.6"/><circle cx="379.5" cy="1154.6" r="4.6"/><circle cx="382.7" cy="1153.8" r="4.6"/><circle cx="387.7" cy="1154.8" r="4.6"/><circle cx="392.1" cy="1154.9" r="4.6"/><circle cx="396.2" cy="1153.8" r="4.6"/><circle cx="400.3" cy="1154.7" r="4.6"/><circle cx="404.6" cy="1154.4" r="4.6"/><circle cx="408.6" cy="1153.3" r="4.6"/><circle cx="412.3" cy="1154.7" r="4.6"/><circle cx="364.1" cy="1158.3" r="4.6"/><circle cx="368.1" cy="1157.3" r="4.6"/><circle cx="372.3" cy="1157.0" r="4.6"/><circle cx="376.6" cy="1157.6" r="4.6"/><circle cx="380.0" cy="1157.6" r="4.6"/><circle cx="385.8" cy="1158.0" r="4.6"/><circle cx="388.8" cy="1157.4" r="4.6"/><circle cx="393.3" cy="1158.0" r="4.6"/><circle cx="397.5" cy="1157.0" r="4.6"/><circle cx="402.5" cy="1157.8" r="4.6"/><circle cx="406.1" cy="1158.3" r="4.6"/><circle cx="410.2" cy="1158.1" r="4.6"/><circle cx="414.7" cy="1157.6" r="4.6"/><circle cx="362.7" cy="1161.5" r="4.6"/><circle cx="366.3" cy="1160.7" r="4.6"/><circle cx="370.6" cy="1161.6" r="4.6"/><circle cx="375.1" cy="1162.1" r="4.6"/><circle cx="379.4" cy="1162.1" r="4.6"/><circle cx="382.9" cy="1161.1" r="4.6"/><circle cx="386.7" cy="1161.5" r="4.6"/><circle cx="390.8" cy="1161.1" r="4.6"/><circle cx="395.5" cy="1161.8" r="4.6"/><circle cx="400.0" cy="1160.9" r="4.6"/><circle cx="403.8" cy="1162.0" r="4.6"/><circle cx="407.3" cy="1162.0" r="4.6"/><circle cx="412.0" cy="1161.2" r="4.6"/><circle cx="417.2" cy="1161.8" r="4.6"/><circle cx="364.4" cy="1165.2" r="4.6"/><circle cx="368.1" cy="1164.7" r="4.6"/><circle cx="372.8" cy="1165.2" r="4.6"/><circle cx="377.0" cy="1165.6" r="4.6"/><circle cx="380.9" cy="1164.4" r="4.6"/><circle cx="384.7" cy="1164.9" r="4.6"/><circle cx="388.4" cy="1164.3" r="4.6"/><circle cx="393.5" cy="1164.9" r="4.6"/><circle cx="397.1" cy="1165.0" r="4.6"/><circle cx="401.7" cy="1164.9" r="4.6"/><circle cx="405.7" cy="1165.1" r="4.6"/><circle cx="410.6" cy="1165.0" r="4.6"/><circle cx="414.7" cy="1165.1" r="4.6"/><circle cx="361.2" cy="1169.1" r="4.6"/><circle cx="366.5" cy="1168.1" r="4.6"/><circle cx="369.9" cy="1169.4" r="4.6"/><circle cx="375.0" cy="1169.2" r="4.6"/><circle cx="379.4" cy="1168.8" r="4.6"/><circle cx="382.7" cy="1168.7" r="4.6"/><circle cx="387.1" cy="1169.5" r="4.6"/><circle cx="391.4" cy="1168.3" r="4.6"/><circle cx="395.0" cy="1168.0" r="4.6"/><circle cx="399.5" cy="1169.5" r="4.6"/><circle cx="403.6" cy="1168.0" r="4.6"/><circle cx="408.8" cy="1167.9" r="4.6"/><circle cx="411.6" cy="1168.4" r="4.6"/><circle cx="416.0" cy="1169.2" r="4.6"/><circle cx="359.7" cy="1171.9" r="4.6"/><circle cx="363.6" cy="1172.5" r="4.6"/><circle cx="368.8" cy="1173.0" r="4.6"/><circle cx="372.2" cy="1171.7" r="4.6"/><circle cx="377.3" cy="1172.7" r="4.6"/><circle cx="381.0" cy="1172.2" r="4.6"/><circle cx="384.8" cy="1172.3" r="4.6"/><circle cx="388.7" cy="1172.6" r="4.6"/><circle cx="393.4" cy="1172.0" r="4.6"/><circle cx="397.1" cy="1172.0" r="4.6"/><circle cx="401.1" cy="1171.9" r="4.6"/><circle cx="406.2" cy="1171.8" r="4.6"/><circle cx="411.0" cy="1171.6" r="4.6"/><circle cx="414.0" cy="1172.0" r="4.6"/><circle cx="418.2" cy="1172.1" r="4.6"/><circle cx="357.2" cy="1175.3" r="4.6"/><circle cx="361.3" cy="1176.7" r="4.6"/><circle cx="366.7" cy="1176.7" r="4.6"/><circle cx="369.6" cy="1175.3" r="4.6"/><circle cx="374.5" cy="1176.4" r="4.6"/><circle cx="378.9" cy="1175.5" r="4.6"/><circle cx="382.3" cy="1175.2" r="4.6"/><circle cx="387.7" cy="1176.1" r="4.6"/><circle cx="390.9" cy="1176.1" r="4.6"/><circle cx="396.2" cy="1175.4" r="4.6"/><circle cx="399.2" cy="1175.3" r="4.6"/><circle cx="403.4" cy="1176.7" r="4.6"/><circle cx="407.6" cy="1176.3" r="4.6"/><circle cx="413.0" cy="1175.8" r="4.6"/><circle cx="416.4" cy="1176.6" r="4.6"/><circle cx="421.4" cy="1175.5" r="4.6"/><circle cx="355.6" cy="1179.3" r="4.6"/><circle cx="360.3" cy="1178.8" r="4.6"/><circle cx="364.6" cy="1179.4" r="4.6"/><circle cx="368.4" cy="1180.0" r="4.6"/><circle cx="371.9" cy="1179.2" r="4.6"/><circle cx="376.7" cy="1180.1" r="4.6"/><circle cx="380.9" cy="1179.6" r="4.6"/><circle cx="385.1" cy="1180.2" r="4.6"/><circle cx="388.9" cy="1179.4" r="4.6"/><circle cx="393.8" cy="1179.0" r="4.6"/><circle cx="397.8" cy="1179.9" r="4.6"/><circle cx="402.1" cy="1179.1" r="4.6"/><circle cx="405.9" cy="1179.8" r="4.6"/><circle cx="409.8" cy="1180.0" r="4.6"/><circle cx="415.0" cy="1179.6" r="4.6"/><circle cx="417.9" cy="1178.8" r="4.6"/><circle cx="422.9" cy="1179.7" r="4.6"/><circle cx="357.4" cy="1182.8" r="4.6"/><circle cx="362.4" cy="1183.3" r="4.6"/><circle cx="366.7" cy="1183.4" r="4.6"/><circle cx="370.7" cy="1183.0" r="4.6"/><circle cx="375.2" cy="1183.0" r="4.6"/><circle cx="378.9" cy="1182.8" r="4.6"/><circle cx="382.3" cy="1184.0" r="4.6"/><circle cx="387.1" cy="1183.7" r="4.6"/><circle cx="390.7" cy="1183.1" r="4.6"/><circle cx="395.2" cy="1183.0" r="4.6"/><circle cx="400.1" cy="1183.0" r="4.6"/><circle cx="403.8" cy="1183.6" r="4.6"/><circle cx="407.8" cy="1183.6" r="4.6"/><circle cx="412.9" cy="1182.7" r="4.6"/><circle cx="416.9" cy="1183.6" r="4.6"/><circle cx="420.1" cy="1184.0" r="4.6"/><circle cx="356.2" cy="1186.5" r="4.6"/><circle cx="359.5" cy="1186.7" r="4.6"/><circle cx="363.7" cy="1186.2" r="4.6"/><circle cx="368.6" cy="1187.2" r="4.6"/><circle cx="372.8" cy="1187.2" r="4.6"/><circle cx="376.9" cy="1187.2" r="4.6"/><circle cx="381.3" cy="1186.2" r="4.6"/><circle cx="385.6" cy="1186.7" r="4.6"/><circle cx="389.1" cy="1186.3" r="4.6"/><circle cx="394.0" cy="1186.6" r="4.6"/><circle cx="398.1" cy="1187.2" r="4.6"/><circle cx="401.9" cy="1186.5" r="4.6"/><circle cx="406.7" cy="1187.6" r="4.6"/><circle cx="410.5" cy="1187.5" r="4.6"/><circle cx="414.6" cy="1186.7" r="4.6"/><circle cx="419.2" cy="1187.1" r="4.6"/><circle cx="422.7" cy="1186.3" r="4.6"/><circle cx="354.1" cy="1190.6" r="4.6"/><circle cx="357.7" cy="1189.9" r="4.6"/><circle cx="362.6" cy="1190.5" r="4.6"/><circle cx="366.2" cy="1190.3" r="4.6"/><circle cx="369.6" cy="1190.9" r="4.6"/><circle cx="374.6" cy="1189.7" r="4.6"/><circle cx="379.1" cy="1190.5" r="4.6"/><circle cx="383.6" cy="1189.7" r="4.6"/><circle cx="386.5" cy="1190.9" r="4.6"/><circle cx="390.7" cy="1190.2" r="4.6"/><circle cx="395.5" cy="1190.5" r="4.6"/><circle cx="400.2" cy="1189.9" r="4.6"/><circle cx="404.4" cy="1190.7" r="4.6"/><circle cx="408.6" cy="1190.4" r="4.6"/><circle cx="412.9" cy="1190.8" r="4.6"/><circle cx="415.9" cy="1190.6" r="4.6"/><circle cx="421.0" cy="1190.4" r="4.6"/><circle cx="424.3" cy="1190.3" r="4.6"/><circle cx="352.1" cy="1193.6" r="4.6"/><circle cx="356.3" cy="1193.7" r="4.6"/><circle cx="359.1" cy="1193.5" r="4.6"/><circle cx="364.0" cy="1194.0" r="4.6"/><circle cx="368.9" cy="1193.9" r="4.6"/><circle cx="372.6" cy="1194.3" r="4.6"/><circle cx="376.8" cy="1193.9" r="4.6"/><circle cx="380.5" cy="1194.0" r="4.6"/><circle cx="384.8" cy="1193.6" r="4.6"/><circle cx="389.9" cy="1194.9" r="4.6"/><circle cx="393.9" cy="1193.6" r="4.6"/><circle cx="398.3" cy="1193.9" r="4.6"/><circle cx="402.5" cy="1194.0" r="4.6"/><circle cx="405.8" cy="1194.8" r="4.6"/><circle cx="410.8" cy="1193.4" r="4.6"/><circle cx="414.2" cy="1193.5" r="4.6"/><circle cx="418.8" cy="1194.2" r="4.6"/><circle cx="423.3" cy="1194.2" r="4.6"/><circle cx="426.9" cy="1193.7" r="4.6"/><circle cx="348.6" cy="1198.1" r="4.6"/><circle cx="354.1" cy="1197.6" r="4.6"/><circle cx="357.4" cy="1198.1" r="4.6"/><circle cx="361.5" cy="1197.5" r="4.6"/><circle cx="366.6" cy="1197.9" r="4.6"/><circle cx="370.4" cy="1197.4" r="4.6"/><circle cx="375.1" cy="1197.0" r="4.6"/><circle cx="377.9" cy="1198.2" r="4.6"/><circle cx="383.0" cy="1197.2" r="4.6"/><circle cx="387.3" cy="1197.5" r="4.6"/><circle cx="390.6" cy="1197.4" r="4.6"/><circle cx="396.3" cy="1198.3" r="4.6"/><circle cx="399.4" cy="1197.2" r="4.6"/><circle cx="403.5" cy="1197.3" r="4.6"/><circle cx="408.6" cy="1197.8" r="4.6"/><circle cx="412.4" cy="1198.2" r="4.6"/><circle cx="416.1" cy="1197.9" r="4.6"/><circle cx="420.1" cy="1197.5" r="4.6"/><circle cx="425.3" cy="1198.2" r="4.6"/><circle cx="429.2" cy="1198.3" r="4.6"/><circle cx="346.8" cy="1201.8" r="4.6"/><circle cx="351.4" cy="1201.2" r="4.6"/><circle cx="354.9" cy="1200.8" r="4.6"/><circle cx="360.1" cy="1200.9" r="4.6"/><circle cx="363.7" cy="1202.2" r="4.6"/><circle cx="368.7" cy="1201.7" r="4.6"/><circle cx="372.7" cy="1201.2" r="4.6"/><circle cx="377.0" cy="1202.0" r="4.6"/><circle cx="380.3" cy="1201.5" r="4.6"/><circle cx="385.1" cy="1201.5" r="4.6"/><circle cx="389.5" cy="1201.1" r="4.6"/><circle cx="393.8" cy="1201.4" r="4.6"/><circle cx="398.1" cy="1200.8" r="4.6"/><circle cx="401.8" cy="1201.9" r="4.6"/><circle cx="405.3" cy="1200.9" r="4.6"/><circle cx="410.5" cy="1201.6" r="4.6"/><circle cx="414.3" cy="1200.7" r="4.6"/><circle cx="419.4" cy="1201.4" r="4.6"/><circle cx="422.1" cy="1202.1" r="4.6"/><circle cx="426.3" cy="1201.9" r="4.6"/><circle cx="431.3" cy="1201.0" r="4.6"/><circle cx="348.8" cy="1205.6" r="4.6"/><circle cx="352.9" cy="1204.4" r="4.6"/><circle cx="357.2" cy="1204.8" r="4.6"/><circle cx="362.5" cy="1204.8" r="4.6"/><circle cx="366.3" cy="1205.8" r="4.6"/><circle cx="370.5" cy="1204.9" r="4.6"/><circle cx="374.4" cy="1204.6" r="4.6"/><circle cx="379.1" cy="1205.0" r="4.6"/><circle cx="383.7" cy="1205.1" r="4.6"/><circle cx="387.3" cy="1204.9" r="4.6"/><circle cx="391.8" cy="1204.7" r="4.6"/><circle cx="395.5" cy="1205.7" r="4.6"/><circle cx="399.0" cy="1205.5" r="4.6"/><circle cx="403.8" cy="1205.2" r="4.6"/><circle cx="408.5" cy="1205.1" r="4.6"/><circle cx="411.9" cy="1204.5" r="4.6"/><circle cx="416.6" cy="1205.4" r="4.6"/><circle cx="421.4" cy="1205.7" r="4.6"/><circle cx="424.3" cy="1205.6" r="4.6"/><circle cx="429.0" cy="1204.7" r="4.6"/><circle cx="348.0" cy="1208.2" r="4.6"/><circle cx="350.9" cy="1209.0" r="4.6"/><circle cx="355.3" cy="1209.3" r="4.6"/><circle cx="359.1" cy="1208.1" r="4.6"/><circle cx="364.4" cy="1209.2" r="4.6"/><circle cx="368.4" cy="1208.7" r="4.6"/><circle cx="372.1" cy="1208.1" r="4.6"/><circle cx="377.3" cy="1208.1" r="4.6"/><circle cx="381.3" cy="1208.9" r="4.6"/><circle cx="384.4" cy="1209.1" r="4.6"/><circle cx="388.5" cy="1208.8" r="4.6"/><circle cx="393.3" cy="1208.9" r="4.6"/><circle cx="396.8" cy="1208.3" r="4.6"/><circle cx="402.3" cy="1208.4" r="4.6"/><circle cx="405.4" cy="1209.0" r="4.6"/><circle cx="410.6" cy="1208.2" r="4.6"/><circle cx="415.0" cy="1208.7" r="4.6"/><circle cx="418.2" cy="1209.3" r="4.6"/><circle cx="422.3" cy="1208.6" r="4.6"/><circle cx="427.6" cy="1208.8" r="4.6"/><circle cx="431.8" cy="1208.9" r="4.6"/><circle cx="344.6" cy="1211.5" r="4.6"/><circle cx="349.5" cy="1212.5" r="4.6"/><circle cx="353.2" cy="1212.2" r="4.6"/><circle cx="357.1" cy="1212.7" r="4.6"/><circle cx="361.8" cy="1213.1" r="4.6"/><circle cx="366.6" cy="1213.0" r="4.6"/><circle cx="370.5" cy="1212.3" r="4.6"/><circle cx="374.9" cy="1211.7" r="4.6"/><circle cx="378.6" cy="1213.0" r="4.6"/><circle cx="383.0" cy="1211.9" r="4.6"/><circle cx="387.4" cy="1213.0" r="4.6"/><circle cx="390.6" cy="1211.5" r="4.6"/><circle cx="395.2" cy="1211.7" r="4.6"/><circle cx="400.3" cy="1212.6" r="4.6"/><circle cx="404.1" cy="1212.7" r="4.6"/><circle cx="408.8" cy="1212.4" r="4.6"/><circle cx="411.7" cy="1212.5" r="4.6"/><circle cx="416.0" cy="1212.9" r="4.6"/><circle cx="421.4" cy="1212.6" r="4.6"/><circle cx="425.2" cy="1212.3" r="4.6"/><circle cx="429.7" cy="1213.0" r="4.6"/><circle cx="433.5" cy="1211.9" r="4.6"/><circle cx="343.4" cy="1216.7" r="4.6"/><circle cx="346.5" cy="1216.0" r="4.6"/><circle cx="350.9" cy="1215.8" r="4.6"/><circle cx="356.0" cy="1215.3" r="4.6"/><circle cx="360.2" cy="1216.7" r="4.6"/><circle cx="363.6" cy="1215.9" r="4.6"/><circle cx="367.6" cy="1216.1" r="4.6"/><circle cx="372.0" cy="1216.4" r="4.6"/><circle cx="376.3" cy="1216.2" r="4.6"/><circle cx="380.9" cy="1216.4" r="4.6"/><circle cx="384.5" cy="1215.5" r="4.6"/><circle cx="389.9" cy="1215.3" r="4.6"/><circle cx="393.9" cy="1215.3" r="4.6"/><circle cx="397.8" cy="1215.7" r="4.6"/><circle cx="401.5" cy="1216.2" r="4.6"/><circle cx="406.2" cy="1215.8" r="4.6"/><circle cx="410.8" cy="1216.2" r="4.6"/><circle cx="414.9" cy="1215.6" r="4.6"/><circle cx="418.3" cy="1215.9" r="4.6"/><circle cx="422.3" cy="1216.6" r="4.6"/><circle cx="427.0" cy="1215.5" r="4.6"/><circle cx="431.8" cy="1216.5" r="4.6"/><circle cx="436.1" cy="1215.6" r="4.6"/><circle cx="345.8" cy="1219.3" r="4.6"/><circle cx="348.8" cy="1219.7" r="4.6"/><circle cx="354.2" cy="1219.8" r="4.6"/><circle cx="358.0" cy="1220.3" r="4.6"/><circle cx="361.3" cy="1219.9" r="4.6"/><circle cx="365.9" cy="1220.0" r="4.6"/><circle cx="370.8" cy="1220.2" r="4.6"/><circle cx="374.4" cy="1219.6" r="4.6"/><circle cx="378.3" cy="1220.0" r="4.6"/><circle cx="383.0" cy="1220.0" r="4.6"/><circle cx="387.1" cy="1218.8" r="4.6"/><circle cx="390.7" cy="1220.3" r="4.6"/><circle cx="395.3" cy="1219.0" r="4.6"/><circle cx="399.0" cy="1219.7" r="4.6"/><circle cx="403.8" cy="1220.4" r="4.6"/><circle cx="408.5" cy="1219.9" r="4.6"/><circle cx="412.5" cy="1219.5" r="4.6"/><circle cx="416.9" cy="1219.6" r="4.6"/><circle cx="421.1" cy="1219.4" r="4.6"/><circle cx="425.2" cy="1219.8" r="4.6"/><circle cx="428.8" cy="1219.2" r="4.6"/><circle cx="433.7" cy="1220.2" r="4.6"/><circle cx="350.9" cy="1222.5" r="4.6"/><circle cx="355.1" cy="1222.7" r="4.6"/><circle cx="359.3" cy="1222.6" r="4.6"/><circle cx="363.3" cy="1223.0" r="4.6"/><circle cx="368.7" cy="1222.8" r="4.6"/><circle cx="372.7" cy="1223.7" r="4.6"/><circle cx="376.0" cy="1223.3" r="4.6"/><circle cx="381.1" cy="1223.4" r="4.6"/><circle cx="385.8" cy="1223.3" r="4.6"/><circle cx="389.3" cy="1223.2" r="4.6"/><circle cx="394.1" cy="1223.1" r="4.6"/><circle cx="397.7" cy="1222.9" r="4.6"/><circle cx="401.7" cy="1223.0" r="4.6"/><circle cx="405.5" cy="1223.2" r="4.6"/><circle cx="409.9" cy="1223.4" r="4.6"/><circle cx="415.2" cy="1222.7" r="4.6"/><circle cx="419.2" cy="1222.5" r="4.6"/><circle cx="422.9" cy="1223.7" r="4.6"/><circle cx="427.8" cy="1223.4" r="4.6"/><circle cx="353.4" cy="1227.0" r="4.6"/><circle cx="357.2" cy="1227.5" r="4.6"/><circle cx="361.4" cy="1226.9" r="4.6"/><circle cx="366.1" cy="1227.5" r="4.6"/><circle cx="370.9" cy="1226.2" r="4.6"/><circle cx="374.2" cy="1226.6" r="4.6"/><circle cx="378.5" cy="1226.9" r="4.6"/><circle cx="383.7" cy="1227.3" r="4.6"/><circle cx="386.9" cy="1227.0" r="4.6"/><circle cx="391.2" cy="1227.6" r="4.6"/><circle cx="395.4" cy="1227.6" r="4.6"/><circle cx="399.8" cy="1226.3" r="4.6"/><circle cx="404.1" cy="1226.3" r="4.6"/><circle cx="408.8" cy="1227.5" r="4.6"/><circle cx="411.7" cy="1226.6" r="4.6"/><circle cx="417.2" cy="1227.4" r="4.6"/><circle cx="420.2" cy="1226.1" r="4.6"/><circle cx="425.4" cy="1226.5" r="4.6"/><circle cx="360.1" cy="1230.9" r="4.6"/><circle cx="364.0" cy="1230.4" r="4.6"/><circle cx="368.7" cy="1230.2" r="4.6"/><circle cx="371.7" cy="1229.7" r="4.6"/><circle cx="376.9" cy="1229.7" r="4.6"/><circle cx="380.3" cy="1230.7" r="4.6"/><circle cx="384.2" cy="1230.7" r="4.6"/><circle cx="388.4" cy="1230.2" r="4.6"/><circle cx="393.1" cy="1230.7" r="4.6"/><circle cx="397.0" cy="1231.2" r="4.6"/><circle cx="401.6" cy="1230.4" r="4.6"/><circle cx="405.2" cy="1230.1" r="4.6"/><circle cx="410.1" cy="1230.9" r="4.6"/><circle cx="415.2" cy="1230.8" r="4.6"/><circle cx="419.2" cy="1231.1" r="4.6"/><circle cx="365.5" cy="1234.0" r="4.6"/><circle cx="369.6" cy="1234.0" r="4.6"/><circle cx="374.4" cy="1234.7" r="4.6"/><circle cx="378.1" cy="1233.7" r="4.6"/><circle cx="382.4" cy="1233.9" r="4.6"/><circle cx="386.8" cy="1234.8" r="4.6"/><circle cx="391.5" cy="1234.2" r="4.6"/><circle cx="395.8" cy="1233.5" r="4.6"/><circle cx="399.2" cy="1233.9" r="4.6"/><circle cx="403.3" cy="1234.3" r="4.6"/><circle cx="407.4" cy="1233.6" r="4.6"/><circle cx="412.1" cy="1234.7" r="4.6"/><circle cx="377.3" cy="1237.1" r="4.6"/><circle cx="380.1" cy="1237.0" r="4.6"/><circle cx="384.5" cy="1238.0" r="4.6"/><circle cx="389.7" cy="1237.7" r="4.6"/><circle cx="393.2" cy="1237.6" r="4.6"/><circle cx="398.3" cy="1237.5" r="4.6"/><circle cx="402.4" cy="1238.0" r="4.6"/><circle cx="382.3" cy="1240.9" r="4.6"/><circle cx="387.4" cy="1241.9" r="4.6"/><circle cx="392.1" cy="1241.3" r="4.6"/><circle cx="394.9" cy="1241.9" r="4.6"/></g>
<g filter="url(#bl)"><circle cx="389.2" cy="776.0" r="4.6" fill="rgba(0,0,0,0.046)"/><circle cx="389.2" cy="785.0" r="4.6" fill="rgba(0,0,0,0.091)"/><circle cx="389.2" cy="843.0" r="4.6" fill="rgba(0,0,0,0.079)"/><circle cx="389.2" cy="850.0" r="4.6" fill="rgba(0,0,0,0.066)"/><circle cx="389.2" cy="856.0" r="4.6" fill="rgba(0,0,0,0.070)"/><circle cx="389.2" cy="870.0" r="4.6" fill="rgba(0,0,0,0.083)"/><circle cx="389.2" cy="905.0" r="4.6" fill="rgba(0,0,0,0.093)"/><circle cx="389.2" cy="921.0" r="4.6" fill="rgba(0,0,0,0.052)"/><circle cx="389.2" cy="930.0" r="4.6" fill="rgba(0,0,0,0.043)"/><circle cx="389.2" cy="940.0" r="4.6" fill="rgba(0,0,0,0.077)"/><circle cx="389.2" cy="950.0" r="4.6" fill="rgba(0,0,0,0.071)"/><circle cx="389.2" cy="962.0" r="4.6" fill="rgba(0,0,0,0.111)"/><circle cx="389.2" cy="970.0" r="4.6" fill="rgba(0,0,0,0.070)"/><circle cx="389.2" cy="980.0" r="4.6" fill="rgba(0,0,0,0.057)"/><circle cx="389.2" cy="990.0" r="4.6" fill="rgba(0,0,0,0.069)"/><circle cx="389.2" cy="998.0" r="4.6" fill="rgba(0,0,0,0.087)"/></g>
<rect x="333.40" y="1126.40" width="111.20" height="79.10" fill="#8fc98a" stroke="none" stroke-width="1" fill-opacity="0.2"/>
<line x1="389.20" y1="1008.20" x2="389.20" y2="1126.40" stroke="#222" stroke-width="1.0" />
<line x1="389.20" y1="1205.50" x2="389.20" y2="1241.70" stroke="#222" stroke-width="1.0" />
<rect x="333.40" y="1126.40" width="111.20" height="79.10" fill="none" stroke="#1f4a1f" stroke-width="1.15" />
<line x1="333.40" y1="1175.20" x2="444.60" y2="1175.20" stroke="#1f4a1f" stroke-width="1.8" />
<rect x="492.10" y="1113.20" width="111.60" height="90.10" fill="#72bbe8" stroke="none" stroke-width="1" />
<g fill="rgba(0,0,0,0.072)" filter="url(#bl)"><circle cx="547.4" cy="980.9" r="4.6"/><circle cx="545.6" cy="984.3" r="4.6"/><circle cx="550.5" cy="984.1" r="4.6"/><circle cx="544.9" cy="989.0" r="4.6"/><circle cx="550.2" cy="988.3" r="4.6"/><circle cx="546.4" cy="991.7" r="4.6"/><circle cx="549.2" cy="991.7" r="4.6"/><circle cx="545.2" cy="996.3" r="4.6"/><circle cx="550.5" cy="995.5" r="4.6"/><circle cx="545.5" cy="999.1" r="4.6"/><circle cx="550.3" cy="998.8" r="4.6"/><circle cx="548.0" cy="1002.3" r="4.6"/><circle cx="545.2" cy="1005.8" r="4.6"/><circle cx="550.6" cy="1005.7" r="4.6"/><circle cx="548.0" cy="1010.5" r="4.6"/><circle cx="546.5" cy="1014.2" r="4.6"/><circle cx="549.9" cy="1013.5" r="4.6"/><circle cx="543.4" cy="1016.7" r="4.6"/><circle cx="547.9" cy="1016.8" r="4.6"/><circle cx="551.7" cy="1017.9" r="4.6"/><circle cx="545.5" cy="1020.8" r="4.6"/><circle cx="550.2" cy="1020.3" r="4.6"/><circle cx="543.6" cy="1025.0" r="4.6"/><circle cx="548.2" cy="1024.2" r="4.6"/><circle cx="551.7" cy="1024.1" r="4.6"/><circle cx="545.9" cy="1027.7" r="4.6"/><circle cx="550.4" cy="1028.3" r="4.6"/><circle cx="542.9" cy="1031.7" r="4.6"/><circle cx="548.0" cy="1031.4" r="4.6"/><circle cx="551.9" cy="1031.3" r="4.6"/><circle cx="541.9" cy="1035.4" r="4.6"/><circle cx="545.5" cy="1035.4" r="4.6"/><circle cx="549.1" cy="1035.5" r="4.6"/><circle cx="554.7" cy="1035.0" r="4.6"/><circle cx="544.2" cy="1038.8" r="4.6"/><circle cx="548.2" cy="1039.7" r="4.6"/><circle cx="552.6" cy="1040.0" r="4.6"/><circle cx="541.4" cy="1043.1" r="4.6"/><circle cx="545.4" cy="1043.3" r="4.6"/><circle cx="549.8" cy="1042.8" r="4.6"/><circle cx="554.5" cy="1042.3" r="4.6"/><circle cx="543.5" cy="1047.1" r="4.6"/><circle cx="548.1" cy="1046.1" r="4.6"/><circle cx="551.9" cy="1046.6" r="4.6"/><circle cx="542.2" cy="1050.2" r="4.6"/><circle cx="546.5" cy="1049.6" r="4.6"/><circle cx="549.5" cy="1050.2" r="4.6"/><circle cx="554.3" cy="1050.8" r="4.6"/><circle cx="544.2" cy="1053.5" r="4.6"/><circle cx="547.5" cy="1054.3" r="4.6"/><circle cx="551.8" cy="1054.0" r="4.6"/><circle cx="541.4" cy="1057.6" r="4.6"/><circle cx="546.2" cy="1058.1" r="4.6"/><circle cx="549.7" cy="1057.7" r="4.6"/><circle cx="554.6" cy="1057.7" r="4.6"/><circle cx="544.1" cy="1060.6" r="4.6"/><circle cx="547.5" cy="1060.5" r="4.6"/><circle cx="552.5" cy="1061.6" r="4.6"/><circle cx="542.0" cy="1065.1" r="4.6"/><circle cx="545.7" cy="1064.7" r="4.6"/><circle cx="550.0" cy="1065.4" r="4.6"/><circle cx="554.9" cy="1064.7" r="4.6"/><circle cx="544.0" cy="1069.0" r="4.6"/><circle cx="548.1" cy="1068.2" r="4.6"/><circle cx="551.4" cy="1068.5" r="4.6"/><circle cx="541.9" cy="1071.6" r="4.6"/><circle cx="545.1" cy="1072.3" r="4.6"/><circle cx="549.5" cy="1071.6" r="4.6"/><circle cx="553.6" cy="1072.5" r="4.6"/><circle cx="543.7" cy="1075.2" r="4.6"/><circle cx="547.8" cy="1075.4" r="4.6"/><circle cx="552.2" cy="1075.9" r="4.6"/><circle cx="541.4" cy="1079.0" r="4.6"/><circle cx="545.0" cy="1078.5" r="4.6"/><circle cx="549.4" cy="1078.5" r="4.6"/><circle cx="554.5" cy="1078.8" r="4.6"/><circle cx="540.0" cy="1082.3" r="4.6"/><circle cx="544.1" cy="1083.0" r="4.6"/><circle cx="548.2" cy="1083.3" r="4.6"/><circle cx="551.8" cy="1082.4" r="4.6"/><circle cx="555.8" cy="1082.7" r="4.6"/><circle cx="542.0" cy="1087.2" r="4.6"/><circle cx="545.8" cy="1087.0" r="4.6"/><circle cx="550.0" cy="1086.2" r="4.6"/><circle cx="554.4" cy="1086.0" r="4.6"/><circle cx="539.0" cy="1089.9" r="4.6"/><circle cx="543.4" cy="1090.0" r="4.6"/><circle cx="547.5" cy="1090.0" r="4.6"/><circle cx="552.6" cy="1089.4" r="4.6"/><circle cx="555.6" cy="1090.4" r="4.6"/><circle cx="537.8" cy="1093.2" r="4.6"/><circle cx="541.3" cy="1093.6" r="4.6"/><circle cx="545.6" cy="1093.9" r="4.6"/><circle cx="550.1" cy="1093.2" r="4.6"/><circle cx="553.6" cy="1093.0" r="4.6"/><circle cx="557.7" cy="1094.2" r="4.6"/><circle cx="535.4" cy="1097.1" r="4.6"/><circle cx="539.3" cy="1098.1" r="4.6"/><circle cx="544.2" cy="1097.3" r="4.6"/><circle cx="547.8" cy="1097.9" r="4.6"/><circle cx="552.7" cy="1097.4" r="4.6"/><circle cx="556.2" cy="1097.3" r="4.6"/><circle cx="560.3" cy="1096.9" r="4.6"/><circle cx="537.1" cy="1101.7" r="4.6"/><circle cx="541.7" cy="1101.1" r="4.6"/><circle cx="546.4" cy="1101.1" r="4.6"/><circle cx="550.4" cy="1101.3" r="4.6"/><circle cx="553.3" cy="1101.0" r="4.6"/><circle cx="558.6" cy="1100.3" r="4.6"/><circle cx="534.9" cy="1105.0" r="4.6"/><circle cx="540.0" cy="1104.0" r="4.6"/><circle cx="543.5" cy="1105.3" r="4.6"/><circle cx="547.5" cy="1104.6" r="4.6"/><circle cx="552.3" cy="1104.3" r="4.6"/><circle cx="556.6" cy="1104.5" r="4.6"/><circle cx="560.1" cy="1104.5" r="4.6"/><circle cx="532.5" cy="1108.4" r="4.6"/><circle cx="537.8" cy="1107.6" r="4.6"/><circle cx="542.0" cy="1108.5" r="4.6"/><circle cx="545.7" cy="1109.1" r="4.6"/><circle cx="550.1" cy="1107.8" r="4.6"/><circle cx="553.7" cy="1108.9" r="4.6"/><circle cx="557.6" cy="1108.1" r="4.6"/><circle cx="562.7" cy="1109.1" r="4.6"/><circle cx="535.9" cy="1111.6" r="4.6"/><circle cx="538.6" cy="1112.3" r="4.6"/><circle cx="544.4" cy="1111.4" r="4.6"/><circle cx="547.0" cy="1112.2" r="4.6"/><circle cx="552.8" cy="1112.6" r="4.6"/><circle cx="556.6" cy="1112.5" r="4.6"/><circle cx="559.6" cy="1112.1" r="4.6"/><circle cx="532.3" cy="1115.9" r="4.6"/><circle cx="537.3" cy="1116.2" r="4.6"/><circle cx="541.1" cy="1114.9" r="4.6"/><circle cx="545.0" cy="1115.1" r="4.6"/><circle cx="550.1" cy="1116.0" r="4.6"/><circle cx="554.1" cy="1115.9" r="4.6"/><circle cx="559.0" cy="1115.5" r="4.6"/><circle cx="562.6" cy="1116.3" r="4.6"/><circle cx="535.9" cy="1119.4" r="4.6"/><circle cx="540.0" cy="1118.5" r="4.6"/><circle cx="543.1" cy="1119.3" r="4.6"/><circle cx="548.1" cy="1119.1" r="4.6"/><circle cx="551.9" cy="1118.5" r="4.6"/><circle cx="555.6" cy="1118.7" r="4.6"/><circle cx="561.0" cy="1119.2" r="4.6"/><circle cx="532.3" cy="1123.0" r="4.6"/><circle cx="538.0" cy="1123.0" r="4.6"/><circle cx="541.7" cy="1122.7" r="4.6"/><circle cx="545.8" cy="1122.3" r="4.6"/><circle cx="550.1" cy="1123.2" r="4.6"/><circle cx="554.3" cy="1123.3" r="4.6"/><circle cx="558.5" cy="1122.8" r="4.6"/><circle cx="562.5" cy="1122.9" r="4.6"/><circle cx="534.4" cy="1126.8" r="4.6"/><circle cx="539.8" cy="1127.1" r="4.6"/><circle cx="544.3" cy="1127.0" r="4.6"/><circle cx="548.2" cy="1127.2" r="4.6"/><circle cx="551.9" cy="1127.0" r="4.6"/><circle cx="556.8" cy="1127.1" r="4.6"/><circle cx="560.3" cy="1126.8" r="4.6"/><circle cx="533.0" cy="1129.6" r="4.6"/><circle cx="536.8" cy="1130.7" r="4.6"/><circle cx="541.0" cy="1130.7" r="4.6"/><circle cx="545.4" cy="1129.5" r="4.6"/><circle cx="549.2" cy="1130.7" r="4.6"/><circle cx="554.5" cy="1129.5" r="4.6"/><circle cx="557.5" cy="1129.7" r="4.6"/><circle cx="562.2" cy="1129.7" r="4.6"/><circle cx="530.7" cy="1133.7" r="4.6"/><circle cx="535.4" cy="1133.0" r="4.6"/><circle cx="539.3" cy="1133.9" r="4.6"/><circle cx="544.3" cy="1133.4" r="4.6"/><circle cx="548.4" cy="1133.8" r="4.6"/><circle cx="551.4" cy="1134.2" r="4.6"/><circle cx="556.9" cy="1134.1" r="4.6"/><circle cx="561.0" cy="1134.0" r="4.6"/><circle cx="564.6" cy="1134.2" r="4.6"/><circle cx="529.0" cy="1138.0" r="4.6"/><circle cx="532.9" cy="1137.3" r="4.6"/><circle cx="536.9" cy="1137.1" r="4.6"/><circle cx="541.2" cy="1136.6" r="4.6"/><circle cx="545.7" cy="1137.2" r="4.6"/><circle cx="550.3" cy="1138.0" r="4.6"/><circle cx="553.9" cy="1137.1" r="4.6"/><circle cx="558.2" cy="1137.0" r="4.6"/><circle cx="561.8" cy="1138.1" r="4.6"/><circle cx="567.4" cy="1137.9" r="4.6"/><circle cx="527.6" cy="1141.7" r="4.6"/><circle cx="530.6" cy="1140.4" r="4.6"/><circle cx="535.7" cy="1140.8" r="4.6"/><circle cx="539.2" cy="1141.8" r="4.6"/><circle cx="544.0" cy="1141.1" r="4.6"/><circle cx="548.4" cy="1141.7" r="4.6"/><circle cx="552.7" cy="1141.0" r="4.6"/><circle cx="556.6" cy="1140.8" r="4.6"/><circle cx="560.0" cy="1141.1" r="4.6"/><circle cx="565.2" cy="1141.7" r="4.6"/><circle cx="568.3" cy="1141.8" r="4.6"/><circle cx="528.7" cy="1145.0" r="4.6"/><circle cx="533.5" cy="1144.3" r="4.6"/><circle cx="537.5" cy="1145.3" r="4.6"/><circle cx="541.5" cy="1145.5" r="4.6"/><circle cx="545.2" cy="1145.3" r="4.6"/><circle cx="550.3" cy="1144.5" r="4.6"/><circle cx="554.5" cy="1144.7" r="4.6"/><circle cx="558.4" cy="1144.9" r="4.6"/><circle cx="562.1" cy="1145.1" r="4.6"/><circle cx="566.2" cy="1144.2" r="4.6"/><circle cx="527.4" cy="1148.1" r="4.6"/><circle cx="531.3" cy="1147.9" r="4.6"/><circle cx="535.4" cy="1148.7" r="4.6"/><circle cx="538.9" cy="1148.9" r="4.6"/><circle cx="543.5" cy="1148.4" r="4.6"/><circle cx="548.5" cy="1148.6" r="4.6"/><circle cx="552.2" cy="1147.5" r="4.6"/><circle cx="556.7" cy="1148.8" r="4.6"/><circle cx="561.1" cy="1147.6" r="4.6"/><circle cx="564.4" cy="1149.1" r="4.6"/><circle cx="569.3" cy="1148.4" r="4.6"/><circle cx="524.6" cy="1151.3" r="4.6"/><circle cx="528.9" cy="1152.6" r="4.6"/><circle cx="532.5" cy="1152.0" r="4.6"/><circle cx="537.7" cy="1151.4" r="4.6"/><circle cx="541.4" cy="1151.7" r="4.6"/><circle cx="546.2" cy="1152.5" r="4.6"/><circle cx="550.5" cy="1152.3" r="4.6"/><circle cx="553.9" cy="1151.8" r="4.6"/><circle cx="557.8" cy="1151.8" r="4.6"/><circle cx="562.5" cy="1151.6" r="4.6"/><circle cx="567.2" cy="1152.3" r="4.6"/><circle cx="570.2" cy="1152.2" r="4.6"/><circle cx="522.5" cy="1155.9" r="4.6"/><circle cx="526.3" cy="1155.0" r="4.6"/><circle cx="530.2" cy="1155.3" r="4.6"/><circle cx="534.6" cy="1156.0" r="4.6"/><circle cx="538.9" cy="1156.2" r="4.6"/><circle cx="544.1" cy="1155.9" r="4.6"/><circle cx="548.5" cy="1155.0" r="4.6"/><circle cx="551.2" cy="1156.3" r="4.6"/><circle cx="556.4" cy="1156.2" r="4.6"/><circle cx="560.7" cy="1155.6" r="4.6"/><circle cx="565.2" cy="1156.4" r="4.6"/><circle cx="569.1" cy="1155.6" r="4.6"/><circle cx="572.9" cy="1155.7" r="4.6"/><circle cx="524.9" cy="1159.7" r="4.6"/><circle cx="529.4" cy="1158.9" r="4.6"/><circle cx="533.4" cy="1159.7" r="4.6"/><circle cx="536.6" cy="1160.0" r="4.6"/><circle cx="541.6" cy="1159.8" r="4.6"/><circle cx="546.0" cy="1159.3" r="4.6"/><circle cx="550.7" cy="1158.5" r="4.6"/><circle cx="553.7" cy="1159.7" r="4.6"/><circle cx="558.2" cy="1158.9" r="4.6"/><circle cx="561.8" cy="1158.6" r="4.6"/><circle cx="566.5" cy="1158.8" r="4.6"/><circle cx="570.7" cy="1159.9" r="4.6"/><circle cx="522.4" cy="1162.1" r="4.6"/><circle cx="526.9" cy="1163.0" r="4.6"/><circle cx="530.7" cy="1163.5" r="4.6"/><circle cx="534.7" cy="1163.1" r="4.6"/><circle cx="539.4" cy="1162.3" r="4.6"/><circle cx="543.2" cy="1162.2" r="4.6"/><circle cx="548.2" cy="1163.6" r="4.6"/><circle cx="551.5" cy="1163.2" r="4.6"/><circle cx="557.0" cy="1163.1" r="4.6"/><circle cx="560.5" cy="1163.5" r="4.6"/><circle cx="564.4" cy="1162.8" r="4.6"/><circle cx="568.4" cy="1162.8" r="4.6"/><circle cx="573.8" cy="1162.5" r="4.6"/><circle cx="520.2" cy="1165.8" r="4.6"/><circle cx="524.8" cy="1165.9" r="4.6"/><circle cx="528.4" cy="1166.6" r="4.6"/><circle cx="532.3" cy="1165.8" r="4.6"/><circle cx="536.7" cy="1166.1" r="4.6"/><circle cx="541.4" cy="1166.4" r="4.6"/><circle cx="545.0" cy="1166.8" r="4.6"/><circle cx="549.5" cy="1166.7" r="4.6"/><circle cx="553.6" cy="1166.2" r="4.6"/><circle cx="557.8" cy="1166.1" r="4.6"/><circle cx="563.3" cy="1166.5" r="4.6"/><circle cx="566.0" cy="1166.8" r="4.6"/><circle cx="570.3" cy="1166.7" r="4.6"/><circle cx="575.6" cy="1166.5" r="4.6"/><circle cx="519.2" cy="1169.9" r="4.6"/><circle cx="523.2" cy="1169.4" r="4.6"/><circle cx="526.9" cy="1170.6" r="4.6"/><circle cx="531.1" cy="1169.6" r="4.6"/><circle cx="535.3" cy="1170.4" r="4.6"/><circle cx="538.6" cy="1170.7" r="4.6"/><circle cx="543.8" cy="1170.8" r="4.6"/><circle cx="547.3" cy="1170.0" r="4.6"/><circle cx="551.4" cy="1169.9" r="4.6"/><circle cx="555.5" cy="1170.8" r="4.6"/><circle cx="560.9" cy="1170.5" r="4.6"/><circle cx="565.2" cy="1170.9" r="4.6"/><circle cx="569.6" cy="1170.8" r="4.6"/><circle cx="572.4" cy="1169.9" r="4.6"/><circle cx="577.1" cy="1169.5" r="4.6"/><circle cx="516.5" cy="1174.5" r="4.6"/><circle cx="520.5" cy="1173.7" r="4.6"/><circle cx="524.3" cy="1174.5" r="4.6"/><circle cx="528.9" cy="1174.1" r="4.6"/><circle cx="532.5" cy="1174.3" r="4.6"/><circle cx="538.0" cy="1174.2" r="4.6"/><circle cx="541.3" cy="1173.7" r="4.6"/><circle cx="545.5" cy="1173.8" r="4.6"/><circle cx="549.5" cy="1174.4" r="4.6"/><circle cx="553.7" cy="1173.7" r="4.6"/><circle cx="557.7" cy="1173.8" r="4.6"/><circle cx="562.2" cy="1173.4" r="4.6"/><circle cx="566.1" cy="1173.5" r="4.6"/><circle cx="571.5" cy="1173.7" r="4.6"/><circle cx="574.5" cy="1174.1" r="4.6"/><circle cx="578.5" cy="1174.5" r="4.6"/><circle cx="514.8" cy="1178.1" r="4.6"/><circle cx="518.0" cy="1177.9" r="4.6"/><circle cx="521.9" cy="1178.2" r="4.6"/><circle cx="527.5" cy="1177.0" r="4.6"/><circle cx="531.3" cy="1177.2" r="4.6"/><circle cx="534.6" cy="1177.5" r="4.6"/><circle cx="538.7" cy="1178.0" r="4.6"/><circle cx="544.4" cy="1176.8" r="4.6"/><circle cx="548.1" cy="1178.0" r="4.6"/><circle cx="552.7" cy="1176.7" r="4.6"/><circle cx="556.5" cy="1177.9" r="4.6"/><circle cx="560.2" cy="1176.9" r="4.6"/><circle cx="564.4" cy="1177.8" r="4.6"/><circle cx="568.3" cy="1177.0" r="4.6"/><circle cx="573.3" cy="1176.8" r="4.6"/><circle cx="577.3" cy="1178.2" r="4.6"/><circle cx="580.7" cy="1177.4" r="4.6"/><circle cx="512.5" cy="1181.3" r="4.6"/><circle cx="516.9" cy="1181.8" r="4.6"/><circle cx="520.1" cy="1181.4" r="4.6"/><circle cx="524.9" cy="1181.8" r="4.6"/><circle cx="528.4" cy="1181.7" r="4.6"/><circle cx="532.6" cy="1180.9" r="4.6"/><circle cx="536.8" cy="1181.8" r="4.6"/><circle cx="541.6" cy="1180.3" r="4.6"/><circle cx="545.2" cy="1180.8" r="4.6"/><circle cx="550.6" cy="1180.6" r="4.6"/><circle cx="553.4" cy="1180.7" r="4.6"/><circle cx="558.6" cy="1180.5" r="4.6"/><circle cx="562.9" cy="1181.6" r="4.6"/><circle cx="567.0" cy="1180.8" r="4.6"/><circle cx="570.6" cy="1181.3" r="4.6"/><circle cx="574.5" cy="1181.7" r="4.6"/><circle cx="579.8" cy="1180.9" r="4.6"/><circle cx="582.8" cy="1181.4" r="4.6"/><circle cx="514.1" cy="1184.7" r="4.6"/><circle cx="517.9" cy="1184.3" r="4.6"/><circle cx="522.7" cy="1183.9" r="4.6"/><circle cx="526.9" cy="1185.2" r="4.6"/><circle cx="530.4" cy="1184.9" r="4.6"/><circle cx="535.4" cy="1185.3" r="4.6"/><circle cx="540.1" cy="1184.4" r="4.6"/><circle cx="543.1" cy="1184.6" r="4.6"/><circle cx="548.1" cy="1184.5" r="4.6"/><circle cx="552.5" cy="1185.3" r="4.6"/><circle cx="556.2" cy="1184.8" r="4.6"/><circle cx="559.7" cy="1184.3" r="4.6"/><circle cx="564.8" cy="1184.1" r="4.6"/><circle cx="569.5" cy="1184.4" r="4.6"/><circle cx="573.0" cy="1184.5" r="4.6"/><circle cx="577.6" cy="1185.0" r="4.6"/><circle cx="581.9" cy="1184.1" r="4.6"/><circle cx="511.9" cy="1188.2" r="4.6"/><circle cx="516.3" cy="1188.6" r="4.6"/><circle cx="521.1" cy="1188.4" r="4.6"/><circle cx="524.0" cy="1187.7" r="4.6"/><circle cx="529.6" cy="1188.8" r="4.6"/><circle cx="532.8" cy="1187.9" r="4.6"/><circle cx="537.4" cy="1188.7" r="4.6"/><circle cx="541.5" cy="1188.6" r="4.6"/><circle cx="545.7" cy="1188.7" r="4.6"/><circle cx="549.4" cy="1188.9" r="4.6"/><circle cx="554.1" cy="1189.0" r="4.6"/><circle cx="558.0" cy="1187.9" r="4.6"/><circle cx="562.1" cy="1188.7" r="4.6"/><circle cx="566.1" cy="1188.2" r="4.6"/><circle cx="570.2" cy="1188.9" r="4.6"/><circle cx="574.7" cy="1188.9" r="4.6"/><circle cx="579.4" cy="1188.8" r="4.6"/><circle cx="583.1" cy="1188.7" r="4.6"/><circle cx="509.8" cy="1192.0" r="4.6"/><circle cx="514.3" cy="1192.6" r="4.6"/><circle cx="518.1" cy="1192.1" r="4.6"/><circle cx="522.2" cy="1191.9" r="4.6"/><circle cx="527.6" cy="1191.2" r="4.6"/><circle cx="530.4" cy="1191.6" r="4.6"/><circle cx="534.9" cy="1191.8" r="4.6"/><circle cx="539.9" cy="1192.4" r="4.6"/><circle cx="544.3" cy="1191.4" r="4.6"/><circle cx="548.4" cy="1191.8" r="4.6"/><circle cx="552.8" cy="1191.3" r="4.6"/><circle cx="556.7" cy="1191.2" r="4.6"/><circle cx="561.1" cy="1192.5" r="4.6"/><circle cx="564.0" cy="1192.4" r="4.6"/><circle cx="569.3" cy="1191.8" r="4.6"/><circle cx="573.3" cy="1191.3" r="4.6"/><circle cx="576.5" cy="1191.9" r="4.6"/><circle cx="580.9" cy="1192.1" r="4.6"/><circle cx="585.4" cy="1192.0" r="4.6"/><circle cx="507.7" cy="1195.1" r="4.6"/><circle cx="512.7" cy="1195.7" r="4.6"/><circle cx="516.3" cy="1194.9" r="4.6"/><circle cx="519.8" cy="1195.1" r="4.6"/><circle cx="525.0" cy="1194.9" r="4.6"/><circle cx="529.1" cy="1195.7" r="4.6"/><circle cx="533.6" cy="1196.4" r="4.6"/><circle cx="537.7" cy="1196.0" r="4.6"/><circle cx="542.1" cy="1196.4" r="4.6"/><circle cx="545.9" cy="1195.1" r="4.6"/><circle cx="549.7" cy="1194.9" r="4.6"/><circle cx="554.1" cy="1196.2" r="4.6"/><circle cx="557.8" cy="1195.4" r="4.6"/><circle cx="561.9" cy="1195.1" r="4.6"/><circle cx="566.5" cy="1196.0" r="4.6"/><circle cx="571.2" cy="1195.8" r="4.6"/><circle cx="574.8" cy="1195.5" r="4.6"/><circle cx="579.7" cy="1195.5" r="4.6"/><circle cx="584.3" cy="1195.4" r="4.6"/><circle cx="587.8" cy="1196.1" r="4.6"/><circle cx="510.1" cy="1199.1" r="4.6"/><circle cx="514.5" cy="1198.8" r="4.6"/><circle cx="518.8" cy="1199.8" r="4.6"/><circle cx="522.8" cy="1198.9" r="4.6"/><circle cx="526.7" cy="1199.2" r="4.6"/><circle cx="530.6" cy="1198.8" r="4.6"/><circle cx="534.8" cy="1199.4" r="4.6"/><circle cx="538.7" cy="1199.9" r="4.6"/><circle cx="543.7" cy="1198.9" r="4.6"/><circle cx="547.9" cy="1199.6" r="4.6"/><circle cx="551.7" cy="1198.6" r="4.6"/><circle cx="556.8" cy="1198.7" r="4.6"/><circle cx="559.9" cy="1199.9" r="4.6"/><circle cx="564.3" cy="1199.7" r="4.6"/><circle cx="569.0" cy="1199.4" r="4.6"/><circle cx="573.2" cy="1199.3" r="4.6"/><circle cx="577.7" cy="1199.8" r="4.6"/><circle cx="581.3" cy="1199.4" r="4.6"/><circle cx="585.5" cy="1199.4" r="4.6"/><circle cx="508.4" cy="1203.1" r="4.6"/><circle cx="512.8" cy="1202.5" r="4.6"/><circle cx="516.5" cy="1202.3" r="4.6"/><circle cx="519.7" cy="1203.3" r="4.6"/><circle cx="524.9" cy="1203.4" r="4.6"/><circle cx="528.9" cy="1203.4" r="4.6"/><circle cx="533.2" cy="1203.5" r="4.6"/><circle cx="537.3" cy="1203.2" r="4.6"/><circle cx="542.0" cy="1203.1" r="4.6"/><circle cx="546.4" cy="1203.4" r="4.6"/><circle cx="550.1" cy="1202.7" r="4.6"/><circle cx="554.4" cy="1203.4" r="4.6"/><circle cx="559.0" cy="1202.1" r="4.6"/><circle cx="563.0" cy="1203.2" r="4.6"/><circle cx="567.4" cy="1202.7" r="4.6"/><circle cx="571.5" cy="1203.6" r="4.6"/><circle cx="575.8" cy="1203.5" r="4.6"/><circle cx="579.9" cy="1203.5" r="4.6"/><circle cx="583.4" cy="1202.2" r="4.6"/><circle cx="587.0" cy="1202.2" r="4.6"/><circle cx="505.6" cy="1207.2" r="4.6"/><circle cx="509.3" cy="1207.2" r="4.6"/><circle cx="514.0" cy="1206.9" r="4.6"/><circle cx="518.9" cy="1205.8" r="4.6"/><circle cx="522.6" cy="1205.8" r="4.6"/><circle cx="527.1" cy="1206.4" r="4.6"/><circle cx="530.9" cy="1206.6" r="4.6"/><circle cx="535.1" cy="1207.2" r="4.6"/><circle cx="538.7" cy="1206.6" r="4.6"/><circle cx="543.8" cy="1207.2" r="4.6"/><circle cx="547.4" cy="1206.9" r="4.6"/><circle cx="551.8" cy="1206.0" r="4.6"/><circle cx="556.0" cy="1206.1" r="4.6"/><circle cx="559.8" cy="1207.2" r="4.6"/><circle cx="564.6" cy="1207.0" r="4.6"/><circle cx="569.2" cy="1206.6" r="4.6"/><circle cx="573.0" cy="1206.8" r="4.6"/><circle cx="576.6" cy="1205.8" r="4.6"/><circle cx="581.4" cy="1205.7" r="4.6"/><circle cx="586.4" cy="1207.3" r="4.6"/><circle cx="590.2" cy="1206.1" r="4.6"/><circle cx="502.9" cy="1210.8" r="4.6"/><circle cx="507.1" cy="1210.2" r="4.6"/><circle cx="511.4" cy="1210.1" r="4.6"/><circle cx="515.9" cy="1210.3" r="4.6"/><circle cx="520.3" cy="1210.1" r="4.6"/><circle cx="524.5" cy="1209.9" r="4.6"/><circle cx="528.3" cy="1209.8" r="4.6"/><circle cx="533.1" cy="1210.7" r="4.6"/><circle cx="536.7" cy="1209.7" r="4.6"/><circle cx="541.5" cy="1209.6" r="4.6"/><circle cx="546.1" cy="1209.4" r="4.6"/><circle cx="550.3" cy="1209.4" r="4.6"/><circle cx="554.4" cy="1210.4" r="4.6"/><circle cx="558.2" cy="1210.5" r="4.6"/><circle cx="562.8" cy="1209.6" r="4.6"/><circle cx="567.4" cy="1210.4" r="4.6"/><circle cx="571.1" cy="1210.5" r="4.6"/><circle cx="575.2" cy="1210.9" r="4.6"/><circle cx="579.4" cy="1209.6" r="4.6"/><circle cx="582.9" cy="1209.5" r="4.6"/><circle cx="587.9" cy="1209.4" r="4.6"/><circle cx="591.4" cy="1209.6" r="4.6"/><circle cx="502.1" cy="1213.5" r="4.6"/><circle cx="505.8" cy="1213.2" r="4.6"/><circle cx="510.6" cy="1213.8" r="4.6"/><circle cx="514.5" cy="1214.2" r="4.6"/><circle cx="518.1" cy="1213.6" r="4.6"/><circle cx="522.3" cy="1214.5" r="4.6"/><circle cx="527.0" cy="1214.4" r="4.6"/><circle cx="530.5" cy="1213.2" r="4.6"/><circle cx="534.6" cy="1214.2" r="4.6"/><circle cx="538.8" cy="1214.6" r="4.6"/><circle cx="543.1" cy="1214.0" r="4.6"/><circle cx="548.2" cy="1213.4" r="4.6"/><circle cx="551.6" cy="1214.6" r="4.6"/><circle cx="556.6" cy="1213.1" r="4.6"/><circle cx="560.0" cy="1213.5" r="4.6"/><circle cx="563.9" cy="1213.7" r="4.6"/><circle cx="568.0" cy="1213.2" r="4.6"/><circle cx="572.5" cy="1214.2" r="4.6"/><circle cx="577.9" cy="1213.6" r="4.6"/><circle cx="581.7" cy="1213.3" r="4.6"/><circle cx="584.8" cy="1213.9" r="4.6"/><circle cx="590.2" cy="1213.9" r="4.6"/><circle cx="594.6" cy="1213.0" r="4.6"/><circle cx="503.0" cy="1216.9" r="4.6"/><circle cx="507.3" cy="1216.9" r="4.6"/><circle cx="511.5" cy="1217.4" r="4.6"/><circle cx="516.1" cy="1216.9" r="4.6"/><circle cx="521.0" cy="1217.5" r="4.6"/><circle cx="525.5" cy="1218.1" r="4.6"/><circle cx="528.4" cy="1217.0" r="4.6"/><circle cx="532.5" cy="1217.8" r="4.6"/><circle cx="537.6" cy="1218.0" r="4.6"/><circle cx="540.7" cy="1217.6" r="4.6"/><circle cx="546.4" cy="1217.1" r="4.6"/><circle cx="549.6" cy="1216.6" r="4.6"/><circle cx="553.6" cy="1217.3" r="4.6"/><circle cx="558.2" cy="1216.8" r="4.6"/><circle cx="561.9" cy="1218.2" r="4.6"/><circle cx="565.9" cy="1217.0" r="4.6"/><circle cx="571.3" cy="1218.0" r="4.6"/><circle cx="575.2" cy="1217.6" r="4.6"/><circle cx="579.6" cy="1218.0" r="4.6"/><circle cx="582.9" cy="1217.4" r="4.6"/><circle cx="587.6" cy="1217.3" r="4.6"/><circle cx="592.3" cy="1217.7" r="4.6"/><circle cx="506.2" cy="1220.3" r="4.6"/><circle cx="509.7" cy="1220.6" r="4.6"/><circle cx="514.0" cy="1221.5" r="4.6"/><circle cx="518.1" cy="1221.5" r="4.6"/><circle cx="522.6" cy="1220.8" r="4.6"/><circle cx="526.9" cy="1220.7" r="4.6"/><circle cx="531.2" cy="1220.3" r="4.6"/><circle cx="535.0" cy="1220.5" r="4.6"/><circle cx="539.7" cy="1221.8" r="4.6"/><circle cx="543.2" cy="1221.0" r="4.6"/><circle cx="547.1" cy="1221.3" r="4.6"/><circle cx="552.2" cy="1221.5" r="4.6"/><circle cx="556.6" cy="1221.7" r="4.6"/><circle cx="561.0" cy="1221.1" r="4.6"/><circle cx="564.6" cy="1220.4" r="4.6"/><circle cx="569.5" cy="1220.5" r="4.6"/><circle cx="572.6" cy="1221.0" r="4.6"/><circle cx="577.5" cy="1221.7" r="4.6"/><circle cx="581.5" cy="1220.5" r="4.6"/><circle cx="585.5" cy="1220.5" r="4.6"/><circle cx="590.2" cy="1220.8" r="4.6"/><circle cx="507.3" cy="1224.4" r="4.6"/><circle cx="512.5" cy="1223.9" r="4.6"/><circle cx="516.1" cy="1225.5" r="4.6"/><circle cx="521.2" cy="1224.8" r="4.6"/><circle cx="525.2" cy="1225.2" r="4.6"/><circle cx="529.3" cy="1225.0" r="4.6"/><circle cx="533.1" cy="1224.5" r="4.6"/><circle cx="536.8" cy="1224.1" r="4.6"/><circle cx="540.8" cy="1224.0" r="4.6"/><circle cx="546.0" cy="1225.1" r="4.6"/><circle cx="549.2" cy="1225.0" r="4.6"/><circle cx="554.7" cy="1224.2" r="4.6"/><circle cx="557.8" cy="1224.8" r="4.6"/><circle cx="562.1" cy="1224.8" r="4.6"/><circle cx="566.6" cy="1224.9" r="4.6"/><circle cx="570.3" cy="1224.9" r="4.6"/><circle cx="575.7" cy="1224.0" r="4.6"/><circle cx="578.8" cy="1224.8" r="4.6"/><circle cx="583.9" cy="1225.3" r="4.6"/><circle cx="586.9" cy="1224.5" r="4.6"/><circle cx="510.3" cy="1228.6" r="4.6"/><circle cx="514.3" cy="1228.1" r="4.6"/><circle cx="518.1" cy="1228.7" r="4.6"/><circle cx="522.9" cy="1228.0" r="4.6"/><circle cx="526.4" cy="1228.1" r="4.6"/><circle cx="531.4" cy="1229.0" r="4.6"/><circle cx="535.1" cy="1228.0" r="4.6"/><circle cx="539.8" cy="1228.2" r="4.6"/><circle cx="544.0" cy="1228.5" r="4.6"/><circle cx="548.1" cy="1227.5" r="4.6"/><circle cx="551.3" cy="1228.2" r="4.6"/><circle cx="556.7" cy="1228.8" r="4.6"/><circle cx="560.4" cy="1227.6" r="4.6"/><circle cx="565.3" cy="1228.4" r="4.6"/><circle cx="569.5" cy="1228.6" r="4.6"/><circle cx="573.8" cy="1229.0" r="4.6"/><circle cx="576.7" cy="1228.0" r="4.6"/><circle cx="581.2" cy="1229.0" r="4.6"/><circle cx="585.2" cy="1228.5" r="4.6"/><circle cx="515.5" cy="1232.4" r="4.6"/><circle cx="520.7" cy="1232.2" r="4.6"/><circle cx="525.1" cy="1231.6" r="4.6"/><circle cx="529.2" cy="1231.8" r="4.6"/><circle cx="533.4" cy="1232.0" r="4.6"/><circle cx="537.8" cy="1231.7" r="4.6"/><circle cx="540.8" cy="1232.5" r="4.6"/><circle cx="546.3" cy="1231.9" r="4.6"/><circle cx="549.4" cy="1232.2" r="4.6"/><circle cx="554.4" cy="1232.1" r="4.6"/><circle cx="559.0" cy="1232.3" r="4.6"/><circle cx="561.8" cy="1232.4" r="4.6"/><circle cx="567.4" cy="1231.8" r="4.6"/><circle cx="570.3" cy="1231.8" r="4.6"/><circle cx="575.8" cy="1232.6" r="4.6"/><circle cx="578.8" cy="1232.4" r="4.6"/><circle cx="527.4" cy="1235.5" r="4.6"/><circle cx="530.6" cy="1236.2" r="4.6"/><circle cx="535.0" cy="1235.3" r="4.6"/><circle cx="538.8" cy="1235.4" r="4.6"/><circle cx="543.3" cy="1235.6" r="4.6"/><circle cx="547.5" cy="1236.2" r="4.6"/><circle cx="552.7" cy="1236.2" r="4.6"/><circle cx="555.7" cy="1236.2" r="4.6"/><circle cx="560.0" cy="1236.0" r="4.6"/><circle cx="564.1" cy="1235.9" r="4.6"/><circle cx="568.8" cy="1236.0" r="4.6"/><circle cx="537.9" cy="1238.5" r="4.6"/><circle cx="541.8" cy="1239.7" r="4.6"/><circle cx="546.4" cy="1240.0" r="4.6"/><circle cx="550.2" cy="1238.9" r="4.6"/><circle cx="553.5" cy="1238.9" r="4.6"/><circle cx="558.9" cy="1239.1" r="4.6"/></g>
<g filter="url(#bl)"><circle cx="547.8" cy="778.0" r="4.6" fill="rgba(0,0,0,0.144)"/><circle cx="547.8" cy="790.0" r="4.6" fill="rgba(0,0,0,0.131)"/><circle cx="547.8" cy="801.5" r="4.6" fill="rgba(0,0,0,0.127)"/><circle cx="547.8" cy="849.7" r="4.6" fill="rgba(0,0,0,0.140)"/><circle cx="547.8" cy="870.0" r="4.6" fill="rgba(0,0,0,0.125)"/><circle cx="547.8" cy="878.3" r="4.6" fill="rgba(0,0,0,0.090)"/><circle cx="547.8" cy="890.4" r="4.6" fill="rgba(0,0,0,0.094)"/><circle cx="547.8" cy="897.2" r="4.6" fill="rgba(0,0,0,0.135)"/><circle cx="547.8" cy="925.8" r="4.6" fill="rgba(0,0,0,0.160)"/><circle cx="547.8" cy="937.1" r="4.6" fill="rgba(0,0,0,0.102)"/><circle cx="547.8" cy="960.5" r="4.6" fill="rgba(0,0,0,0.114)"/><circle cx="547.8" cy="962.0" r="4.6" fill="rgba(0,0,0,0.138)"/><circle cx="547.8" cy="972.6" r="4.6" fill="rgba(0,0,0,0.093)"/></g>
<rect x="492.10" y="1113.20" width="111.60" height="90.10" fill="#72bbe8" stroke="none" stroke-width="1" fill-opacity="0.2"/>
<line x1="547.80" y1="983.90" x2="547.80" y2="1113.20" stroke="#222" stroke-width="1.0" />
<line x1="547.80" y1="1203.30" x2="547.80" y2="1238.70" stroke="#222" stroke-width="1.0" />
<rect x="492.10" y="1113.20" width="111.60" height="90.10" fill="none" stroke="#0f2a4a" stroke-width="1.15" />
<line x1="492.10" y1="1170.30" x2="603.70" y2="1170.30" stroke="#0f2a4a" stroke-width="1.8" />
<line x1="230.50" y1="821.30" x2="548.30" y2="821.30" stroke="#111" stroke-width="3.6" />
<line x1="230.50" y1="861.50" x2="383.90" y2="861.50" stroke="#111" stroke-width="3.6" />
<text transform="translate(371.54,816.50) scale(1,1.04)" font-size="26.5" fill="#000" >***</text>
<text transform="translate(296.04,854.00) scale(1,1.04)" font-size="26.5" fill="#000" >***</text>
<path d="M843.5,46.9 L843.5,530.0 L1411.4,530.0" fill="none" stroke="#000" stroke-width="6.2" stroke-linecap="round" stroke-linejoin="round"/>
<line x1="828.50" y1="512.50" x2="841.50" y2="512.50" stroke="#444" stroke-width="1.5" />
<text transform="translate(795.32,522.95) scale(1,1.04)" font-size="29.2" fill="#000" >0</text>
<line x1="828.50" y1="445.20" x2="841.50" y2="445.20" stroke="#444" stroke-width="1.5" />
<text transform="translate(776.78,455.65) scale(1,1.04)" font-size="29.2" fill="#000" >20</text>
<line x1="828.50" y1="378.00" x2="841.50" y2="378.00" stroke="#444" stroke-width="1.5" />
<text transform="translate(776.78,388.45) scale(1,1.04)" font-size="29.2" fill="#000" >40</text>
<line x1="828.50" y1="310.90" x2="841.50" y2="310.90" stroke="#444" stroke-width="1.5" />
<text transform="translate(776.78,321.35) scale(1,1.04)" font-size="29.2" fill="#000" >60</text>
<line x1="828.50" y1="243.90" x2="841.50" y2="243.90" stroke="#444" stroke-width="1.5" />
<text transform="translate(776.78,254.35) scale(1,1.04)" font-size="29.2" fill="#000" >80</text>
<line x1="828.50" y1="176.50" x2="841.50" y2="176.50" stroke="#444" stroke-width="1.5" />
<text transform="translate(758.44,186.95) scale(1,1.04)" font-size="29.2" fill="#000" >100</text>
<line x1="828.50" y1="109.40" x2="841.50" y2="109.40" stroke="#444" stroke-width="1.5" />
<text transform="translate(758.44,119.85) scale(1,1.04)" font-size="29.2" fill="#000" >120</text>
<line x1="864.75" y1="533.50" x2="864.75" y2="545.00" stroke="#555" stroke-width="1.5" />
<text transform="translate(856.72,586.30) scale(1,1.04)" font-size="29.2" fill="#000" >0</text>
<line x1="958.75" y1="533.50" x2="958.75" y2="545.00" stroke="#555" stroke-width="1.5" />
<text transform="translate(950.57,586.30) scale(1,1.04)" font-size="29.2" fill="#000" >5</text>
<line x1="1053.00" y1="533.50" x2="1053.00" y2="545.00" stroke="#555" stroke-width="1.5" />
<text transform="translate(1036.27,586.30) scale(1,1.04)" font-size="29.2" fill="#000" >10</text>
<line x1="1147.75" y1="533.50" x2="1147.75" y2="545.00" stroke="#555" stroke-width="1.5" />
<text transform="translate(1131.02,586.30) scale(1,1.04)" font-size="29.2" fill="#000" >15</text>
<line x1="1241.50" y1="533.50" x2="1241.50" y2="545.00" stroke="#555" stroke-width="1.5" />
<text transform="translate(1225.06,586.30) scale(1,1.04)" font-size="29.2" fill="#000" >20</text>
<line x1="1335.75" y1="533.50" x2="1335.75" y2="545.00" stroke="#555" stroke-width="1.5" />
<text transform="translate(1319.31,586.30) scale(1,1.04)" font-size="29.2" fill="#000" >25</text>
<text transform="translate(912.42,636.00) scale(1,1.04)" font-size="29.2" fill="#000" >square root time period (min)</text>
<text transform="translate(733.9,470.8) rotate(-90) scale(1,1.04)" font-size="29.2" fill="#000">Mean displacement (µm)</text>
<text transform="translate(1031.96,26.20) scale(1,1.04)" font-size="29.2" fill="#000" >MDA-MB-231</text>
<line x1="888.10" y1="97.10" x2="931.40" y2="97.10" stroke="#e9876c" stroke-width="1.6" />
<text transform="translate(949.92,103.90) scale(1,1.04)" font-size="29.2" fill="#000" >siCTRL</text>
<line x1="888.10" y1="125.40" x2="931.40" y2="125.40" stroke="#78aa6e" stroke-width="1.6" />
<text transform="translate(950.50,134.30) scale(1,1.04)" font-size="29.2" fill="#000" >#1</text>
<line x1="888.10" y1="153.80" x2="931.40" y2="153.80" stroke="#a9cde2" stroke-width="1.6" />
<text transform="translate(950.50,165.30) scale(1,1.04)" font-size="29.2" fill="#000" >#2</text>
<polygon points="864.8,511.5 905.0,488.2 925.0,478.2 946.7,469.0 956.7,462.9 991.7,433.8 1038.3,398.5 1064.2,377.0 1088.2,365.1 1102.4,353.1 1119.3,343.0 1144.7,323.4 1165.0,302.9 1183.1,287.8 1199.6,276.6 1216.2,265.5 1232.7,254.3 1238.2,245.4 1249.2,234.3 1265.8,223.2 1282.3,206.4 1300.0,195.3 1321.7,185.8 1326.7,186.6 1346.7,170.4 1376.7,156.5 1390.8,142.7 1390.8,156.7 1376.7,170.1 1346.7,183.0 1326.7,198.4 1321.7,197.6 1300.0,206.3 1282.3,217.2 1265.8,233.6 1249.2,244.5 1238.2,255.4 1232.7,264.1 1216.2,275.1 1199.6,286.0 1183.1,296.8 1165.0,311.1 1144.7,330.6 1119.3,349.0 1102.4,358.3 1088.2,369.9 1064.2,381.6 1038.3,402.7 991.7,437.4 956.7,466.1 946.7,472.0 925.0,481.0 905.0,490.8 864.8,513.5" fill="rgba(95,180,90,0.55)"/>
<polyline points="864.8,512.5 905.0,489.5 925.0,479.6 946.7,470.5 956.7,464.5 991.7,435.6 1038.3,400.6 1064.2,379.3 1088.2,367.5 1102.4,355.7 1119.3,346.0 1144.7,327.0 1165.0,307.0 1183.1,292.3 1199.6,281.3 1216.2,270.3 1232.7,259.2 1238.2,250.4 1249.2,239.4 1265.8,228.4 1282.3,211.8 1300.0,200.8 1321.7,191.7 1326.7,192.5 1346.7,176.7 1376.7,163.3 1390.8,149.7" fill="none" stroke="#3f9a3c" stroke-width="3.3" stroke-linejoin="round"/>
<polygon points="864.8,511.5 905.0,488.2 925.0,477.8 946.7,467.5 956.7,461.4 991.7,433.2 1038.3,397.9 1064.2,376.0 1088.2,363.2 1102.4,348.9 1119.3,337.2 1144.7,318.2 1155.5,305.1 1183.1,282.3 1199.6,265.7 1216.2,251.1 1232.7,242.2 1243.7,232.2 1260.3,225.3 1271.3,220.6 1282.3,209.1 1300.0,200.9 1321.7,180.7 1346.7,156.2 1363.3,143.7 1380.0,134.5 1390.8,125.7 1390.8,147.7 1380.0,155.5 1363.3,162.9 1346.7,173.8 1321.7,195.9 1300.0,213.9 1282.3,221.1 1271.3,231.8 1260.3,235.9 1243.7,242.2 1232.7,252.0 1216.2,260.7 1199.6,274.9 1183.1,291.3 1155.5,312.9 1144.7,325.4 1119.3,343.2 1102.4,354.1 1088.2,368.0 1064.2,380.6 1038.3,402.1 991.7,436.8 956.7,464.6 946.7,470.5 925.0,480.6 905.0,490.8 864.8,513.5" fill="rgba(120,190,235,0.55)"/>
<polyline points="864.8,512.5 905.0,489.5 925.0,479.2 946.7,469.0 956.7,463.0 991.7,435.0 1038.3,400.0 1064.2,378.3 1088.2,365.6 1102.4,351.5 1119.3,340.2 1144.7,321.8 1155.5,309.0 1183.1,286.8 1199.6,270.3 1216.2,255.9 1232.7,247.1 1243.7,237.2 1260.3,230.6 1271.3,226.2 1282.3,215.1 1300.0,207.4 1321.7,188.3 1346.7,165.0 1363.3,153.3 1380.0,145.0 1390.8,136.7" fill="none" stroke="#6cb6de" stroke-width="3.8" stroke-linejoin="round"/>
<polygon points="864.8,511.7 905.0,487.5 946.7,463.1 953.3,457.2 1008.3,405.4 1044.2,375.2 1060.0,362.6 1085.7,340.6 1102.4,326.9 1130.6,295.5 1150.0,278.8 1168.7,257.5 1183.1,249.6 1199.6,236.2 1216.2,222.7 1236.0,205.9 1245.9,191.4 1254.7,181.4 1276.8,162.4 1287.8,155.6 1305.0,138.7 1316.7,128.5 1340.0,119.0 1348.3,106.4 1363.3,94.5 1380.0,79.2 1390.8,68.2 1390.8,80.2 1380.0,90.8 1363.3,105.5 1348.3,117.0 1340.0,129.4 1316.7,138.1 1305.0,147.9 1287.8,164.4 1276.8,170.8 1254.7,189.4 1245.9,199.2 1236.0,213.3 1216.2,229.7 1199.6,242.6 1183.1,255.6 1168.7,263.1 1150.0,283.8 1130.6,300.1 1102.4,330.9 1085.7,344.4 1060.0,365.8 1044.2,378.2 1008.3,408.0 953.3,459.4 946.7,465.3 905.0,489.5 864.8,513.3" fill="rgba(240,110,80,0.55)"/>
<polyline points="864.8,512.5 905.0,488.5 946.7,464.2 953.3,458.3 1008.3,406.7 1044.2,376.7 1060.0,364.2 1085.7,342.5 1102.4,328.9 1130.6,297.8 1150.0,281.3 1168.7,260.3 1183.1,252.6 1199.6,239.4 1216.2,226.2 1236.0,209.6 1245.9,195.3 1254.7,185.4 1276.8,166.6 1287.8,160.0 1305.0,143.3 1316.7,133.3 1340.0,124.2 1348.3,111.7 1363.3,100.0 1380.0,85.0 1390.8,74.2" fill="none" stroke="#e1502a" stroke-width="3.3" stroke-linejoin="round"/>
<path d="M843.5,759.5 L843.5,1241.5 L1411.5,1241.5" fill="none" stroke="#333" stroke-width="1.5"/>
<line x1="828.50" y1="1223.75" x2="843.50" y2="1223.75" stroke="#444" stroke-width="1.5" />
<text transform="translate(795.32,1234.20) scale(1,1.04)" font-size="29.2" fill="#000" >0</text>
<line x1="828.50" y1="1134.25" x2="843.50" y2="1134.25" stroke="#444" stroke-width="1.5" />
<text transform="translate(776.88,1144.70) scale(1,1.04)" font-size="29.2" fill="#000" >10</text>
<line x1="828.50" y1="1044.25" x2="843.50" y2="1044.25" stroke="#444" stroke-width="1.5" />
<text transform="translate(776.88,1054.70) scale(1,1.04)" font-size="29.2" fill="#000" >20</text>
<line x1="828.50" y1="954.50" x2="843.50" y2="954.50" stroke="#444" stroke-width="1.5" />
<text transform="translate(776.88,964.95) scale(1,1.04)" font-size="29.2" fill="#000" >30</text>
<line x1="828.50" y1="864.50" x2="843.50" y2="864.50" stroke="#444" stroke-width="1.5" />
<text transform="translate(776.88,874.95) scale(1,1.04)" font-size="29.2" fill="#000" >40</text>
<line x1="828.50" y1="774.50" x2="843.50" y2="774.50" stroke="#444" stroke-width="1.5" />
<text transform="translate(776.88,784.95) scale(1,1.04)" font-size="29.2" fill="#000" >50</text>
<line x1="864.75" y1="1241.50" x2="864.75" y2="1256.20" stroke="#444" stroke-width="1.5" />
<text transform="translate(856.72,1287.50) scale(1,1.04)" font-size="29.2" fill="#000" >0</text>
<line x1="997.50" y1="1241.50" x2="997.50" y2="1256.20" stroke="#444" stroke-width="1.5" />
<text transform="translate(989.32,1287.50) scale(1,1.04)" font-size="29.2" fill="#000" >5</text>
<line x1="1131.00" y1="1241.50" x2="1131.00" y2="1256.20" stroke="#444" stroke-width="1.5" />
<text transform="translate(1114.27,1287.50) scale(1,1.04)" font-size="29.2" fill="#000" >10</text>
<line x1="1264.00" y1="1241.50" x2="1264.00" y2="1256.20" stroke="#444" stroke-width="1.5" />
<text transform="translate(1247.27,1287.50) scale(1,1.04)" font-size="29.2" fill="#000" >15</text>
<line x1="1397.00" y1="1241.50" x2="1397.00" y2="1256.20" stroke="#444" stroke-width="1.5" />
<text transform="translate(1380.56,1287.50) scale(1,1.04)" font-size="29.2" fill="#000" >20</text>
<text transform="translate(914.92,1340.00) scale(1,1.04)" font-size="29.2" fill="#000" >square root time period (min)</text>
<text transform="translate(733.9,1182.3) rotate(-90) scale(1,1.04)" font-size="29.2" fill="#000">Mean displacement (µm)</text>
<text transform="translate(1031.96,751.30) scale(1,1.04)" font-size="29.2" fill="#000" >MDA-MB-468</text>
<line x1="896.00" y1="837.00" x2="940.00" y2="837.00" stroke="#ec8a78" stroke-width="1.4" />
<text transform="translate(958.72,843.80) scale(1,1.04)" font-size="29.2" fill="#000" >siCTRL</text>
<line x1="896.00" y1="865.50" x2="940.00" y2="865.50" stroke="#7fb27a" stroke-width="1.4" />
<text transform="translate(959.30,873.80) scale(1,1.04)" font-size="29.2" fill="#000" >#1</text>
<line x1="896.00" y1="894.00" x2="940.00" y2="894.00" stroke="#9ccbe8" stroke-width="1.4" />
<text transform="translate(959.30,905.00) scale(1,1.04)" font-size="29.2" fill="#000" >#2</text>
<polygon points="864.8,1223.2 910.0,1205.4 960.0,1186.0 1026.7,1153.1 1060.0,1134.1 1095.7,1113.3 1113.3,1101.3 1155.0,1074.2 1171.7,1059.1 1230.0,1026.4 1238.3,996.6 1276.7,975.8 1305.0,952.6 1330.0,934.7 1346.7,924.3 1371.7,916.9 1385.0,902.4 1390.0,888.7 1390.0,924.7 1385.0,937.6 1371.7,949.7 1346.7,955.7 1330.0,968.7 1305.0,980.8 1276.7,1004.2 1238.3,1016.9 1230.0,1040.2 1171.7,1070.9 1155.0,1085.8 1113.3,1112.1 1095.7,1123.3 1060.0,1142.5 1026.7,1160.3 960.0,1190.6 910.0,1208.0 864.8,1224.3" fill="rgba(90,175,80,0.55)"/>
<polyline points="864.8,1223.8 910.0,1206.7 960.0,1188.3 1026.7,1156.7 1060.0,1138.3 1095.7,1118.3 1113.3,1106.7 1155.0,1080.0 1171.7,1065.0 1230.0,1033.3 1238.3,1006.7 1276.7,990.0 1305.0,966.7 1330.0,951.7 1346.7,940.0 1371.7,933.3 1385.0,920.0 1390.0,906.7" fill="none" stroke="#5f9f58" stroke-width="1.2" stroke-linejoin="round"/>
<polygon points="864.8,1223.2 910.0,1202.9 960.0,1176.0 1010.0,1146.8 1051.7,1125.9 1076.7,1108.7 1085.0,1101.2 1100.0,1091.4 1121.7,1074.5 1155.0,1050.4 1196.7,1019.3 1226.7,991.0 1240.0,977.0 1263.3,953.0 1285.0,939.0 1304.0,931.8 1330.0,902.7 1355.0,882.3 1375.0,862.9 1383.3,859.1 1390.0,850.0 1390.0,886.0 1383.3,894.3 1375.0,897.1 1355.0,914.3 1330.0,933.9 1304.0,960.2 1285.0,964.4 1263.3,975.0 1240.0,996.4 1226.7,1009.0 1196.7,1034.1 1155.0,1063.0 1121.7,1085.5 1100.0,1101.6 1085.0,1110.8 1076.7,1117.9 1051.7,1134.1 1010.0,1153.2 960.0,1180.6 910.0,1205.5 864.8,1224.3" fill="rgba(120,190,235,0.55)"/>
<polyline points="864.8,1223.8 910.0,1204.2 960.0,1178.3 1010.0,1150.0 1051.7,1130.0 1076.7,1113.3 1085.0,1106.0 1100.0,1096.5 1121.7,1080.0 1155.0,1056.7 1196.7,1026.7 1226.7,1000.0 1240.0,986.7 1263.3,964.0 1285.0,951.7 1304.0,946.0 1330.0,918.3 1355.0,898.3 1375.0,880.0 1383.3,876.7 1390.0,868.0" fill="none" stroke="#8dc1e2" stroke-width="1.2" stroke-linejoin="round"/>
<polygon points="864.8,1223.2 910.0,1198.8 960.0,1171.4 993.3,1150.9 1026.7,1127.0 1060.0,1099.6 1080.0,1080.2 1100.0,1062.3 1130.0,1035.0 1155.0,1010.6 1168.3,1003.4 1180.0,981.2 1205.0,965.0 1230.0,936.3 1240.0,906.8 1263.3,891.1 1286.7,873.2 1296.7,855.0 1320.0,838.7 1326.7,836.8 1346.7,819.5 1356.7,800.9 1376.7,784.5 1390.0,776.8 1390.0,809.8 1376.7,815.5 1356.7,829.1 1346.7,847.1 1326.7,863.2 1320.0,864.7 1296.7,881.6 1286.7,900.2 1263.3,915.5 1240.0,928.2 1230.0,956.3 1205.0,981.6 1180.0,995.4 1168.3,1016.6 1155.0,1022.8 1130.0,1045.0 1100.0,1071.1 1080.0,1088.2 1060.0,1107.0 1026.7,1133.0 993.3,1155.7 960.0,1175.2 910.0,1201.2 864.8,1224.3" fill="rgba(238,110,80,0.6)"/>
<polyline points="864.8,1223.8 910.0,1200.0 960.0,1173.3 993.3,1153.3 1026.7,1130.0 1060.0,1103.3 1080.0,1084.2 1100.0,1066.7 1130.0,1040.0 1155.0,1016.7 1168.3,1010.0 1180.0,988.3 1205.0,973.3 1230.0,946.3 1240.0,917.5 1263.3,903.3 1286.7,886.7 1296.7,868.3 1320.0,851.7 1326.7,850.0 1346.7,833.3 1356.7,815.0 1376.7,800.0 1390.0,793.3" fill="none" stroke="#e2694a" stroke-width="1.2" stroke-linejoin="round"/></svg></body></html>
